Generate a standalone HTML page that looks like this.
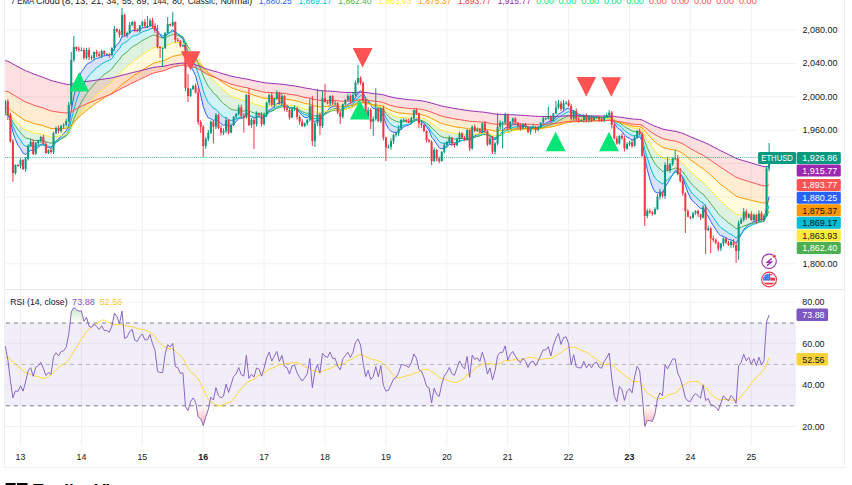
<!DOCTYPE html>
<html><head><meta charset="utf-8"><style>
html,body{margin:0;padding:0;background:#fff;width:852px;height:485px;overflow:hidden}
svg{display:block}
</style></head><body>
<svg width="852" height="485" viewBox="0 0 852 485">
<line x1="20.5" y1="0" x2="20.5" y2="446" stroke="#f1f1f3" stroke-width="1"/>
<line x1="81.4" y1="0" x2="81.4" y2="446" stroke="#f1f1f3" stroke-width="1"/>
<line x1="142.3" y1="0" x2="142.3" y2="446" stroke="#f1f1f3" stroke-width="1"/>
<line x1="203.2" y1="0" x2="203.2" y2="446" stroke="#f1f1f3" stroke-width="1"/>
<line x1="264.1" y1="0" x2="264.1" y2="446" stroke="#f1f1f3" stroke-width="1"/>
<line x1="325.0" y1="0" x2="325.0" y2="446" stroke="#f1f1f3" stroke-width="1"/>
<line x1="385.9" y1="0" x2="385.9" y2="446" stroke="#f1f1f3" stroke-width="1"/>
<line x1="446.8" y1="0" x2="446.8" y2="446" stroke="#f1f1f3" stroke-width="1"/>
<line x1="507.7" y1="0" x2="507.7" y2="446" stroke="#f1f1f3" stroke-width="1"/>
<line x1="568.6" y1="0" x2="568.6" y2="446" stroke="#f1f1f3" stroke-width="1"/>
<line x1="629.5" y1="0" x2="629.5" y2="446" stroke="#f1f1f3" stroke-width="1"/>
<line x1="690.4" y1="0" x2="690.4" y2="446" stroke="#f1f1f3" stroke-width="1"/>
<line x1="751.3" y1="0" x2="751.3" y2="446" stroke="#f1f1f3" stroke-width="1"/>
<line x1="5" y1="30.0" x2="796" y2="30.0" stroke="#f1f1f3" stroke-width="1"/>
<line x1="5" y1="63.4" x2="796" y2="63.4" stroke="#f1f1f3" stroke-width="1"/>
<line x1="5" y1="96.8" x2="796" y2="96.8" stroke="#f1f1f3" stroke-width="1"/>
<line x1="5" y1="130.2" x2="796" y2="130.2" stroke="#f1f1f3" stroke-width="1"/>
<line x1="5" y1="163.6" x2="796" y2="163.6" stroke="#f1f1f3" stroke-width="1"/>
<line x1="5" y1="197.0" x2="796" y2="197.0" stroke="#f1f1f3" stroke-width="1"/>
<line x1="5" y1="230.4" x2="796" y2="230.4" stroke="#f1f1f3" stroke-width="1"/>
<line x1="5" y1="263.8" x2="796" y2="263.8" stroke="#f1f1f3" stroke-width="1"/>
<line x1="5" y1="302.3" x2="796" y2="302.3" stroke="#f1f1f3" stroke-width="1"/>
<line x1="5" y1="343.7" x2="796" y2="343.7" stroke="#f1f1f3" stroke-width="1"/>
<line x1="5" y1="385.1" x2="796" y2="385.1" stroke="#f1f1f3" stroke-width="1"/>
<line x1="5" y1="426.5" x2="796" y2="426.5" stroke="#f1f1f3" stroke-width="1"/>
<polygon points="5.30,114.29 7.84,114.38 10.38,120.38 12.91,132.08 15.45,139.39 17.99,145.31 20.53,148.57 23.06,153.11 25.60,154.42 28.14,152.55 30.68,150.20 33.21,151.05 35.75,149.26 38.29,147.42 40.82,145.11 43.36,144.86 45.90,146.67 48.44,147.41 50.98,148.43 53.51,145.00 56.05,141.22 58.59,138.95 61.12,136.07 63.66,133.61 66.20,130.81 68.74,125.07 71.28,110.61 73.81,96.48 76.35,85.93 78.89,77.94 81.42,71.73 83.96,68.68 86.50,64.53 89.04,62.86 91.58,61.78 94.11,59.60 96.65,58.36 99.19,57.83 101.72,56.32 104.26,55.80 106.80,55.40 109.34,55.31 111.88,53.69 114.41,48.20 116.95,44.38 119.49,42.29 122.03,36.23 124.56,35.96 127.10,35.30 129.64,33.01 132.18,30.56 134.71,30.44 137.25,30.56 139.79,29.44 142.33,27.79 144.86,27.39 147.40,27.08 149.94,25.62 152.48,25.70 155.01,26.77 157.55,31.26 160.09,34.98 162.63,37.88 165.16,36.79 167.70,33.95 170.24,32.07 172.78,29.83 175.31,32.09 177.85,34.07 180.39,36.72 182.93,38.70 185.46,49.65 188.00,59.95 190.54,66.41 193.08,70.76 195.61,75.61 198.15,85.92 200.69,95.05 203.23,106.37 205.76,113.62 208.30,117.84 210.84,118.70 213.38,120.48 215.91,119.26 218.45,121.20 220.99,123.73 223.53,125.35 226.06,124.16 228.60,126.04 231.14,125.81 233.68,123.78 236.21,121.61 238.75,118.47 241.29,117.92 243.83,117.85 246.36,112.77 248.90,115.49 251.44,116.49 253.98,118.16 256.51,117.10 259.05,116.64 261.59,118.27 264.12,117.55 266.66,114.22 269.20,109.95 271.74,108.85 274.28,106.66 276.81,103.54 279.35,103.51 281.89,101.84 284.43,103.30 286.96,104.79 289.50,107.63 292.04,107.94 294.58,108.04 297.11,109.99 299.65,112.61 302.19,115.59 304.73,117.32 307.26,117.92 309.80,115.27 312.34,120.99 314.88,121.52 317.41,119.94 319.95,121.29 322.49,116.16 325.03,113.01 327.56,110.88 330.10,107.57 332.64,106.64 335.18,105.92 337.71,107.41 340.25,109.47 342.79,108.30 345.33,106.46 347.86,104.13 350.40,103.44 352.94,101.56 355.48,97.35 358.01,93.05 360.55,90.82 363.09,92.86 365.62,98.15 368.16,100.79 370.70,105.46 373.24,108.47 375.78,108.45 378.31,111.24 380.85,110.61 383.39,116.61 385.93,123.49 388.46,128.67 391.00,131.41 393.54,132.21 396.08,132.47 398.61,131.57 401.15,129.00 403.69,127.00 406.23,125.67 408.76,124.98 411.30,123.52 413.84,120.52 416.38,118.93 418.91,119.93 421.45,121.05 423.99,123.26 426.53,126.98 429.06,130.28 431.60,137.10 434.14,139.97 436.68,144.09 439.21,147.85 441.75,148.72 444.29,147.90 446.83,146.54 449.36,144.55 451.90,144.32 454.44,144.47 456.98,143.32 459.51,141.14 462.05,140.35 464.59,140.27 467.12,137.99 469.66,140.33 472.20,137.32 474.74,135.92 477.28,134.45 479.81,134.04 482.35,131.67 484.89,131.52 487.43,134.36 489.96,135.28 492.50,138.95 495.04,139.96 497.58,137.04 500.11,133.83 502.65,131.33 505.19,127.70 507.73,127.86 510.26,126.51 512.80,124.71 515.34,124.24 517.88,124.63 520.41,125.47 522.95,125.21 525.49,125.56 528.02,126.95 530.56,127.09 533.10,127.03 535.64,127.69 538.17,127.49 540.71,126.40 543.25,124.63 545.79,123.24 548.32,121.63 550.86,121.49 553.40,119.69 555.94,117.01 558.48,113.98 561.01,112.88 563.55,110.77 566.09,108.95 568.62,108.30 571.16,110.54 573.70,110.64 576.24,112.57 578.77,114.22 581.31,115.50 583.85,115.61 586.39,116.59 588.92,116.81 591.46,117.52 594.00,117.54 596.54,117.37 599.07,117.80 601.61,118.29 604.15,117.96 606.69,117.30 609.23,116.26 611.76,118.20 614.30,122.71 616.84,127.33 619.38,129.26 621.91,131.31 624.45,135.13 626.99,137.10 629.52,138.30 632.06,140.01 634.60,139.45 637.14,137.58 639.67,136.78 642.21,141.05 644.75,157.71 647.29,169.55 649.82,179.09 652.36,186.85 654.90,191.77 657.44,192.87 659.98,192.61 662.51,193.36 665.05,187.06 667.59,183.27 670.12,178.99 672.66,174.41 675.20,170.76 677.74,171.55 680.27,173.65 682.81,178.04 685.35,185.36 687.89,192.33 690.42,197.94 692.96,201.38 695.50,203.52 698.04,205.89 700.57,208.49 703.11,208.27 705.65,213.10 708.19,216.50 710.73,221.39 713.26,225.52 715.80,229.32 718.34,233.58 720.88,235.79 723.41,236.39 725.95,237.77 728.49,239.38 731.02,239.91 733.56,241.04 736.10,243.26 738.64,238.84 741.17,234.66 743.71,229.56 746.25,226.90 748.79,224.08 751.32,223.17 753.86,221.35 756.40,221.28 758.94,219.53 761.48,219.63 764.01,218.82 766.55,207.64 769.09,196.59 769.09,205.60 766.55,213.55 764.01,221.06 761.48,221.90 758.94,222.22 756.40,223.69 753.86,224.14 751.32,225.66 748.79,226.61 746.25,228.68 743.71,230.52 741.17,233.66 738.64,235.93 736.10,238.02 733.56,235.86 731.02,234.34 728.49,233.09 725.95,231.11 723.41,229.20 720.88,227.64 718.34,225.00 715.80,221.09 713.26,217.50 710.73,213.75 708.19,209.62 705.65,206.50 703.11,202.58 700.57,201.76 698.04,199.12 695.50,196.60 692.96,194.20 690.42,191.00 687.89,186.57 685.35,181.55 682.81,176.64 680.27,173.85 677.74,172.66 675.20,172.38 672.66,174.78 670.12,177.51 667.59,179.76 665.05,181.39 662.51,184.12 659.98,182.14 657.44,180.54 654.90,177.85 652.36,172.66 649.82,165.77 647.29,157.98 644.75,149.15 642.21,138.00 639.67,135.00 637.14,135.17 634.60,135.87 632.06,135.60 629.52,133.86 626.99,132.42 624.45,130.49 621.91,127.49 619.38,125.66 616.84,123.93 614.30,120.67 611.76,117.70 609.23,116.48 606.69,117.13 604.15,117.48 601.61,117.60 599.07,117.20 596.54,116.85 594.00,116.85 591.46,116.73 588.92,116.18 586.39,115.95 583.85,115.27 581.31,115.15 578.77,114.34 576.24,113.40 573.70,112.42 571.16,112.65 568.62,111.70 566.09,112.65 563.55,114.32 561.01,116.14 558.48,117.33 555.94,119.65 553.40,121.66 550.86,123.04 548.32,123.38 545.79,124.61 543.25,125.64 540.71,126.85 538.17,127.56 535.64,127.68 533.10,127.30 530.56,127.38 528.02,127.35 525.49,126.60 522.95,126.57 520.41,126.95 517.88,126.71 515.34,126.82 512.80,127.53 510.26,129.05 507.73,130.26 505.19,130.57 502.65,133.16 500.11,134.92 497.58,136.98 495.04,138.67 492.50,137.87 489.96,135.55 487.43,135.05 484.89,133.51 482.35,133.93 479.81,135.69 477.28,136.20 474.74,137.35 472.20,138.41 469.66,140.35 467.12,138.99 464.59,140.49 462.05,140.57 459.51,141.06 456.98,142.32 454.44,142.82 451.90,142.46 449.36,142.29 446.83,143.07 444.29,143.28 441.75,143.00 439.21,141.53 436.68,138.28 434.14,134.91 431.60,132.40 429.06,127.63 426.53,125.27 423.99,122.81 421.45,121.45 418.91,120.86 416.38,120.44 413.84,121.61 411.30,123.54 408.76,124.40 406.23,124.70 403.69,125.32 401.15,126.20 398.61,127.24 396.08,127.04 393.54,125.98 391.00,124.48 388.46,121.73 385.93,117.55 383.39,112.54 380.85,108.36 378.31,108.35 375.78,106.25 373.24,105.89 370.70,103.70 368.16,100.68 365.62,99.13 363.09,96.20 360.55,95.57 358.01,97.67 355.48,100.94 352.94,104.00 350.40,105.50 347.86,106.25 345.33,107.96 342.79,109.29 340.25,110.13 337.71,109.04 335.18,108.45 332.64,109.29 330.10,110.27 327.56,112.65 325.03,114.19 322.49,116.22 319.95,119.22 317.41,118.09 314.88,118.71 312.34,117.92 309.80,114.08 307.26,115.42 304.73,114.66 302.19,113.20 299.65,111.07 297.11,109.28 294.58,108.03 292.04,107.97 289.50,107.80 286.96,106.16 284.43,105.52 281.89,105.04 279.35,106.55 276.81,107.07 274.28,109.49 271.74,111.23 269.20,112.27 266.66,115.15 264.12,117.24 261.59,117.62 259.05,116.55 256.51,116.81 253.98,117.38 251.44,116.28 248.90,115.66 246.36,114.10 243.83,117.28 241.29,117.23 238.75,117.43 236.21,119.09 233.68,119.94 231.14,120.48 228.60,119.72 226.06,117.58 223.53,117.17 220.99,114.87 218.45,111.91 215.91,109.23 213.38,108.27 210.84,105.20 208.30,102.45 205.76,97.43 203.23,90.50 200.69,81.25 198.15,73.62 195.61,65.56 193.08,61.05 190.54,56.90 188.00,51.55 185.46,44.14 182.93,36.83 180.39,35.36 177.85,33.59 175.31,32.36 172.78,31.08 170.24,32.60 167.70,33.78 165.16,35.41 162.63,35.81 160.09,33.78 157.55,31.41 155.01,28.81 152.48,28.53 149.94,28.95 147.40,30.36 144.86,31.09 142.33,31.93 139.79,33.59 137.25,34.94 134.71,35.59 132.18,36.53 129.64,38.95 127.10,41.27 124.56,42.65 122.03,43.92 119.49,48.74 116.95,51.04 114.41,54.37 111.88,58.60 109.34,60.37 106.80,61.27 104.26,62.48 101.72,63.89 99.19,66.04 96.65,67.71 94.11,70.00 91.58,73.00 89.04,75.50 86.50,78.58 83.96,83.34 81.42,87.56 78.89,93.82 76.35,101.13 73.81,109.82 71.28,120.29 68.74,130.33 66.20,134.56 63.66,136.82 61.12,138.78 58.59,140.92 56.05,142.57 53.51,145.00 50.98,147.00 48.44,146.16 45.90,145.52 43.36,144.27 40.82,144.32 38.29,145.54 35.75,146.30 33.21,146.85 30.68,145.66 28.14,146.26 25.60,146.31 23.06,144.19 20.53,140.06 17.99,136.74 15.45,131.86 12.91,126.33 10.38,118.56 7.84,114.75 5.30,114.76" fill="#2962ff" fill-opacity="0.18"/>
<polygon points="5.30,114.76 7.84,114.75 10.38,118.56 12.91,126.33 15.45,131.86 17.99,136.74 20.53,140.06 23.06,144.19 25.60,146.31 28.14,146.26 30.68,145.66 33.21,146.85 35.75,146.30 38.29,145.54 40.82,144.32 43.36,144.27 45.90,145.52 48.44,146.16 50.98,147.00 53.51,145.00 56.05,142.57 58.59,140.92 61.12,138.78 63.66,136.82 66.20,134.56 68.74,130.33 71.28,120.29 73.81,109.82 76.35,101.13 78.89,93.82 81.42,87.56 83.96,83.34 86.50,78.58 89.04,75.50 91.58,73.00 94.11,70.00 96.65,67.71 99.19,66.04 101.72,63.89 104.26,62.48 106.80,61.27 109.34,60.37 111.88,58.60 114.41,54.37 116.95,51.04 119.49,48.74 122.03,43.92 124.56,42.65 127.10,41.27 129.64,38.95 132.18,36.53 134.71,35.59 137.25,34.94 139.79,33.59 142.33,31.93 144.86,31.09 147.40,30.36 149.94,28.95 152.48,28.53 155.01,28.81 157.55,31.41 160.09,33.78 162.63,35.81 165.16,35.41 167.70,33.78 170.24,32.60 172.78,31.08 175.31,32.36 177.85,33.59 180.39,35.36 182.93,36.83 185.46,44.14 188.00,51.55 190.54,56.90 193.08,61.05 195.61,65.56 198.15,73.62 200.69,81.25 203.23,90.50 205.76,97.43 208.30,102.45 210.84,105.20 213.38,108.27 215.91,109.23 218.45,111.91 220.99,114.87 223.53,117.17 226.06,117.58 228.60,119.72 231.14,120.48 233.68,119.94 236.21,119.09 238.75,117.43 241.29,117.23 243.83,117.28 246.36,114.10 248.90,115.66 251.44,116.28 253.98,117.38 256.51,116.81 259.05,116.55 261.59,117.62 264.12,117.24 266.66,115.15 269.20,112.27 271.74,111.23 274.28,109.49 276.81,107.07 279.35,106.55 281.89,105.04 284.43,105.52 286.96,106.16 289.50,107.80 292.04,107.97 294.58,108.03 297.11,109.28 299.65,111.07 302.19,113.20 304.73,114.66 307.26,115.42 309.80,114.08 312.34,117.92 314.88,118.71 317.41,118.09 319.95,119.22 322.49,116.22 325.03,114.19 327.56,112.65 330.10,110.27 332.64,109.29 335.18,108.45 337.71,109.04 340.25,110.13 342.79,109.29 345.33,107.96 347.86,106.25 350.40,105.50 352.94,104.00 355.48,100.94 358.01,97.67 360.55,95.57 363.09,96.20 365.62,99.13 368.16,100.68 370.70,103.70 373.24,105.89 375.78,106.25 378.31,108.35 380.85,108.36 383.39,112.54 385.93,117.55 388.46,121.73 391.00,124.48 393.54,125.98 396.08,127.04 398.61,127.24 401.15,126.20 403.69,125.32 406.23,124.70 408.76,124.40 411.30,123.54 413.84,121.61 416.38,120.44 418.91,120.86 421.45,121.45 423.99,122.81 426.53,125.27 429.06,127.63 431.60,132.40 434.14,134.91 436.68,138.28 439.21,141.53 441.75,143.00 444.29,143.28 446.83,143.07 449.36,142.29 451.90,142.46 454.44,142.82 456.98,142.32 459.51,141.06 462.05,140.57 464.59,140.49 467.12,138.99 469.66,140.35 472.20,138.41 474.74,137.35 477.28,136.20 479.81,135.69 482.35,133.93 484.89,133.51 487.43,135.05 489.96,135.55 492.50,137.87 495.04,138.67 497.58,136.98 500.11,134.92 502.65,133.16 505.19,130.57 507.73,130.26 510.26,129.05 512.80,127.53 515.34,126.82 517.88,126.71 520.41,126.95 522.95,126.57 525.49,126.60 528.02,127.35 530.56,127.38 533.10,127.30 535.64,127.68 538.17,127.56 540.71,126.85 543.25,125.64 545.79,124.61 548.32,123.38 550.86,123.04 553.40,121.66 555.94,119.65 558.48,117.33 561.01,116.14 563.55,114.32 566.09,112.65 568.62,111.70 571.16,112.65 573.70,112.42 576.24,113.40 578.77,114.34 581.31,115.15 583.85,115.27 586.39,115.95 588.92,116.18 591.46,116.73 594.00,116.85 596.54,116.85 599.07,117.20 601.61,117.60 604.15,117.48 606.69,117.13 609.23,116.48 611.76,117.70 614.30,120.67 616.84,123.93 619.38,125.66 621.91,127.49 624.45,130.49 626.99,132.42 629.52,133.86 632.06,135.60 634.60,135.87 637.14,135.17 639.67,135.00 642.21,138.00 644.75,149.15 647.29,157.98 649.82,165.77 652.36,172.66 654.90,177.85 657.44,180.54 659.98,182.14 662.51,184.12 665.05,181.39 667.59,179.76 670.12,177.51 672.66,174.78 675.20,172.38 677.74,172.66 680.27,173.85 682.81,176.64 685.35,181.55 687.89,186.57 690.42,191.00 692.96,194.20 695.50,196.60 698.04,199.12 700.57,201.76 703.11,202.58 705.65,206.50 708.19,209.62 710.73,213.75 713.26,217.50 715.80,221.09 718.34,225.00 720.88,227.64 723.41,229.20 725.95,231.11 728.49,233.09 731.02,234.34 733.56,235.86 736.10,238.02 738.64,235.93 741.17,233.66 743.71,230.52 746.25,228.68 748.79,226.61 751.32,225.66 753.86,224.14 756.40,223.69 758.94,222.22 761.48,221.90 764.01,221.06 766.55,213.55 769.09,205.60 769.09,211.16 766.55,216.48 764.01,221.28 761.48,221.81 758.94,221.99 756.40,222.85 753.86,223.03 751.32,223.84 748.79,224.22 746.25,225.22 743.71,225.98 741.17,227.41 738.64,228.15 736.10,228.63 733.56,226.39 731.02,224.53 728.49,222.80 725.95,220.58 723.41,218.38 720.88,216.37 718.34,213.66 715.80,210.17 713.26,206.93 710.73,203.62 708.19,200.14 705.65,197.31 703.11,194.04 700.57,192.69 698.04,190.20 695.50,187.80 692.96,185.48 690.42,182.69 687.89,179.20 685.35,175.45 682.81,171.90 680.27,169.75 677.74,168.62 675.20,168.05 672.66,169.06 670.12,170.13 667.59,170.74 665.05,170.81 662.51,171.39 659.98,168.93 657.44,166.66 654.90,163.65 652.36,159.12 649.82,153.63 647.29,147.74 644.75,141.41 642.21,133.96 639.67,131.75 637.14,131.53 634.60,131.58 632.06,130.99 629.52,129.49 626.99,128.18 624.45,126.60 621.91,124.41 619.38,123.00 616.84,121.71 614.30,119.53 611.76,117.63 609.23,116.89 606.69,117.32 604.15,117.55 601.61,117.63 599.07,117.39 596.54,117.20 594.00,117.24 591.46,117.20 588.92,116.92 586.39,116.86 583.85,116.54 581.31,116.59 578.77,116.25 576.24,115.88 573.70,115.54 571.16,115.99 568.62,115.75 566.09,116.73 563.55,118.14 561.01,119.61 558.48,120.67 555.94,122.40 553.40,123.88 550.86,124.93 548.32,125.32 545.79,126.25 543.25,127.04 540.71,127.90 538.17,128.43 535.64,128.60 533.10,128.46 530.56,128.62 528.02,128.72 525.49,128.42 522.95,128.58 520.41,129.01 517.88,129.07 515.34,129.37 512.80,130.05 510.26,131.22 507.73,132.16 505.19,132.53 502.65,134.29 500.11,135.46 497.58,136.74 495.04,137.74 492.50,137.16 489.96,135.69 487.43,135.41 484.89,134.53 482.35,134.88 479.81,136.03 477.28,136.37 474.74,137.08 472.20,137.68 469.66,138.77 467.12,137.80 464.59,138.58 462.05,138.44 459.51,138.52 456.98,139.02 454.44,138.99 451.90,138.39 449.36,137.88 446.83,137.91 444.29,137.52 441.75,136.77 439.21,135.27 436.68,132.70 434.14,130.12 431.60,128.13 429.06,124.84 426.53,123.15 423.99,121.46 421.45,120.51 418.91,120.06 416.38,119.72 413.84,120.36 411.30,121.39 408.76,121.69 406.23,121.60 403.69,121.66 401.15,121.83 398.61,122.01 396.08,121.37 393.54,120.17 391.00,118.68 388.46,116.45 385.93,113.42 383.39,110.00 380.85,107.24 378.31,107.12 375.78,105.73 373.24,105.47 370.70,104.12 368.16,102.35 365.62,101.58 363.09,100.07 360.55,100.08 358.01,101.78 355.48,104.16 352.94,106.32 350.40,107.45 347.86,108.10 345.33,109.30 342.79,110.24 340.25,110.84 337.71,110.25 335.18,110.02 332.64,110.68 330.10,111.41 327.56,112.95 325.03,113.90 322.49,115.09 319.95,116.78 317.41,115.86 314.88,116.01 312.34,115.27 309.80,112.70 307.26,113.37 304.73,112.70 302.19,111.63 299.65,110.19 297.11,109.03 294.58,108.26 292.04,108.24 289.50,108.17 286.96,107.22 284.43,106.95 281.89,106.80 279.35,107.88 276.81,108.33 274.28,109.90 271.74,110.99 269.20,111.59 266.66,113.25 264.12,114.32 261.59,114.25 259.05,113.27 256.51,113.10 253.98,113.07 251.44,111.98 248.90,111.18 246.36,109.80 243.83,111.27 241.29,110.64 238.75,110.11 236.21,110.37 233.68,110.00 231.14,109.33 228.60,107.77 226.06,105.28 223.53,103.81 220.99,101.09 218.45,97.94 215.91,94.94 213.38,92.93 210.84,89.55 208.30,86.34 205.76,81.71 203.23,75.98 200.69,68.98 198.15,63.18 195.61,57.30 193.08,53.77 190.54,50.55 188.00,46.70 185.46,41.77 182.93,37.15 180.39,36.30 177.85,35.33 175.31,34.77 172.78,34.24 170.24,35.47 167.70,36.47 165.16,37.71 162.63,38.18 160.09,37.20 157.55,36.12 155.01,35.03 152.48,35.49 149.94,36.44 147.40,38.03 144.86,39.23 142.33,40.56 139.79,42.41 137.25,44.10 134.71,45.41 132.18,46.95 129.64,49.45 127.10,51.90 124.56,53.78 122.03,55.66 119.49,59.73 116.95,62.20 114.41,65.32 111.88,68.96 109.34,71.05 106.80,72.66 104.26,74.52 101.72,76.57 99.19,79.13 96.65,81.44 94.11,84.19 91.58,87.41 89.04,90.35 86.50,93.68 83.96,98.05 81.42,102.06 78.89,107.26 76.35,112.99 73.81,119.39 71.28,126.62 68.74,133.29 66.20,136.12 63.66,137.63 61.12,138.89 58.59,140.18 56.05,141.10 53.51,142.41 50.98,143.35 48.44,142.48 45.90,141.73 43.36,140.60 40.82,140.26 38.29,140.59 35.75,140.55 33.21,140.30 30.68,138.93 28.14,138.63 25.60,137.89 23.06,135.78 20.53,132.46 17.99,129.70 15.45,126.07 12.91,122.18 10.38,117.10 7.84,114.67 5.30,114.66" fill="#00bcd4" fill-opacity="0.18"/>
<polygon points="5.30,114.66 7.84,114.67 10.38,117.10 12.91,122.18 15.45,126.07 17.99,129.70 20.53,132.46 23.06,135.78 25.60,137.89 28.14,138.63 30.68,138.93 33.21,140.30 35.75,140.55 38.29,140.59 40.82,140.26 43.36,140.60 45.90,141.73 48.44,142.48 50.98,143.35 53.51,142.41 56.05,141.10 58.59,140.18 61.12,138.89 63.66,137.63 66.20,136.12 68.74,133.29 71.28,126.62 73.81,119.39 76.35,112.99 78.89,107.26 81.42,102.06 83.96,98.05 86.50,93.68 89.04,90.35 91.58,87.41 94.11,84.19 96.65,81.44 99.19,79.13 101.72,76.57 104.26,74.52 106.80,72.66 109.34,71.05 111.88,68.96 114.41,65.32 116.95,62.20 119.49,59.73 122.03,55.66 124.56,53.78 127.10,51.90 129.64,49.45 132.18,46.95 134.71,45.41 137.25,44.10 139.79,42.41 142.33,40.56 144.86,39.23 147.40,38.03 149.94,36.44 152.48,35.49 155.01,35.03 157.55,36.12 160.09,37.20 162.63,38.18 165.16,37.71 167.70,36.47 170.24,35.47 172.78,34.24 175.31,34.77 177.85,35.33 180.39,36.30 182.93,37.15 185.46,41.77 188.00,46.70 190.54,50.55 193.08,53.77 195.61,57.30 198.15,63.18 200.69,68.98 203.23,75.98 205.76,81.71 208.30,86.34 210.84,89.55 213.38,92.93 215.91,94.94 218.45,97.94 220.99,101.09 223.53,103.81 226.06,105.28 228.60,107.77 231.14,109.33 233.68,110.00 236.21,110.37 238.75,110.11 241.29,110.64 243.83,111.27 246.36,109.80 248.90,111.18 251.44,111.98 253.98,113.07 256.51,113.10 259.05,113.27 261.59,114.25 264.12,114.32 266.66,113.25 269.20,111.59 271.74,110.99 274.28,109.90 276.81,108.33 279.35,107.88 281.89,106.80 284.43,106.95 286.96,107.22 289.50,108.17 292.04,108.24 294.58,108.26 297.11,109.03 299.65,110.19 302.19,111.63 304.73,112.70 307.26,113.37 309.80,112.70 312.34,115.27 314.88,116.01 317.41,115.86 319.95,116.78 322.49,115.09 325.03,113.90 327.56,112.95 330.10,111.41 332.64,110.68 335.18,110.02 337.71,110.25 340.25,110.84 342.79,110.24 345.33,109.30 347.86,108.10 350.40,107.45 352.94,106.32 355.48,104.16 358.01,101.78 360.55,100.08 363.09,100.07 365.62,101.58 368.16,102.35 370.70,104.12 373.24,105.47 375.78,105.73 378.31,107.12 380.85,107.24 383.39,110.00 385.93,113.42 388.46,116.45 391.00,118.68 393.54,120.17 396.08,121.37 398.61,122.01 401.15,121.83 403.69,121.66 406.23,121.60 408.76,121.69 411.30,121.39 413.84,120.36 416.38,119.72 418.91,120.06 421.45,120.51 423.99,121.46 426.53,123.15 429.06,124.84 431.60,128.13 434.14,130.12 436.68,132.70 439.21,135.27 441.75,136.77 444.29,137.52 446.83,137.91 449.36,137.88 451.90,138.39 454.44,138.99 456.98,139.02 459.51,138.52 462.05,138.44 464.59,138.58 467.12,137.80 469.66,138.77 472.20,137.68 474.74,137.08 477.28,136.37 479.81,136.03 482.35,134.88 484.89,134.53 487.43,135.41 489.96,135.69 492.50,137.16 495.04,137.74 497.58,136.74 500.11,135.46 502.65,134.29 505.19,132.53 507.73,132.16 510.26,131.22 512.80,130.05 515.34,129.37 517.88,129.07 520.41,129.01 522.95,128.58 525.49,128.42 528.02,128.72 530.56,128.62 533.10,128.46 535.64,128.60 538.17,128.43 540.71,127.90 543.25,127.04 545.79,126.25 548.32,125.32 550.86,124.93 553.40,123.88 555.94,122.40 558.48,120.67 561.01,119.61 563.55,118.14 566.09,116.73 568.62,115.75 571.16,115.99 573.70,115.54 576.24,115.88 578.77,116.25 581.31,116.59 583.85,116.54 586.39,116.86 588.92,116.92 591.46,117.20 594.00,117.24 596.54,117.20 599.07,117.39 601.61,117.63 604.15,117.55 606.69,117.32 609.23,116.89 611.76,117.63 614.30,119.53 616.84,121.71 619.38,123.00 621.91,124.41 624.45,126.60 626.99,128.18 629.52,129.49 632.06,130.99 634.60,131.58 637.14,131.53 639.67,131.75 642.21,133.96 644.75,141.41 647.29,147.74 649.82,153.63 652.36,159.12 654.90,163.65 657.44,166.66 659.98,168.93 662.51,171.39 665.05,170.81 667.59,170.74 670.12,170.13 672.66,169.06 675.20,168.05 677.74,168.62 680.27,169.75 682.81,171.90 685.35,175.45 687.89,179.20 690.42,182.69 692.96,185.48 695.50,187.80 698.04,190.20 700.57,192.69 703.11,194.04 705.65,197.31 708.19,200.14 710.73,203.62 713.26,206.93 715.80,210.17 718.34,213.66 720.88,216.37 723.41,218.38 725.95,220.58 728.49,222.80 731.02,224.53 733.56,226.39 736.10,228.63 738.64,228.15 741.17,227.41 743.71,225.98 746.25,225.22 748.79,224.22 751.32,223.84 753.86,223.03 756.40,222.85 758.94,221.99 761.48,221.81 764.01,221.28 766.55,216.48 769.09,211.16 769.09,209.87 766.55,213.02 764.01,215.72 761.48,215.71 758.94,215.45 756.40,215.57 753.86,215.24 751.32,215.25 748.79,214.97 746.25,215.01 743.71,214.86 741.17,215.05 738.64,214.75 736.10,214.22 733.56,212.00 731.02,209.99 728.49,208.07 725.95,205.83 723.41,203.60 720.88,201.49 718.34,198.94 715.80,195.94 713.26,193.11 710.73,190.26 708.19,187.34 705.65,184.85 703.11,182.12 700.57,180.58 698.04,178.33 695.50,176.16 692.96,174.05 690.42,171.67 687.89,168.88 685.35,165.98 682.81,163.25 680.27,161.43 677.74,160.24 675.20,159.39 672.66,159.47 670.12,159.54 667.59,159.27 665.05,158.62 662.51,158.23 659.98,155.94 657.44,153.78 654.90,151.17 652.36,147.67 649.82,143.65 647.29,139.48 644.75,135.14 642.21,130.24 639.67,128.68 637.14,128.36 634.60,128.20 632.06,127.63 629.52,126.52 626.99,125.55 624.45,124.43 621.91,122.97 619.38,122.03 616.84,121.19 614.30,119.84 611.76,118.70 609.23,118.32 606.69,118.67 604.15,118.89 601.61,119.02 599.07,118.96 596.54,118.94 594.00,119.07 591.46,119.16 588.92,119.11 586.39,119.20 583.85,119.15 581.31,119.34 578.77,119.30 576.24,119.26 573.70,119.25 571.16,119.75 568.62,119.84 566.09,120.67 563.55,121.77 561.01,122.88 558.48,123.72 555.94,124.96 553.40,126.01 550.86,126.77 548.32,127.12 545.79,127.80 543.25,128.37 540.71,128.97 538.17,129.36 535.64,129.51 533.10,129.48 530.56,129.64 528.02,129.77 525.49,129.64 522.95,129.82 520.41,130.15 517.88,130.26 515.34,130.52 512.80,130.99 510.26,131.76 507.73,132.36 505.19,132.60 502.65,133.67 500.11,134.34 497.58,135.05 495.04,135.55 492.50,135.07 489.96,134.06 487.43,133.79 484.89,133.15 482.35,133.28 479.81,133.88 477.28,133.96 474.74,134.24 472.20,134.43 469.66,134.90 467.12,134.07 464.59,134.32 462.05,133.97 459.51,133.75 456.98,133.77 454.44,133.43 451.90,132.73 449.36,132.08 446.83,131.75 444.29,131.14 441.75,130.30 439.21,128.99 436.68,127.05 434.14,125.15 431.60,123.64 429.06,121.38 426.53,120.14 423.99,118.94 421.45,118.21 418.91,117.79 416.38,117.45 413.84,117.70 411.30,118.17 408.76,118.15 406.23,117.88 403.69,117.69 401.15,117.55 398.61,117.41 396.08,116.74 393.54,115.73 391.00,114.56 388.46,112.96 385.93,110.91 383.39,108.68 380.85,106.93 378.31,106.84 375.78,105.98 373.24,105.84 370.70,105.04 368.16,104.02 365.62,103.66 363.09,102.87 360.55,103.05 358.01,104.26 355.48,105.85 352.94,107.26 350.40,108.01 347.86,108.43 345.33,109.18 342.79,109.74 340.25,110.08 337.71,109.67 335.18,109.50 332.64,109.87 330.10,110.26 327.56,111.12 325.03,111.59 322.49,112.17 319.95,113.02 317.41,112.23 314.88,112.10 312.34,111.42 309.80,109.62 307.26,109.84 304.73,109.23 302.19,108.37 299.65,107.30 297.11,106.42 294.58,105.79 292.04,105.63 289.50,105.43 286.96,104.69 284.43,104.37 281.89,104.13 279.35,104.62 276.81,104.69 274.28,105.43 271.74,105.82 269.20,105.86 266.66,106.52 264.12,106.76 261.59,106.26 259.05,105.19 256.51,104.59 253.98,104.06 251.44,102.85 248.90,101.81 246.36,100.40 243.83,100.73 241.29,99.71 238.75,98.72 236.21,98.19 233.68,97.23 231.14,96.05 228.60,94.30 226.06,91.98 223.53,90.28 220.99,87.81 218.45,85.09 215.91,82.49 213.38,80.52 210.84,77.73 208.30,75.06 205.76,71.57 203.23,67.49 200.69,62.73 198.15,58.83 195.61,55.01 193.08,52.73 190.54,50.71 188.00,48.39 185.46,45.50 182.93,42.93 180.39,42.77 177.85,42.57 175.31,42.67 172.78,42.83 170.24,44.09 167.70,45.22 165.16,46.50 162.63,47.32 160.09,47.28 157.55,47.24 155.01,47.25 152.48,48.27 149.94,49.62 147.40,51.38 144.86,52.92 142.33,54.55 139.79,56.52 137.25,58.40 134.71,60.06 132.18,61.89 129.64,64.30 127.10,66.68 124.56,68.73 122.03,70.77 119.49,74.15 116.95,76.52 114.41,79.28 111.88,82.33 109.34,84.41 106.80,86.19 104.26,88.14 101.72,90.21 99.19,92.59 96.65,94.81 94.11,97.28 91.58,100.02 89.04,102.57 86.50,105.33 83.96,108.69 81.42,111.76 78.89,115.50 76.35,119.47 73.81,123.74 71.28,128.39 68.74,132.54 66.20,134.21 63.66,135.01 61.12,135.61 58.59,136.20 56.05,136.51 53.51,137.03 50.98,137.27 48.44,136.38 45.90,135.55 43.36,134.50 40.82,133.92 38.29,133.73 35.75,133.29 33.21,132.71 30.68,131.41 28.14,130.77 25.60,129.85 23.06,128.08 20.53,125.60 17.99,123.52 15.45,120.94 12.91,118.27 10.38,114.96 7.84,113.36 5.30,113.27" fill="#4caf50" fill-opacity="0.18"/>
<polygon points="5.30,113.27 7.84,113.36 10.38,114.96 12.91,118.27 15.45,120.94 17.99,123.52 20.53,125.60 23.06,128.08 25.60,129.85 28.14,130.77 30.68,131.41 33.21,132.71 35.75,133.29 38.29,133.73 40.82,133.92 43.36,134.50 45.90,135.55 48.44,136.38 50.98,137.27 53.51,137.03 56.05,136.51 58.59,136.20 61.12,135.61 63.66,135.01 66.20,134.21 68.74,132.54 71.28,128.39 73.81,123.74 76.35,119.47 78.89,115.50 81.42,111.76 83.96,108.69 86.50,105.33 89.04,102.57 91.58,100.02 94.11,97.28 96.65,94.81 99.19,92.59 101.72,90.21 104.26,88.14 106.80,86.19 109.34,84.41 111.88,82.33 114.41,79.28 116.95,76.52 119.49,74.15 122.03,70.77 124.56,68.73 127.10,66.68 129.64,64.30 132.18,61.89 134.71,60.06 137.25,58.40 139.79,56.52 142.33,54.55 144.86,52.92 147.40,51.38 149.94,49.62 152.48,48.27 155.01,47.25 157.55,47.24 160.09,47.28 162.63,47.32 165.16,46.50 167.70,45.22 170.24,44.09 172.78,42.83 175.31,42.67 177.85,42.57 180.39,42.77 182.93,42.93 185.46,45.50 188.00,48.39 190.54,50.71 193.08,52.73 195.61,55.01 198.15,58.83 200.69,62.73 203.23,67.49 205.76,71.57 208.30,75.06 210.84,77.73 213.38,80.52 215.91,82.49 218.45,85.09 220.99,87.81 223.53,90.28 226.06,91.98 228.60,94.30 231.14,96.05 233.68,97.23 236.21,98.19 238.75,98.72 241.29,99.71 243.83,100.73 246.36,100.40 248.90,101.81 251.44,102.85 253.98,104.06 256.51,104.59 259.05,105.19 261.59,106.26 264.12,106.76 266.66,106.52 269.20,105.86 271.74,105.82 274.28,105.43 276.81,104.69 279.35,104.62 281.89,104.13 284.43,104.37 286.96,104.69 289.50,105.43 292.04,105.63 294.58,105.79 297.11,106.42 299.65,107.30 302.19,108.37 304.73,109.23 307.26,109.84 309.80,109.62 312.34,111.42 314.88,112.10 317.41,112.23 319.95,113.02 322.49,112.17 325.03,111.59 327.56,111.12 330.10,110.26 332.64,109.87 335.18,109.50 337.71,109.67 340.25,110.08 342.79,109.74 345.33,109.18 347.86,108.43 350.40,108.01 352.94,107.26 355.48,105.85 358.01,104.26 360.55,103.05 363.09,102.87 365.62,103.66 368.16,104.02 370.70,105.04 373.24,105.84 375.78,105.98 378.31,106.84 380.85,106.93 383.39,108.68 385.93,110.91 388.46,112.96 391.00,114.56 393.54,115.73 396.08,116.74 398.61,117.41 401.15,117.55 403.69,117.69 406.23,117.88 408.76,118.15 411.30,118.17 413.84,117.70 416.38,117.45 418.91,117.79 421.45,118.21 423.99,118.94 426.53,120.14 429.06,121.38 431.60,123.64 434.14,125.15 436.68,127.05 439.21,128.99 441.75,130.30 444.29,131.14 446.83,131.75 449.36,132.08 451.90,132.73 454.44,133.43 456.98,133.77 459.51,133.75 462.05,133.97 464.59,134.32 467.12,134.07 469.66,134.90 472.20,134.43 474.74,134.24 477.28,133.96 479.81,133.88 482.35,133.28 484.89,133.15 487.43,133.79 489.96,134.06 492.50,135.07 495.04,135.55 497.58,135.05 500.11,134.34 502.65,133.67 505.19,132.60 507.73,132.36 510.26,131.76 512.80,130.99 515.34,130.52 517.88,130.26 520.41,130.15 522.95,129.82 525.49,129.64 528.02,129.77 530.56,129.64 533.10,129.48 535.64,129.51 538.17,129.36 540.71,128.97 543.25,128.37 545.79,127.80 548.32,127.12 550.86,126.77 553.40,126.01 555.94,124.96 558.48,123.72 561.01,122.88 563.55,121.77 566.09,120.67 568.62,119.84 571.16,119.75 573.70,119.25 576.24,119.26 578.77,119.30 581.31,119.34 583.85,119.15 586.39,119.20 588.92,119.11 591.46,119.16 594.00,119.07 596.54,118.94 599.07,118.96 601.61,119.02 604.15,118.89 606.69,118.67 609.23,118.32 611.76,118.70 614.30,119.84 616.84,121.19 619.38,122.03 621.91,122.97 624.45,124.43 626.99,125.55 629.52,126.52 632.06,127.63 634.60,128.20 637.14,128.36 639.67,128.68 642.21,130.24 644.75,135.14 647.29,139.48 649.82,143.65 652.36,147.67 654.90,151.17 657.44,153.78 659.98,155.94 662.51,158.23 665.05,158.62 667.59,159.27 670.12,159.54 672.66,159.47 675.20,159.39 677.74,160.24 680.27,161.43 682.81,163.25 685.35,165.98 687.89,168.88 690.42,171.67 692.96,174.05 695.50,176.16 698.04,178.33 700.57,180.58 703.11,182.12 705.65,184.85 708.19,187.34 710.73,190.26 713.26,193.11 715.80,195.94 718.34,198.94 720.88,201.49 723.41,203.60 725.95,205.83 728.49,208.07 731.02,209.99 733.56,212.00 736.10,214.22 738.64,214.75 741.17,215.05 743.71,214.86 746.25,215.01 748.79,214.97 751.32,215.25 753.86,215.24 756.40,215.57 758.94,215.45 761.48,215.71 764.01,215.72 766.55,213.02 769.09,209.87 769.09,200.35 766.55,201.92 764.01,203.16 761.48,202.68 758.94,202.04 756.40,201.62 753.86,200.90 751.32,200.38 748.79,199.65 746.25,199.11 743.71,198.43 741.17,197.94 738.64,197.12 736.10,196.15 733.56,194.12 731.02,192.23 728.49,190.40 725.95,188.37 723.41,186.37 720.88,184.43 718.34,182.25 715.80,179.79 713.26,177.47 710.73,175.15 708.19,172.80 705.65,170.75 703.11,168.55 700.57,167.11 698.04,165.24 695.50,163.43 692.96,161.66 690.42,159.75 687.89,157.60 685.35,155.42 682.81,153.36 680.27,151.87 677.74,150.80 675.20,149.92 672.66,149.63 670.12,149.30 667.59,148.76 665.05,147.97 662.51,147.34 659.98,145.54 657.44,143.83 654.90,141.87 652.36,139.38 649.82,136.62 647.29,133.81 644.75,130.95 642.21,127.80 639.67,126.75 637.14,126.49 634.60,126.32 632.06,125.90 629.52,125.16 626.99,124.52 624.45,123.80 621.91,122.88 619.38,122.30 616.84,121.80 614.30,120.99 611.76,120.34 609.23,120.17 606.69,120.45 604.15,120.65 601.61,120.80 599.07,120.83 596.54,120.88 594.00,121.03 591.46,121.16 588.92,121.20 586.39,121.34 583.85,121.39 581.31,121.59 578.77,121.65 576.24,121.71 573.70,121.80 571.16,122.19 568.62,122.34 566.09,122.94 563.55,123.69 561.01,124.45 558.48,125.02 555.94,125.82 553.40,126.49 550.86,126.98 548.32,127.20 545.79,127.61 543.25,127.96 540.71,128.31 538.17,128.52 535.64,128.58 533.10,128.53 530.56,128.60 528.02,128.63 525.49,128.52 522.95,128.58 520.41,128.74 517.88,128.75 515.34,128.85 512.80,129.08 510.26,129.48 507.73,129.76 505.19,129.81 502.65,130.36 500.11,130.65 497.58,130.95 495.04,131.10 492.50,130.64 489.96,129.86 487.43,129.54 484.89,128.99 482.35,128.92 479.81,129.12 477.28,128.99 474.74,128.98 472.20,128.91 469.66,128.99 467.12,128.26 464.59,128.20 462.05,127.76 459.51,127.40 456.98,127.17 454.44,126.72 451.90,126.05 449.36,125.40 446.83,124.95 444.29,124.32 441.75,123.56 439.21,122.51 436.68,121.09 434.14,119.70 431.60,118.58 429.06,117.01 426.53,116.09 423.99,115.20 421.45,114.62 418.91,114.23 416.38,113.89 413.84,113.91 411.30,114.06 408.76,113.89 406.23,113.57 403.69,113.30 401.15,113.05 398.61,112.79 396.08,112.21 393.54,111.43 391.00,110.56 388.46,109.43 385.93,108.04 383.39,106.58 380.85,105.43 378.31,105.32 375.78,104.74 373.24,104.60 370.70,104.07 368.16,103.41 365.62,103.17 363.09,102.67 360.55,102.77 358.01,103.50 355.48,104.44 352.94,105.25 350.40,105.63 347.86,105.80 345.33,106.17 342.79,106.40 340.25,106.48 337.71,106.10 335.18,105.86 332.64,105.95 330.10,106.04 327.56,106.42 325.03,106.53 322.49,106.70 319.95,107.01 317.41,106.31 314.88,106.01 312.34,105.36 309.80,104.04 307.26,103.97 304.73,103.38 302.19,102.64 299.65,101.77 297.11,101.03 294.58,100.44 292.04,100.15 289.50,99.82 286.96,99.16 284.43,98.76 281.89,98.40 279.35,98.49 276.81,98.31 274.28,98.52 271.74,98.51 269.20,98.27 266.66,98.39 264.12,98.23 261.59,97.61 259.05,96.63 256.51,95.95 253.98,95.30 251.44,94.24 248.90,93.29 246.36,92.11 243.83,92.01 241.29,91.06 238.75,90.14 236.21,89.49 233.68,88.58 231.14,87.54 228.60,86.16 226.06,84.44 223.53,83.12 220.99,81.34 218.45,79.45 215.91,77.65 213.38,76.26 210.84,74.40 208.30,72.65 205.76,70.42 203.23,67.88 200.69,64.99 198.15,62.69 195.61,60.50 193.08,59.31 190.54,58.32 188.00,57.18 185.46,55.75 182.93,54.55 180.39,54.88 177.85,55.21 175.31,55.74 172.78,56.32 170.24,57.59 167.70,58.78 165.16,60.07 162.63,61.07 160.09,61.56 157.55,62.06 155.01,62.62 152.48,63.81 149.94,65.21 147.40,66.86 144.86,68.38 142.33,69.95 139.79,71.72 137.25,73.43 134.71,75.00 132.18,76.67 129.64,78.70 127.10,80.69 124.56,82.45 122.03,84.21 119.49,86.77 116.95,88.69 114.41,90.83 111.88,93.12 109.34,94.79 106.80,96.26 104.26,97.83 101.72,99.45 99.19,101.24 96.65,102.92 94.11,104.73 91.58,106.68 89.04,108.49 86.50,110.39 83.96,112.63 81.42,114.65 78.89,117.05 76.35,119.53 73.81,122.14 71.28,124.93 68.74,127.33 66.20,128.16 63.66,128.43 61.12,128.55 58.59,128.65 56.05,128.56 53.51,128.58 50.98,128.42 48.44,127.54 45.90,126.71 43.36,125.74 40.82,125.06 38.29,124.62 35.75,124.01 33.21,123.31 30.68,122.17 28.14,121.44 25.60,120.53 23.06,119.10 20.53,117.26 17.99,115.67 15.45,113.81 12.91,111.91 10.38,109.65 7.84,108.47 5.30,108.24" fill="#ffeb3b" fill-opacity="0.18"/>
<polygon points="5.30,108.24 7.84,108.47 10.38,109.65 12.91,111.91 15.45,113.81 17.99,115.67 20.53,117.26 23.06,119.10 25.60,120.53 28.14,121.44 30.68,122.17 33.21,123.31 35.75,124.01 38.29,124.62 40.82,125.06 43.36,125.74 45.90,126.71 48.44,127.54 50.98,128.42 53.51,128.58 56.05,128.56 58.59,128.65 61.12,128.55 63.66,128.43 66.20,128.16 68.74,127.33 71.28,124.93 73.81,122.14 76.35,119.53 78.89,117.05 81.42,114.65 83.96,112.63 86.50,110.39 89.04,108.49 91.58,106.68 94.11,104.73 96.65,102.92 99.19,101.24 101.72,99.45 104.26,97.83 106.80,96.26 109.34,94.79 111.88,93.12 114.41,90.83 116.95,88.69 119.49,86.77 122.03,84.21 124.56,82.45 127.10,80.69 129.64,78.70 132.18,76.67 134.71,75.00 137.25,73.43 139.79,71.72 142.33,69.95 144.86,68.38 147.40,66.86 149.94,65.21 152.48,63.81 155.01,62.62 157.55,62.06 160.09,61.56 162.63,61.07 165.16,60.07 167.70,58.78 170.24,57.59 172.78,56.32 175.31,55.74 177.85,55.21 180.39,54.88 182.93,54.55 185.46,55.75 188.00,57.18 190.54,58.32 193.08,59.31 195.61,60.50 198.15,62.69 200.69,64.99 203.23,67.88 205.76,70.42 208.30,72.65 210.84,74.40 213.38,76.26 215.91,77.65 218.45,79.45 220.99,81.34 223.53,83.12 226.06,84.44 228.60,86.16 231.14,87.54 233.68,88.58 236.21,89.49 238.75,90.14 241.29,91.06 243.83,92.01 246.36,92.11 248.90,93.29 251.44,94.24 253.98,95.30 256.51,95.95 259.05,96.63 261.59,97.61 264.12,98.23 266.66,98.39 269.20,98.27 271.74,98.51 274.28,98.52 276.81,98.31 279.35,98.49 281.89,98.40 284.43,98.76 286.96,99.16 289.50,99.82 292.04,100.15 294.58,100.44 297.11,101.03 299.65,101.77 302.19,102.64 304.73,103.38 307.26,103.97 309.80,104.04 312.34,105.36 314.88,106.01 317.41,106.31 319.95,107.01 322.49,106.70 325.03,106.53 327.56,106.42 330.10,106.04 332.64,105.95 335.18,105.86 337.71,106.10 340.25,106.48 342.79,106.40 345.33,106.17 347.86,105.80 350.40,105.63 352.94,105.25 355.48,104.44 358.01,103.50 360.55,102.77 363.09,102.67 365.62,103.17 368.16,103.41 370.70,104.07 373.24,104.60 375.78,104.74 378.31,105.32 380.85,105.43 383.39,106.58 385.93,108.04 388.46,109.43 391.00,110.56 393.54,111.43 396.08,112.21 398.61,112.79 401.15,113.05 403.69,113.30 406.23,113.57 408.76,113.89 411.30,114.06 413.84,113.91 416.38,113.89 418.91,114.23 421.45,114.62 423.99,115.20 426.53,116.09 429.06,117.01 431.60,118.58 434.14,119.70 436.68,121.09 439.21,122.51 441.75,123.56 444.29,124.32 446.83,124.95 449.36,125.40 451.90,126.05 454.44,126.72 456.98,127.17 459.51,127.40 462.05,127.76 464.59,128.20 467.12,128.26 469.66,128.99 472.20,128.91 474.74,128.98 477.28,128.99 479.81,129.12 482.35,128.92 484.89,128.99 487.43,129.54 489.96,129.86 492.50,130.64 495.04,131.10 497.58,130.95 500.11,130.65 502.65,130.36 505.19,129.81 507.73,129.76 510.26,129.48 512.80,129.08 515.34,128.85 517.88,128.75 520.41,128.74 522.95,128.58 525.49,128.52 528.02,128.63 530.56,128.60 533.10,128.53 535.64,128.58 538.17,128.52 540.71,128.31 543.25,127.96 545.79,127.61 548.32,127.20 550.86,126.98 553.40,126.49 555.94,125.82 558.48,125.02 561.01,124.45 563.55,123.69 566.09,122.94 568.62,122.34 571.16,122.19 573.70,121.80 576.24,121.71 578.77,121.65 581.31,121.59 583.85,121.39 586.39,121.34 588.92,121.20 591.46,121.16 594.00,121.03 596.54,120.88 599.07,120.83 601.61,120.80 604.15,120.65 606.69,120.45 609.23,120.17 611.76,120.34 614.30,120.99 616.84,121.80 619.38,122.30 621.91,122.88 624.45,123.80 626.99,124.52 629.52,125.16 632.06,125.90 634.60,126.32 637.14,126.49 639.67,126.75 642.21,127.80 644.75,130.95 647.29,133.81 649.82,136.62 652.36,139.38 654.90,141.87 657.44,143.83 659.98,145.54 662.51,147.34 665.05,147.97 667.59,148.76 670.12,149.30 672.66,149.63 675.20,149.92 677.74,150.80 680.27,151.87 682.81,153.36 685.35,155.42 687.89,157.60 690.42,159.75 692.96,161.66 695.50,163.43 698.04,165.24 700.57,167.11 703.11,168.55 705.65,170.75 708.19,172.80 710.73,175.15 713.26,177.47 715.80,179.79 718.34,182.25 720.88,184.43 723.41,186.37 725.95,188.37 728.49,190.40 731.02,192.23 733.56,194.12 736.10,196.15 738.64,197.12 741.17,197.94 743.71,198.43 746.25,199.11 748.79,199.65 751.32,200.38 753.86,200.90 756.40,201.62 758.94,202.04 761.48,202.68 764.01,203.16 766.55,201.92 769.09,200.35 769.09,184.98 766.55,185.60 764.01,185.99 761.48,185.30 758.94,184.52 756.40,183.86 753.86,183.02 751.32,182.29 748.79,181.43 746.25,180.69 743.71,179.85 741.17,179.12 738.64,178.19 736.10,177.17 733.56,175.49 731.02,173.91 728.49,172.37 725.95,170.72 723.41,169.08 720.88,167.50 718.34,165.78 715.80,163.90 713.26,162.11 710.73,160.34 708.19,158.56 705.65,156.97 703.11,155.31 700.57,154.13 698.04,152.69 695.50,151.29 692.96,149.93 690.42,148.49 687.89,146.92 685.35,145.33 682.81,143.84 680.27,142.71 677.74,141.84 675.20,141.10 672.66,140.72 670.12,140.32 667.59,139.78 665.05,139.09 662.51,138.51 659.98,137.20 657.44,135.96 654.90,134.58 652.36,132.89 649.82,131.04 647.29,129.19 644.75,127.33 642.21,125.32 639.67,124.62 637.14,124.41 634.60,124.26 632.06,123.96 629.52,123.46 626.99,123.02 624.45,122.55 621.91,121.96 619.38,121.58 616.84,121.25 614.30,120.75 611.76,120.34 609.23,120.24 606.69,120.41 604.15,120.54 601.61,120.62 599.07,120.63 596.54,120.66 594.00,120.75 591.46,120.82 588.92,120.84 586.39,120.92 583.85,120.94 581.31,121.05 578.77,121.07 576.24,121.10 573.70,121.14 571.16,121.37 568.62,121.44 566.09,121.79 563.55,122.22 561.01,122.65 558.48,122.96 555.94,123.41 553.40,123.77 550.86,124.00 548.32,124.07 545.79,124.25 543.25,124.39 540.71,124.52 538.17,124.57 535.64,124.52 533.10,124.39 530.56,124.34 528.02,124.26 525.49,124.09 522.95,124.03 520.41,124.02 517.88,123.92 515.34,123.88 512.80,123.90 510.26,124.03 507.73,124.08 505.19,123.98 502.65,124.19 500.11,124.22 497.58,124.26 495.04,124.20 492.50,123.76 489.96,123.13 487.43,122.78 484.89,122.29 482.35,122.09 479.81,122.06 477.28,121.82 474.74,121.65 472.20,121.44 469.66,121.32 467.12,120.70 464.59,120.49 462.05,120.04 459.51,119.64 456.98,119.33 454.44,118.87 451.90,118.28 449.36,117.71 446.83,117.26 444.29,116.70 441.75,116.05 439.21,115.24 436.68,114.20 434.14,113.20 431.60,112.36 429.06,111.25 426.53,110.56 423.99,109.89 421.45,109.41 418.91,109.06 416.38,108.73 413.84,108.62 411.30,108.59 408.76,108.37 406.23,108.05 403.69,107.75 401.15,107.47 398.61,107.19 396.08,106.71 393.54,106.10 391.00,105.44 388.46,104.64 385.93,103.68 383.39,102.68 380.85,101.89 378.31,101.74 375.78,101.30 373.24,101.14 370.70,100.73 368.16,100.25 365.62,100.03 363.09,99.65 360.55,99.65 358.01,100.02 355.48,100.52 352.94,100.93 350.40,101.07 347.86,101.07 345.33,101.18 342.79,101.21 340.25,101.14 337.71,100.79 335.18,100.52 332.64,100.45 330.10,100.39 327.56,100.49 325.03,100.42 322.49,100.39 319.95,100.43 317.41,99.85 314.88,99.52 312.34,98.98 309.80,98.03 307.26,97.84 304.73,97.34 302.19,96.75 299.65,96.08 297.11,95.50 294.58,95.02 292.04,94.71 289.50,94.39 286.96,93.86 284.43,93.49 281.89,93.15 279.35,93.09 276.81,92.85 274.28,92.86 271.74,92.72 269.20,92.44 266.66,92.38 264.12,92.15 261.59,91.63 259.05,90.90 256.51,90.35 253.98,89.82 251.44,89.05 248.90,88.34 246.36,87.51 243.83,87.34 241.29,86.65 238.75,85.99 236.21,85.50 233.68,84.85 231.14,84.13 228.60,83.20 226.06,82.07 223.53,81.21 220.99,80.08 218.45,78.89 215.91,77.77 213.38,76.92 210.84,75.79 208.30,74.75 205.76,73.43 203.23,71.94 200.69,70.26 198.15,68.97 195.61,67.77 193.08,67.20 190.54,66.77 188.00,66.27 185.46,65.59 182.93,65.08 180.39,65.53 177.85,65.97 175.31,66.54 172.78,67.14 170.24,68.17 167.70,69.14 165.16,70.16 162.63,71.01 160.09,71.53 157.55,72.07 155.01,72.64 152.48,73.59 149.94,74.67 147.40,75.91 144.86,77.04 142.33,78.20 139.79,79.48 137.25,80.70 134.71,81.83 132.18,83.01 129.64,84.40 127.10,85.75 124.56,86.95 122.03,88.13 119.49,89.79 116.95,91.04 114.41,92.40 111.88,93.84 109.34,94.88 106.80,95.79 104.26,96.74 101.72,97.71 99.19,98.77 96.65,99.74 94.11,100.78 91.58,101.89 89.04,102.89 86.50,103.93 83.96,105.16 81.42,106.23 78.89,107.51 76.35,108.82 73.81,110.17 71.28,111.61 68.74,112.78 66.20,112.96 63.66,112.78 61.12,112.50 58.59,112.19 56.05,111.77 53.51,111.40 50.98,110.91 48.44,109.97 45.90,109.06 43.36,108.06 40.82,107.25 38.29,106.57 35.75,105.79 33.21,104.94 30.68,103.83 28.14,102.96 25.60,101.98 23.06,100.69 20.53,99.13 17.99,97.75 15.45,96.20 12.91,94.63 10.38,92.85 7.84,91.75 5.30,91.23" fill="#ff9800" fill-opacity="0.18"/>
<polygon points="5.30,91.23 7.84,91.75 10.38,92.85 12.91,94.63 15.45,96.20 17.99,97.75 20.53,99.13 23.06,100.69 25.60,101.98 28.14,102.96 30.68,103.83 33.21,104.94 35.75,105.79 38.29,106.57 40.82,107.25 43.36,108.06 45.90,109.06 48.44,109.97 50.98,110.91 53.51,111.40 56.05,111.77 58.59,112.19 61.12,112.50 63.66,112.78 66.20,112.96 68.74,112.78 71.28,111.61 73.81,110.17 76.35,108.82 78.89,107.51 81.42,106.23 83.96,105.16 86.50,103.93 89.04,102.89 91.58,101.89 94.11,100.78 96.65,99.74 99.19,98.77 101.72,97.71 104.26,96.74 106.80,95.79 109.34,94.88 111.88,93.84 114.41,92.40 116.95,91.04 119.49,89.79 122.03,88.13 124.56,86.95 127.10,85.75 129.64,84.40 132.18,83.01 134.71,81.83 137.25,80.70 139.79,79.48 142.33,78.20 144.86,77.04 147.40,75.91 149.94,74.67 152.48,73.59 155.01,72.64 157.55,72.07 160.09,71.53 162.63,71.01 165.16,70.16 167.70,69.14 170.24,68.17 172.78,67.14 175.31,66.54 177.85,65.97 180.39,65.53 182.93,65.08 185.46,65.59 188.00,66.27 190.54,66.77 193.08,67.20 195.61,67.77 198.15,68.97 200.69,70.26 203.23,71.94 205.76,73.43 208.30,74.75 210.84,75.79 213.38,76.92 215.91,77.77 218.45,78.89 220.99,80.08 223.53,81.21 226.06,82.07 228.60,83.20 231.14,84.13 233.68,84.85 236.21,85.50 238.75,85.99 241.29,86.65 243.83,87.34 246.36,87.51 248.90,88.34 251.44,89.05 253.98,89.82 256.51,90.35 259.05,90.90 261.59,91.63 264.12,92.15 266.66,92.38 269.20,92.44 271.74,92.72 274.28,92.86 276.81,92.85 279.35,93.09 281.89,93.15 284.43,93.49 286.96,93.86 289.50,94.39 292.04,94.71 294.58,95.02 297.11,95.50 299.65,96.08 302.19,96.75 304.73,97.34 307.26,97.84 309.80,98.03 312.34,98.98 314.88,99.52 317.41,99.85 319.95,100.43 322.49,100.39 325.03,100.42 327.56,100.49 330.10,100.39 332.64,100.45 335.18,100.52 337.71,100.79 340.25,101.14 342.79,101.21 345.33,101.18 347.86,101.07 350.40,101.07 352.94,100.93 355.48,100.52 358.01,100.02 360.55,99.65 363.09,99.65 365.62,100.03 368.16,100.25 370.70,100.73 373.24,101.14 375.78,101.30 378.31,101.74 380.85,101.89 383.39,102.68 385.93,103.68 388.46,104.64 391.00,105.44 393.54,106.10 396.08,106.71 398.61,107.19 401.15,107.47 403.69,107.75 406.23,108.05 408.76,108.37 411.30,108.59 413.84,108.62 416.38,108.73 418.91,109.06 421.45,109.41 423.99,109.89 426.53,110.56 429.06,111.25 431.60,112.36 434.14,113.20 436.68,114.20 439.21,115.24 441.75,116.05 444.29,116.70 446.83,117.26 449.36,117.71 451.90,118.28 454.44,118.87 456.98,119.33 459.51,119.64 462.05,120.04 464.59,120.49 467.12,120.70 469.66,121.32 472.20,121.44 474.74,121.65 477.28,121.82 479.81,122.06 482.35,122.09 484.89,122.29 487.43,122.78 489.96,123.13 492.50,123.76 495.04,124.20 497.58,124.26 500.11,124.22 502.65,124.19 505.19,123.98 507.73,124.08 510.26,124.03 512.80,123.90 515.34,123.88 517.88,123.92 520.41,124.02 522.95,124.03 525.49,124.09 528.02,124.26 530.56,124.34 533.10,124.39 535.64,124.52 538.17,124.57 540.71,124.52 543.25,124.39 545.79,124.25 548.32,124.07 550.86,124.00 553.40,123.77 555.94,123.41 558.48,122.96 561.01,122.65 563.55,122.22 566.09,121.79 568.62,121.44 571.16,121.37 573.70,121.14 576.24,121.10 578.77,121.07 581.31,121.05 583.85,120.94 586.39,120.92 588.92,120.84 591.46,120.82 594.00,120.75 596.54,120.66 599.07,120.63 601.61,120.62 604.15,120.54 606.69,120.41 609.23,120.24 611.76,120.34 614.30,120.75 616.84,121.25 619.38,121.58 621.91,121.96 624.45,122.55 626.99,123.02 629.52,123.46 632.06,123.96 634.60,124.26 637.14,124.41 639.67,124.62 642.21,125.32 644.75,127.33 647.29,129.19 649.82,131.04 652.36,132.89 654.90,134.58 657.44,135.96 659.98,137.20 662.51,138.51 665.05,139.09 667.59,139.78 670.12,140.32 672.66,140.72 675.20,141.10 677.74,141.84 680.27,142.71 682.81,143.84 685.35,145.33 687.89,146.92 690.42,148.49 692.96,149.93 695.50,151.29 698.04,152.69 700.57,154.13 703.11,155.31 705.65,156.97 708.19,158.56 710.73,160.34 713.26,162.11 715.80,163.90 718.34,165.78 720.88,167.50 723.41,169.08 725.95,170.72 728.49,172.37 731.02,173.91 733.56,175.49 736.10,177.17 738.64,178.19 741.17,179.12 743.71,179.85 746.25,180.69 748.79,181.43 751.32,182.29 753.86,183.02 756.40,183.86 758.94,184.52 761.48,185.30 764.01,185.99 766.55,185.60 769.09,184.98 769.09,166.57 766.55,166.70 764.01,166.67 761.48,165.98 758.94,165.22 756.40,164.55 753.86,163.76 751.32,163.04 748.79,162.25 746.25,161.52 743.71,160.74 741.17,160.02 738.64,159.19 736.10,158.29 733.56,156.99 731.02,155.76 728.49,154.56 725.95,153.29 723.41,152.04 720.88,150.83 718.34,149.54 715.80,148.15 713.26,146.83 710.73,145.53 708.19,144.23 705.65,143.05 703.11,141.84 700.57,140.92 698.04,139.84 695.50,138.80 692.96,137.80 690.42,136.74 687.89,135.61 685.35,134.47 682.81,133.40 680.27,132.56 677.74,131.89 675.20,131.29 672.66,130.92 670.12,130.53 667.59,130.07 665.05,129.51 662.51,129.01 659.98,128.07 657.44,127.18 654.90,126.21 652.36,125.05 649.82,123.81 647.29,122.57 644.75,121.33 642.21,120.01 639.67,119.51 637.14,119.30 634.60,119.14 632.06,118.88 629.52,118.50 626.99,118.17 624.45,117.81 621.91,117.38 619.38,117.08 616.84,116.82 614.30,116.44 611.76,116.14 609.23,116.01 606.69,116.06 604.15,116.07 601.61,116.06 599.07,116.01 596.54,115.96 594.00,115.95 591.46,115.93 588.92,115.87 586.39,115.85 583.85,115.79 581.31,115.79 578.77,115.73 576.24,115.67 573.70,115.62 571.16,115.68 568.62,115.64 566.09,115.78 563.55,115.96 561.01,116.14 558.48,116.24 555.94,116.42 553.40,116.54 550.86,116.59 548.32,116.52 545.79,116.53 543.25,116.50 540.71,116.48 538.17,116.39 535.64,116.25 533.10,116.05 530.56,115.90 528.02,115.74 525.49,115.52 522.95,115.36 520.41,115.23 517.88,115.05 515.34,114.90 512.80,114.79 510.26,114.74 507.73,114.64 505.19,114.45 502.65,114.44 500.11,114.32 497.58,114.21 495.04,114.03 492.50,113.62 489.96,113.09 487.43,112.73 484.89,112.29 482.35,112.03 479.81,111.87 477.28,111.58 474.74,111.33 472.20,111.06 469.66,110.84 467.12,110.31 464.59,110.03 462.05,109.61 459.51,109.22 456.98,108.88 454.44,108.46 451.90,107.95 449.36,107.45 446.83,107.03 444.29,106.54 441.75,106.00 439.21,105.36 436.68,104.59 434.14,103.83 431.60,103.19 429.06,102.38 426.53,101.83 423.99,101.29 421.45,100.88 418.91,100.54 416.38,100.22 413.84,100.04 411.30,99.90 408.76,99.64 406.23,99.32 403.69,99.01 401.15,98.72 398.61,98.42 396.08,98.00 393.54,97.51 391.00,96.98 388.46,96.37 385.93,95.66 383.39,94.94 380.85,94.34 378.31,94.14 375.78,93.77 373.24,93.56 370.70,93.21 368.16,92.81 365.62,92.57 363.09,92.23 360.55,92.12 358.01,92.25 355.48,92.45 352.94,92.58 350.40,92.55 347.86,92.43 345.33,92.38 342.79,92.28 340.25,92.11 337.71,91.76 335.18,91.47 332.64,91.31 330.10,91.14 327.56,91.07 325.03,90.90 322.49,90.74 319.95,90.64 317.41,90.14 314.88,89.80 312.34,89.33 309.80,88.61 307.26,88.37 304.73,87.93 302.19,87.43 299.65,86.89 297.11,86.40 294.58,85.98 292.04,85.66 289.50,85.34 286.96,84.88 284.43,84.53 281.89,84.20 279.35,84.03 276.81,83.76 274.28,83.64 271.74,83.43 269.20,83.12 266.66,82.96 264.12,82.68 261.59,82.23 259.05,81.65 256.51,81.18 253.98,80.73 251.44,80.12 248.90,79.57 246.36,78.93 243.83,78.71 241.29,78.16 238.75,77.63 236.21,77.22 233.68,76.70 231.14,76.14 228.60,75.46 226.06,74.66 223.53,74.03 220.99,73.23 218.45,72.40 215.91,71.62 213.38,71.01 210.84,70.23 208.30,69.51 205.76,68.63 203.23,67.65 200.69,66.55 198.15,65.71 195.61,64.92 193.08,64.53 190.54,64.23 188.00,63.89 185.46,63.44 182.93,63.09 180.39,63.34 177.85,63.58 175.31,63.90 172.78,64.23 170.24,64.82 167.70,65.37 165.16,65.95 162.63,66.41 160.09,66.67 157.55,66.93 155.01,67.21 152.48,67.72 149.94,68.30 147.40,68.97 144.86,69.57 142.33,70.18 139.79,70.86 137.25,71.49 134.71,72.06 132.18,72.65 129.64,73.35 127.10,74.03 124.56,74.61 122.03,75.16 119.49,76.00 116.95,76.57 114.41,77.21 111.88,77.89 109.34,78.30 106.80,78.63 104.26,78.97 101.72,79.32 99.19,79.72 96.65,80.05 94.11,80.42 91.58,80.81 89.04,81.13 86.50,81.47 83.96,81.91 81.42,82.24 78.89,82.69 76.35,83.15 73.81,83.63 71.28,84.14 68.74,84.48 66.20,84.19 63.66,83.68 61.12,83.10 58.59,82.50 56.05,81.82 53.51,81.18 50.98,80.45 48.44,79.45 45.90,78.46 43.36,77.42 40.82,76.49 38.29,75.64 35.75,74.73 33.21,73.77 30.68,72.65 28.14,71.68 25.60,70.64 23.06,69.41 20.53,68.01 17.99,66.73 15.45,65.34 12.91,63.95 10.38,62.42 7.84,61.32 5.30,60.57" fill="#ff5252" fill-opacity="0.18"/>
<polyline points="5.30,114.29 7.84,114.38 10.38,120.38 12.91,132.08 15.45,139.39 17.99,145.31 20.53,148.57 23.06,153.11 25.60,154.42 28.14,152.55 30.68,150.20 33.21,151.05 35.75,149.26 38.29,147.42 40.82,145.11 43.36,144.86 45.90,146.67 48.44,147.41 50.98,148.43 53.51,145.00 56.05,141.22 58.59,138.95 61.12,136.07 63.66,133.61 66.20,130.81 68.74,125.07 71.28,110.61 73.81,96.48 76.35,85.93 78.89,77.94 81.42,71.73 83.96,68.68 86.50,64.53 89.04,62.86 91.58,61.78 94.11,59.60 96.65,58.36 99.19,57.83 101.72,56.32 104.26,55.80 106.80,55.40 109.34,55.31 111.88,53.69 114.41,48.20 116.95,44.38 119.49,42.29 122.03,36.23 124.56,35.96 127.10,35.30 129.64,33.01 132.18,30.56 134.71,30.44 137.25,30.56 139.79,29.44 142.33,27.79 144.86,27.39 147.40,27.08 149.94,25.62 152.48,25.70 155.01,26.77 157.55,31.26 160.09,34.98 162.63,37.88 165.16,36.79 167.70,33.95 170.24,32.07 172.78,29.83 175.31,32.09 177.85,34.07 180.39,36.72 182.93,38.70 185.46,49.65 188.00,59.95 190.54,66.41 193.08,70.76 195.61,75.61 198.15,85.92 200.69,95.05 203.23,106.37 205.76,113.62 208.30,117.84 210.84,118.70 213.38,120.48 215.91,119.26 218.45,121.20 220.99,123.73 223.53,125.35 226.06,124.16 228.60,126.04 231.14,125.81 233.68,123.78 236.21,121.61 238.75,118.47 241.29,117.92 243.83,117.85 246.36,112.77 248.90,115.49 251.44,116.49 253.98,118.16 256.51,117.10 259.05,116.64 261.59,118.27 264.12,117.55 266.66,114.22 269.20,109.95 271.74,108.85 274.28,106.66 276.81,103.54 279.35,103.51 281.89,101.84 284.43,103.30 286.96,104.79 289.50,107.63 292.04,107.94 294.58,108.04 297.11,109.99 299.65,112.61 302.19,115.59 304.73,117.32 307.26,117.92 309.80,115.27 312.34,120.99 314.88,121.52 317.41,119.94 319.95,121.29 322.49,116.16 325.03,113.01 327.56,110.88 330.10,107.57 332.64,106.64 335.18,105.92 337.71,107.41 340.25,109.47 342.79,108.30 345.33,106.46 347.86,104.13 350.40,103.44 352.94,101.56 355.48,97.35 358.01,93.05 360.55,90.82 363.09,92.86 365.62,98.15 368.16,100.79 370.70,105.46 373.24,108.47 375.78,108.45 378.31,111.24 380.85,110.61 383.39,116.61 385.93,123.49 388.46,128.67 391.00,131.41 393.54,132.21 396.08,132.47 398.61,131.57 401.15,129.00 403.69,127.00 406.23,125.67 408.76,124.98 411.30,123.52 413.84,120.52 416.38,118.93 418.91,119.93 421.45,121.05 423.99,123.26 426.53,126.98 429.06,130.28 431.60,137.10 434.14,139.97 436.68,144.09 439.21,147.85 441.75,148.72 444.29,147.90 446.83,146.54 449.36,144.55 451.90,144.32 454.44,144.47 456.98,143.32 459.51,141.14 462.05,140.35 464.59,140.27 467.12,137.99 469.66,140.33 472.20,137.32 474.74,135.92 477.28,134.45 479.81,134.04 482.35,131.67 484.89,131.52 487.43,134.36 489.96,135.28 492.50,138.95 495.04,139.96 497.58,137.04 500.11,133.83 502.65,131.33 505.19,127.70 507.73,127.86 510.26,126.51 512.80,124.71 515.34,124.24 517.88,124.63 520.41,125.47 522.95,125.21 525.49,125.56 528.02,126.95 530.56,127.09 533.10,127.03 535.64,127.69 538.17,127.49 540.71,126.40 543.25,124.63 545.79,123.24 548.32,121.63 550.86,121.49 553.40,119.69 555.94,117.01 558.48,113.98 561.01,112.88 563.55,110.77 566.09,108.95 568.62,108.30 571.16,110.54 573.70,110.64 576.24,112.57 578.77,114.22 581.31,115.50 583.85,115.61 586.39,116.59 588.92,116.81 591.46,117.52 594.00,117.54 596.54,117.37 599.07,117.80 601.61,118.29 604.15,117.96 606.69,117.30 609.23,116.26 611.76,118.20 614.30,122.71 616.84,127.33 619.38,129.26 621.91,131.31 624.45,135.13 626.99,137.10 629.52,138.30 632.06,140.01 634.60,139.45 637.14,137.58 639.67,136.78 642.21,141.05 644.75,157.71 647.29,169.55 649.82,179.09 652.36,186.85 654.90,191.77 657.44,192.87 659.98,192.61 662.51,193.36 665.05,187.06 667.59,183.27 670.12,178.99 672.66,174.41 675.20,170.76 677.74,171.55 680.27,173.65 682.81,178.04 685.35,185.36 687.89,192.33 690.42,197.94 692.96,201.38 695.50,203.52 698.04,205.89 700.57,208.49 703.11,208.27 705.65,213.10 708.19,216.50 710.73,221.39 713.26,225.52 715.80,229.32 718.34,233.58 720.88,235.79 723.41,236.39 725.95,237.77 728.49,239.38 731.02,239.91 733.56,241.04 736.10,243.26 738.64,238.84 741.17,234.66 743.71,229.56 746.25,226.90 748.79,224.08 751.32,223.17 753.86,221.35 756.40,221.28 758.94,219.53 761.48,219.63 764.01,218.82 766.55,207.64 769.09,196.59" fill="none" stroke="#2962ff" stroke-width="1"/>
<polyline points="5.30,114.76 7.84,114.75 10.38,118.56 12.91,126.33 15.45,131.86 17.99,136.74 20.53,140.06 23.06,144.19 25.60,146.31 28.14,146.26 30.68,145.66 33.21,146.85 35.75,146.30 38.29,145.54 40.82,144.32 43.36,144.27 45.90,145.52 48.44,146.16 50.98,147.00 53.51,145.00 56.05,142.57 58.59,140.92 61.12,138.78 63.66,136.82 66.20,134.56 68.74,130.33 71.28,120.29 73.81,109.82 76.35,101.13 78.89,93.82 81.42,87.56 83.96,83.34 86.50,78.58 89.04,75.50 91.58,73.00 94.11,70.00 96.65,67.71 99.19,66.04 101.72,63.89 104.26,62.48 106.80,61.27 109.34,60.37 111.88,58.60 114.41,54.37 116.95,51.04 119.49,48.74 122.03,43.92 124.56,42.65 127.10,41.27 129.64,38.95 132.18,36.53 134.71,35.59 137.25,34.94 139.79,33.59 142.33,31.93 144.86,31.09 147.40,30.36 149.94,28.95 152.48,28.53 155.01,28.81 157.55,31.41 160.09,33.78 162.63,35.81 165.16,35.41 167.70,33.78 170.24,32.60 172.78,31.08 175.31,32.36 177.85,33.59 180.39,35.36 182.93,36.83 185.46,44.14 188.00,51.55 190.54,56.90 193.08,61.05 195.61,65.56 198.15,73.62 200.69,81.25 203.23,90.50 205.76,97.43 208.30,102.45 210.84,105.20 213.38,108.27 215.91,109.23 218.45,111.91 220.99,114.87 223.53,117.17 226.06,117.58 228.60,119.72 231.14,120.48 233.68,119.94 236.21,119.09 238.75,117.43 241.29,117.23 243.83,117.28 246.36,114.10 248.90,115.66 251.44,116.28 253.98,117.38 256.51,116.81 259.05,116.55 261.59,117.62 264.12,117.24 266.66,115.15 269.20,112.27 271.74,111.23 274.28,109.49 276.81,107.07 279.35,106.55 281.89,105.04 284.43,105.52 286.96,106.16 289.50,107.80 292.04,107.97 294.58,108.03 297.11,109.28 299.65,111.07 302.19,113.20 304.73,114.66 307.26,115.42 309.80,114.08 312.34,117.92 314.88,118.71 317.41,118.09 319.95,119.22 322.49,116.22 325.03,114.19 327.56,112.65 330.10,110.27 332.64,109.29 335.18,108.45 337.71,109.04 340.25,110.13 342.79,109.29 345.33,107.96 347.86,106.25 350.40,105.50 352.94,104.00 355.48,100.94 358.01,97.67 360.55,95.57 363.09,96.20 365.62,99.13 368.16,100.68 370.70,103.70 373.24,105.89 375.78,106.25 378.31,108.35 380.85,108.36 383.39,112.54 385.93,117.55 388.46,121.73 391.00,124.48 393.54,125.98 396.08,127.04 398.61,127.24 401.15,126.20 403.69,125.32 406.23,124.70 408.76,124.40 411.30,123.54 413.84,121.61 416.38,120.44 418.91,120.86 421.45,121.45 423.99,122.81 426.53,125.27 429.06,127.63 431.60,132.40 434.14,134.91 436.68,138.28 439.21,141.53 441.75,143.00 444.29,143.28 446.83,143.07 449.36,142.29 451.90,142.46 454.44,142.82 456.98,142.32 459.51,141.06 462.05,140.57 464.59,140.49 467.12,138.99 469.66,140.35 472.20,138.41 474.74,137.35 477.28,136.20 479.81,135.69 482.35,133.93 484.89,133.51 487.43,135.05 489.96,135.55 492.50,137.87 495.04,138.67 497.58,136.98 500.11,134.92 502.65,133.16 505.19,130.57 507.73,130.26 510.26,129.05 512.80,127.53 515.34,126.82 517.88,126.71 520.41,126.95 522.95,126.57 525.49,126.60 528.02,127.35 530.56,127.38 533.10,127.30 535.64,127.68 538.17,127.56 540.71,126.85 543.25,125.64 545.79,124.61 548.32,123.38 550.86,123.04 553.40,121.66 555.94,119.65 558.48,117.33 561.01,116.14 563.55,114.32 566.09,112.65 568.62,111.70 571.16,112.65 573.70,112.42 576.24,113.40 578.77,114.34 581.31,115.15 583.85,115.27 586.39,115.95 588.92,116.18 591.46,116.73 594.00,116.85 596.54,116.85 599.07,117.20 601.61,117.60 604.15,117.48 606.69,117.13 609.23,116.48 611.76,117.70 614.30,120.67 616.84,123.93 619.38,125.66 621.91,127.49 624.45,130.49 626.99,132.42 629.52,133.86 632.06,135.60 634.60,135.87 637.14,135.17 639.67,135.00 642.21,138.00 644.75,149.15 647.29,157.98 649.82,165.77 652.36,172.66 654.90,177.85 657.44,180.54 659.98,182.14 662.51,184.12 665.05,181.39 667.59,179.76 670.12,177.51 672.66,174.78 675.20,172.38 677.74,172.66 680.27,173.85 682.81,176.64 685.35,181.55 687.89,186.57 690.42,191.00 692.96,194.20 695.50,196.60 698.04,199.12 700.57,201.76 703.11,202.58 705.65,206.50 708.19,209.62 710.73,213.75 713.26,217.50 715.80,221.09 718.34,225.00 720.88,227.64 723.41,229.20 725.95,231.11 728.49,233.09 731.02,234.34 733.56,235.86 736.10,238.02 738.64,235.93 741.17,233.66 743.71,230.52 746.25,228.68 748.79,226.61 751.32,225.66 753.86,224.14 756.40,223.69 758.94,222.22 761.48,221.90 764.01,221.06 766.55,213.55 769.09,205.60" fill="none" stroke="#00bcd4" stroke-width="1"/>
<polyline points="5.30,114.66 7.84,114.67 10.38,117.10 12.91,122.18 15.45,126.07 17.99,129.70 20.53,132.46 23.06,135.78 25.60,137.89 28.14,138.63 30.68,138.93 33.21,140.30 35.75,140.55 38.29,140.59 40.82,140.26 43.36,140.60 45.90,141.73 48.44,142.48 50.98,143.35 53.51,142.41 56.05,141.10 58.59,140.18 61.12,138.89 63.66,137.63 66.20,136.12 68.74,133.29 71.28,126.62 73.81,119.39 76.35,112.99 78.89,107.26 81.42,102.06 83.96,98.05 86.50,93.68 89.04,90.35 91.58,87.41 94.11,84.19 96.65,81.44 99.19,79.13 101.72,76.57 104.26,74.52 106.80,72.66 109.34,71.05 111.88,68.96 114.41,65.32 116.95,62.20 119.49,59.73 122.03,55.66 124.56,53.78 127.10,51.90 129.64,49.45 132.18,46.95 134.71,45.41 137.25,44.10 139.79,42.41 142.33,40.56 144.86,39.23 147.40,38.03 149.94,36.44 152.48,35.49 155.01,35.03 157.55,36.12 160.09,37.20 162.63,38.18 165.16,37.71 167.70,36.47 170.24,35.47 172.78,34.24 175.31,34.77 177.85,35.33 180.39,36.30 182.93,37.15 185.46,41.77 188.00,46.70 190.54,50.55 193.08,53.77 195.61,57.30 198.15,63.18 200.69,68.98 203.23,75.98 205.76,81.71 208.30,86.34 210.84,89.55 213.38,92.93 215.91,94.94 218.45,97.94 220.99,101.09 223.53,103.81 226.06,105.28 228.60,107.77 231.14,109.33 233.68,110.00 236.21,110.37 238.75,110.11 241.29,110.64 243.83,111.27 246.36,109.80 248.90,111.18 251.44,111.98 253.98,113.07 256.51,113.10 259.05,113.27 261.59,114.25 264.12,114.32 266.66,113.25 269.20,111.59 271.74,110.99 274.28,109.90 276.81,108.33 279.35,107.88 281.89,106.80 284.43,106.95 286.96,107.22 289.50,108.17 292.04,108.24 294.58,108.26 297.11,109.03 299.65,110.19 302.19,111.63 304.73,112.70 307.26,113.37 309.80,112.70 312.34,115.27 314.88,116.01 317.41,115.86 319.95,116.78 322.49,115.09 325.03,113.90 327.56,112.95 330.10,111.41 332.64,110.68 335.18,110.02 337.71,110.25 340.25,110.84 342.79,110.24 345.33,109.30 347.86,108.10 350.40,107.45 352.94,106.32 355.48,104.16 358.01,101.78 360.55,100.08 363.09,100.07 365.62,101.58 368.16,102.35 370.70,104.12 373.24,105.47 375.78,105.73 378.31,107.12 380.85,107.24 383.39,110.00 385.93,113.42 388.46,116.45 391.00,118.68 393.54,120.17 396.08,121.37 398.61,122.01 401.15,121.83 403.69,121.66 406.23,121.60 408.76,121.69 411.30,121.39 413.84,120.36 416.38,119.72 418.91,120.06 421.45,120.51 423.99,121.46 426.53,123.15 429.06,124.84 431.60,128.13 434.14,130.12 436.68,132.70 439.21,135.27 441.75,136.77 444.29,137.52 446.83,137.91 449.36,137.88 451.90,138.39 454.44,138.99 456.98,139.02 459.51,138.52 462.05,138.44 464.59,138.58 467.12,137.80 469.66,138.77 472.20,137.68 474.74,137.08 477.28,136.37 479.81,136.03 482.35,134.88 484.89,134.53 487.43,135.41 489.96,135.69 492.50,137.16 495.04,137.74 497.58,136.74 500.11,135.46 502.65,134.29 505.19,132.53 507.73,132.16 510.26,131.22 512.80,130.05 515.34,129.37 517.88,129.07 520.41,129.01 522.95,128.58 525.49,128.42 528.02,128.72 530.56,128.62 533.10,128.46 535.64,128.60 538.17,128.43 540.71,127.90 543.25,127.04 545.79,126.25 548.32,125.32 550.86,124.93 553.40,123.88 555.94,122.40 558.48,120.67 561.01,119.61 563.55,118.14 566.09,116.73 568.62,115.75 571.16,115.99 573.70,115.54 576.24,115.88 578.77,116.25 581.31,116.59 583.85,116.54 586.39,116.86 588.92,116.92 591.46,117.20 594.00,117.24 596.54,117.20 599.07,117.39 601.61,117.63 604.15,117.55 606.69,117.32 609.23,116.89 611.76,117.63 614.30,119.53 616.84,121.71 619.38,123.00 621.91,124.41 624.45,126.60 626.99,128.18 629.52,129.49 632.06,130.99 634.60,131.58 637.14,131.53 639.67,131.75 642.21,133.96 644.75,141.41 647.29,147.74 649.82,153.63 652.36,159.12 654.90,163.65 657.44,166.66 659.98,168.93 662.51,171.39 665.05,170.81 667.59,170.74 670.12,170.13 672.66,169.06 675.20,168.05 677.74,168.62 680.27,169.75 682.81,171.90 685.35,175.45 687.89,179.20 690.42,182.69 692.96,185.48 695.50,187.80 698.04,190.20 700.57,192.69 703.11,194.04 705.65,197.31 708.19,200.14 710.73,203.62 713.26,206.93 715.80,210.17 718.34,213.66 720.88,216.37 723.41,218.38 725.95,220.58 728.49,222.80 731.02,224.53 733.56,226.39 736.10,228.63 738.64,228.15 741.17,227.41 743.71,225.98 746.25,225.22 748.79,224.22 751.32,223.84 753.86,223.03 756.40,222.85 758.94,221.99 761.48,221.81 764.01,221.28 766.55,216.48 769.09,211.16" fill="none" stroke="#4caf50" stroke-width="1"/>
<polyline points="5.30,113.27 7.84,113.36 10.38,114.96 12.91,118.27 15.45,120.94 17.99,123.52 20.53,125.60 23.06,128.08 25.60,129.85 28.14,130.77 30.68,131.41 33.21,132.71 35.75,133.29 38.29,133.73 40.82,133.92 43.36,134.50 45.90,135.55 48.44,136.38 50.98,137.27 53.51,137.03 56.05,136.51 58.59,136.20 61.12,135.61 63.66,135.01 66.20,134.21 68.74,132.54 71.28,128.39 73.81,123.74 76.35,119.47 78.89,115.50 81.42,111.76 83.96,108.69 86.50,105.33 89.04,102.57 91.58,100.02 94.11,97.28 96.65,94.81 99.19,92.59 101.72,90.21 104.26,88.14 106.80,86.19 109.34,84.41 111.88,82.33 114.41,79.28 116.95,76.52 119.49,74.15 122.03,70.77 124.56,68.73 127.10,66.68 129.64,64.30 132.18,61.89 134.71,60.06 137.25,58.40 139.79,56.52 142.33,54.55 144.86,52.92 147.40,51.38 149.94,49.62 152.48,48.27 155.01,47.25 157.55,47.24 160.09,47.28 162.63,47.32 165.16,46.50 167.70,45.22 170.24,44.09 172.78,42.83 175.31,42.67 177.85,42.57 180.39,42.77 182.93,42.93 185.46,45.50 188.00,48.39 190.54,50.71 193.08,52.73 195.61,55.01 198.15,58.83 200.69,62.73 203.23,67.49 205.76,71.57 208.30,75.06 210.84,77.73 213.38,80.52 215.91,82.49 218.45,85.09 220.99,87.81 223.53,90.28 226.06,91.98 228.60,94.30 231.14,96.05 233.68,97.23 236.21,98.19 238.75,98.72 241.29,99.71 243.83,100.73 246.36,100.40 248.90,101.81 251.44,102.85 253.98,104.06 256.51,104.59 259.05,105.19 261.59,106.26 264.12,106.76 266.66,106.52 269.20,105.86 271.74,105.82 274.28,105.43 276.81,104.69 279.35,104.62 281.89,104.13 284.43,104.37 286.96,104.69 289.50,105.43 292.04,105.63 294.58,105.79 297.11,106.42 299.65,107.30 302.19,108.37 304.73,109.23 307.26,109.84 309.80,109.62 312.34,111.42 314.88,112.10 317.41,112.23 319.95,113.02 322.49,112.17 325.03,111.59 327.56,111.12 330.10,110.26 332.64,109.87 335.18,109.50 337.71,109.67 340.25,110.08 342.79,109.74 345.33,109.18 347.86,108.43 350.40,108.01 352.94,107.26 355.48,105.85 358.01,104.26 360.55,103.05 363.09,102.87 365.62,103.66 368.16,104.02 370.70,105.04 373.24,105.84 375.78,105.98 378.31,106.84 380.85,106.93 383.39,108.68 385.93,110.91 388.46,112.96 391.00,114.56 393.54,115.73 396.08,116.74 398.61,117.41 401.15,117.55 403.69,117.69 406.23,117.88 408.76,118.15 411.30,118.17 413.84,117.70 416.38,117.45 418.91,117.79 421.45,118.21 423.99,118.94 426.53,120.14 429.06,121.38 431.60,123.64 434.14,125.15 436.68,127.05 439.21,128.99 441.75,130.30 444.29,131.14 446.83,131.75 449.36,132.08 451.90,132.73 454.44,133.43 456.98,133.77 459.51,133.75 462.05,133.97 464.59,134.32 467.12,134.07 469.66,134.90 472.20,134.43 474.74,134.24 477.28,133.96 479.81,133.88 482.35,133.28 484.89,133.15 487.43,133.79 489.96,134.06 492.50,135.07 495.04,135.55 497.58,135.05 500.11,134.34 502.65,133.67 505.19,132.60 507.73,132.36 510.26,131.76 512.80,130.99 515.34,130.52 517.88,130.26 520.41,130.15 522.95,129.82 525.49,129.64 528.02,129.77 530.56,129.64 533.10,129.48 535.64,129.51 538.17,129.36 540.71,128.97 543.25,128.37 545.79,127.80 548.32,127.12 550.86,126.77 553.40,126.01 555.94,124.96 558.48,123.72 561.01,122.88 563.55,121.77 566.09,120.67 568.62,119.84 571.16,119.75 573.70,119.25 576.24,119.26 578.77,119.30 581.31,119.34 583.85,119.15 586.39,119.20 588.92,119.11 591.46,119.16 594.00,119.07 596.54,118.94 599.07,118.96 601.61,119.02 604.15,118.89 606.69,118.67 609.23,118.32 611.76,118.70 614.30,119.84 616.84,121.19 619.38,122.03 621.91,122.97 624.45,124.43 626.99,125.55 629.52,126.52 632.06,127.63 634.60,128.20 637.14,128.36 639.67,128.68 642.21,130.24 644.75,135.14 647.29,139.48 649.82,143.65 652.36,147.67 654.90,151.17 657.44,153.78 659.98,155.94 662.51,158.23 665.05,158.62 667.59,159.27 670.12,159.54 672.66,159.47 675.20,159.39 677.74,160.24 680.27,161.43 682.81,163.25 685.35,165.98 687.89,168.88 690.42,171.67 692.96,174.05 695.50,176.16 698.04,178.33 700.57,180.58 703.11,182.12 705.65,184.85 708.19,187.34 710.73,190.26 713.26,193.11 715.80,195.94 718.34,198.94 720.88,201.49 723.41,203.60 725.95,205.83 728.49,208.07 731.02,209.99 733.56,212.00 736.10,214.22 738.64,214.75 741.17,215.05 743.71,214.86 746.25,215.01 748.79,214.97 751.32,215.25 753.86,215.24 756.40,215.57 758.94,215.45 761.48,215.71 764.01,215.72 766.55,213.02 769.09,209.87" fill="none" stroke="#ffeb3b" stroke-width="1"/>
<polyline points="5.30,108.24 7.84,108.47 10.38,109.65 12.91,111.91 15.45,113.81 17.99,115.67 20.53,117.26 23.06,119.10 25.60,120.53 28.14,121.44 30.68,122.17 33.21,123.31 35.75,124.01 38.29,124.62 40.82,125.06 43.36,125.74 45.90,126.71 48.44,127.54 50.98,128.42 53.51,128.58 56.05,128.56 58.59,128.65 61.12,128.55 63.66,128.43 66.20,128.16 68.74,127.33 71.28,124.93 73.81,122.14 76.35,119.53 78.89,117.05 81.42,114.65 83.96,112.63 86.50,110.39 89.04,108.49 91.58,106.68 94.11,104.73 96.65,102.92 99.19,101.24 101.72,99.45 104.26,97.83 106.80,96.26 109.34,94.79 111.88,93.12 114.41,90.83 116.95,88.69 119.49,86.77 122.03,84.21 124.56,82.45 127.10,80.69 129.64,78.70 132.18,76.67 134.71,75.00 137.25,73.43 139.79,71.72 142.33,69.95 144.86,68.38 147.40,66.86 149.94,65.21 152.48,63.81 155.01,62.62 157.55,62.06 160.09,61.56 162.63,61.07 165.16,60.07 167.70,58.78 170.24,57.59 172.78,56.32 175.31,55.74 177.85,55.21 180.39,54.88 182.93,54.55 185.46,55.75 188.00,57.18 190.54,58.32 193.08,59.31 195.61,60.50 198.15,62.69 200.69,64.99 203.23,67.88 205.76,70.42 208.30,72.65 210.84,74.40 213.38,76.26 215.91,77.65 218.45,79.45 220.99,81.34 223.53,83.12 226.06,84.44 228.60,86.16 231.14,87.54 233.68,88.58 236.21,89.49 238.75,90.14 241.29,91.06 243.83,92.01 246.36,92.11 248.90,93.29 251.44,94.24 253.98,95.30 256.51,95.95 259.05,96.63 261.59,97.61 264.12,98.23 266.66,98.39 269.20,98.27 271.74,98.51 274.28,98.52 276.81,98.31 279.35,98.49 281.89,98.40 284.43,98.76 286.96,99.16 289.50,99.82 292.04,100.15 294.58,100.44 297.11,101.03 299.65,101.77 302.19,102.64 304.73,103.38 307.26,103.97 309.80,104.04 312.34,105.36 314.88,106.01 317.41,106.31 319.95,107.01 322.49,106.70 325.03,106.53 327.56,106.42 330.10,106.04 332.64,105.95 335.18,105.86 337.71,106.10 340.25,106.48 342.79,106.40 345.33,106.17 347.86,105.80 350.40,105.63 352.94,105.25 355.48,104.44 358.01,103.50 360.55,102.77 363.09,102.67 365.62,103.17 368.16,103.41 370.70,104.07 373.24,104.60 375.78,104.74 378.31,105.32 380.85,105.43 383.39,106.58 385.93,108.04 388.46,109.43 391.00,110.56 393.54,111.43 396.08,112.21 398.61,112.79 401.15,113.05 403.69,113.30 406.23,113.57 408.76,113.89 411.30,114.06 413.84,113.91 416.38,113.89 418.91,114.23 421.45,114.62 423.99,115.20 426.53,116.09 429.06,117.01 431.60,118.58 434.14,119.70 436.68,121.09 439.21,122.51 441.75,123.56 444.29,124.32 446.83,124.95 449.36,125.40 451.90,126.05 454.44,126.72 456.98,127.17 459.51,127.40 462.05,127.76 464.59,128.20 467.12,128.26 469.66,128.99 472.20,128.91 474.74,128.98 477.28,128.99 479.81,129.12 482.35,128.92 484.89,128.99 487.43,129.54 489.96,129.86 492.50,130.64 495.04,131.10 497.58,130.95 500.11,130.65 502.65,130.36 505.19,129.81 507.73,129.76 510.26,129.48 512.80,129.08 515.34,128.85 517.88,128.75 520.41,128.74 522.95,128.58 525.49,128.52 528.02,128.63 530.56,128.60 533.10,128.53 535.64,128.58 538.17,128.52 540.71,128.31 543.25,127.96 545.79,127.61 548.32,127.20 550.86,126.98 553.40,126.49 555.94,125.82 558.48,125.02 561.01,124.45 563.55,123.69 566.09,122.94 568.62,122.34 571.16,122.19 573.70,121.80 576.24,121.71 578.77,121.65 581.31,121.59 583.85,121.39 586.39,121.34 588.92,121.20 591.46,121.16 594.00,121.03 596.54,120.88 599.07,120.83 601.61,120.80 604.15,120.65 606.69,120.45 609.23,120.17 611.76,120.34 614.30,120.99 616.84,121.80 619.38,122.30 621.91,122.88 624.45,123.80 626.99,124.52 629.52,125.16 632.06,125.90 634.60,126.32 637.14,126.49 639.67,126.75 642.21,127.80 644.75,130.95 647.29,133.81 649.82,136.62 652.36,139.38 654.90,141.87 657.44,143.83 659.98,145.54 662.51,147.34 665.05,147.97 667.59,148.76 670.12,149.30 672.66,149.63 675.20,149.92 677.74,150.80 680.27,151.87 682.81,153.36 685.35,155.42 687.89,157.60 690.42,159.75 692.96,161.66 695.50,163.43 698.04,165.24 700.57,167.11 703.11,168.55 705.65,170.75 708.19,172.80 710.73,175.15 713.26,177.47 715.80,179.79 718.34,182.25 720.88,184.43 723.41,186.37 725.95,188.37 728.49,190.40 731.02,192.23 733.56,194.12 736.10,196.15 738.64,197.12 741.17,197.94 743.71,198.43 746.25,199.11 748.79,199.65 751.32,200.38 753.86,200.90 756.40,201.62 758.94,202.04 761.48,202.68 764.01,203.16 766.55,201.92 769.09,200.35" fill="none" stroke="#ff9800" stroke-width="1"/>
<polyline points="5.30,91.23 7.84,91.75 10.38,92.85 12.91,94.63 15.45,96.20 17.99,97.75 20.53,99.13 23.06,100.69 25.60,101.98 28.14,102.96 30.68,103.83 33.21,104.94 35.75,105.79 38.29,106.57 40.82,107.25 43.36,108.06 45.90,109.06 48.44,109.97 50.98,110.91 53.51,111.40 56.05,111.77 58.59,112.19 61.12,112.50 63.66,112.78 66.20,112.96 68.74,112.78 71.28,111.61 73.81,110.17 76.35,108.82 78.89,107.51 81.42,106.23 83.96,105.16 86.50,103.93 89.04,102.89 91.58,101.89 94.11,100.78 96.65,99.74 99.19,98.77 101.72,97.71 104.26,96.74 106.80,95.79 109.34,94.88 111.88,93.84 114.41,92.40 116.95,91.04 119.49,89.79 122.03,88.13 124.56,86.95 127.10,85.75 129.64,84.40 132.18,83.01 134.71,81.83 137.25,80.70 139.79,79.48 142.33,78.20 144.86,77.04 147.40,75.91 149.94,74.67 152.48,73.59 155.01,72.64 157.55,72.07 160.09,71.53 162.63,71.01 165.16,70.16 167.70,69.14 170.24,68.17 172.78,67.14 175.31,66.54 177.85,65.97 180.39,65.53 182.93,65.08 185.46,65.59 188.00,66.27 190.54,66.77 193.08,67.20 195.61,67.77 198.15,68.97 200.69,70.26 203.23,71.94 205.76,73.43 208.30,74.75 210.84,75.79 213.38,76.92 215.91,77.77 218.45,78.89 220.99,80.08 223.53,81.21 226.06,82.07 228.60,83.20 231.14,84.13 233.68,84.85 236.21,85.50 238.75,85.99 241.29,86.65 243.83,87.34 246.36,87.51 248.90,88.34 251.44,89.05 253.98,89.82 256.51,90.35 259.05,90.90 261.59,91.63 264.12,92.15 266.66,92.38 269.20,92.44 271.74,92.72 274.28,92.86 276.81,92.85 279.35,93.09 281.89,93.15 284.43,93.49 286.96,93.86 289.50,94.39 292.04,94.71 294.58,95.02 297.11,95.50 299.65,96.08 302.19,96.75 304.73,97.34 307.26,97.84 309.80,98.03 312.34,98.98 314.88,99.52 317.41,99.85 319.95,100.43 322.49,100.39 325.03,100.42 327.56,100.49 330.10,100.39 332.64,100.45 335.18,100.52 337.71,100.79 340.25,101.14 342.79,101.21 345.33,101.18 347.86,101.07 350.40,101.07 352.94,100.93 355.48,100.52 358.01,100.02 360.55,99.65 363.09,99.65 365.62,100.03 368.16,100.25 370.70,100.73 373.24,101.14 375.78,101.30 378.31,101.74 380.85,101.89 383.39,102.68 385.93,103.68 388.46,104.64 391.00,105.44 393.54,106.10 396.08,106.71 398.61,107.19 401.15,107.47 403.69,107.75 406.23,108.05 408.76,108.37 411.30,108.59 413.84,108.62 416.38,108.73 418.91,109.06 421.45,109.41 423.99,109.89 426.53,110.56 429.06,111.25 431.60,112.36 434.14,113.20 436.68,114.20 439.21,115.24 441.75,116.05 444.29,116.70 446.83,117.26 449.36,117.71 451.90,118.28 454.44,118.87 456.98,119.33 459.51,119.64 462.05,120.04 464.59,120.49 467.12,120.70 469.66,121.32 472.20,121.44 474.74,121.65 477.28,121.82 479.81,122.06 482.35,122.09 484.89,122.29 487.43,122.78 489.96,123.13 492.50,123.76 495.04,124.20 497.58,124.26 500.11,124.22 502.65,124.19 505.19,123.98 507.73,124.08 510.26,124.03 512.80,123.90 515.34,123.88 517.88,123.92 520.41,124.02 522.95,124.03 525.49,124.09 528.02,124.26 530.56,124.34 533.10,124.39 535.64,124.52 538.17,124.57 540.71,124.52 543.25,124.39 545.79,124.25 548.32,124.07 550.86,124.00 553.40,123.77 555.94,123.41 558.48,122.96 561.01,122.65 563.55,122.22 566.09,121.79 568.62,121.44 571.16,121.37 573.70,121.14 576.24,121.10 578.77,121.07 581.31,121.05 583.85,120.94 586.39,120.92 588.92,120.84 591.46,120.82 594.00,120.75 596.54,120.66 599.07,120.63 601.61,120.62 604.15,120.54 606.69,120.41 609.23,120.24 611.76,120.34 614.30,120.75 616.84,121.25 619.38,121.58 621.91,121.96 624.45,122.55 626.99,123.02 629.52,123.46 632.06,123.96 634.60,124.26 637.14,124.41 639.67,124.62 642.21,125.32 644.75,127.33 647.29,129.19 649.82,131.04 652.36,132.89 654.90,134.58 657.44,135.96 659.98,137.20 662.51,138.51 665.05,139.09 667.59,139.78 670.12,140.32 672.66,140.72 675.20,141.10 677.74,141.84 680.27,142.71 682.81,143.84 685.35,145.33 687.89,146.92 690.42,148.49 692.96,149.93 695.50,151.29 698.04,152.69 700.57,154.13 703.11,155.31 705.65,156.97 708.19,158.56 710.73,160.34 713.26,162.11 715.80,163.90 718.34,165.78 720.88,167.50 723.41,169.08 725.95,170.72 728.49,172.37 731.02,173.91 733.56,175.49 736.10,177.17 738.64,178.19 741.17,179.12 743.71,179.85 746.25,180.69 748.79,181.43 751.32,182.29 753.86,183.02 756.40,183.86 758.94,184.52 761.48,185.30 764.01,185.99 766.55,185.60 769.09,184.98" fill="none" stroke="#ff5252" stroke-width="1"/>
<polyline points="5.30,60.57 7.84,61.32 10.38,62.42 12.91,63.95 15.45,65.34 17.99,66.73 20.53,68.01 23.06,69.41 25.60,70.64 28.14,71.68 30.68,72.65 33.21,73.77 35.75,74.73 38.29,75.64 40.82,76.49 43.36,77.42 45.90,78.46 48.44,79.45 50.98,80.45 53.51,81.18 56.05,81.82 58.59,82.50 61.12,83.10 63.66,83.68 66.20,84.19 68.74,84.48 71.28,84.14 73.81,83.63 76.35,83.15 78.89,82.69 81.42,82.24 83.96,81.91 86.50,81.47 89.04,81.13 91.58,80.81 94.11,80.42 96.65,80.05 99.19,79.72 101.72,79.32 104.26,78.97 106.80,78.63 109.34,78.30 111.88,77.89 114.41,77.21 116.95,76.57 119.49,76.00 122.03,75.16 124.56,74.61 127.10,74.03 129.64,73.35 132.18,72.65 134.71,72.06 137.25,71.49 139.79,70.86 142.33,70.18 144.86,69.57 147.40,68.97 149.94,68.30 152.48,67.72 155.01,67.21 157.55,66.93 160.09,66.67 162.63,66.41 165.16,65.95 167.70,65.37 170.24,64.82 172.78,64.23 175.31,63.90 177.85,63.58 180.39,63.34 182.93,63.09 185.46,63.44 188.00,63.89 190.54,64.23 193.08,64.53 195.61,64.92 198.15,65.71 200.69,66.55 203.23,67.65 205.76,68.63 208.30,69.51 210.84,70.23 213.38,71.01 215.91,71.62 218.45,72.40 220.99,73.23 223.53,74.03 226.06,74.66 228.60,75.46 231.14,76.14 233.68,76.70 236.21,77.22 238.75,77.63 241.29,78.16 243.83,78.71 246.36,78.93 248.90,79.57 251.44,80.12 253.98,80.73 256.51,81.18 259.05,81.65 261.59,82.23 264.12,82.68 266.66,82.96 269.20,83.12 271.74,83.43 274.28,83.64 276.81,83.76 279.35,84.03 281.89,84.20 284.43,84.53 286.96,84.88 289.50,85.34 292.04,85.66 294.58,85.98 297.11,86.40 299.65,86.89 302.19,87.43 304.73,87.93 307.26,88.37 309.80,88.61 312.34,89.33 314.88,89.80 317.41,90.14 319.95,90.64 322.49,90.74 325.03,90.90 327.56,91.07 330.10,91.14 332.64,91.31 335.18,91.47 337.71,91.76 340.25,92.11 342.79,92.28 345.33,92.38 347.86,92.43 350.40,92.55 352.94,92.58 355.48,92.45 358.01,92.25 360.55,92.12 363.09,92.23 365.62,92.57 368.16,92.81 370.70,93.21 373.24,93.56 375.78,93.77 378.31,94.14 380.85,94.34 383.39,94.94 385.93,95.66 388.46,96.37 391.00,96.98 393.54,97.51 396.08,98.00 398.61,98.42 401.15,98.72 403.69,99.01 406.23,99.32 408.76,99.64 411.30,99.90 413.84,100.04 416.38,100.22 418.91,100.54 421.45,100.88 423.99,101.29 426.53,101.83 429.06,102.38 431.60,103.19 434.14,103.83 436.68,104.59 439.21,105.36 441.75,106.00 444.29,106.54 446.83,107.03 449.36,107.45 451.90,107.95 454.44,108.46 456.98,108.88 459.51,109.22 462.05,109.61 464.59,110.03 467.12,110.31 469.66,110.84 472.20,111.06 474.74,111.33 477.28,111.58 479.81,111.87 482.35,112.03 484.89,112.29 487.43,112.73 489.96,113.09 492.50,113.62 495.04,114.03 497.58,114.21 500.11,114.32 502.65,114.44 505.19,114.45 507.73,114.64 510.26,114.74 512.80,114.79 515.34,114.90 517.88,115.05 520.41,115.23 522.95,115.36 525.49,115.52 528.02,115.74 530.56,115.90 533.10,116.05 535.64,116.25 538.17,116.39 540.71,116.48 543.25,116.50 545.79,116.53 548.32,116.52 550.86,116.59 553.40,116.54 555.94,116.42 558.48,116.24 561.01,116.14 563.55,115.96 566.09,115.78 568.62,115.64 571.16,115.68 573.70,115.62 576.24,115.67 578.77,115.73 581.31,115.79 583.85,115.79 586.39,115.85 588.92,115.87 591.46,115.93 594.00,115.95 596.54,115.96 599.07,116.01 601.61,116.06 604.15,116.07 606.69,116.06 609.23,116.01 611.76,116.14 614.30,116.44 616.84,116.82 619.38,117.08 621.91,117.38 624.45,117.81 626.99,118.17 629.52,118.50 632.06,118.88 634.60,119.14 637.14,119.30 639.67,119.51 642.21,120.01 644.75,121.33 647.29,122.57 649.82,123.81 652.36,125.05 654.90,126.21 657.44,127.18 659.98,128.07 662.51,129.01 665.05,129.51 667.59,130.07 670.12,130.53 672.66,130.92 675.20,131.29 677.74,131.89 680.27,132.56 682.81,133.40 685.35,134.47 687.89,135.61 690.42,136.74 692.96,137.80 695.50,138.80 698.04,139.84 700.57,140.92 703.11,141.84 705.65,143.05 708.19,144.23 710.73,145.53 713.26,146.83 715.80,148.15 718.34,149.54 720.88,150.83 723.41,152.04 725.95,153.29 728.49,154.56 731.02,155.76 733.56,156.99 736.10,158.29 738.64,159.19 741.17,160.02 743.71,160.74 746.25,161.52 748.79,162.25 751.32,163.04 753.86,163.76 756.40,164.55 758.94,165.22 761.48,165.98 764.01,166.67 766.55,166.70 769.09,166.57" fill="none" stroke="#9c27b0" stroke-width="1"/>
<line x1="5" y1="157.5" x2="796" y2="157.5" stroke="#089981" stroke-opacity="0.75" stroke-width="1" stroke-dasharray="1,1.1"/>
<line x1="5.30" y1="99.99" x2="5.30" y2="113.88" stroke="#089981" stroke-width="1"/>
<rect x="4.30" y="101.30" width="2.0" height="11.70" fill="#089981"/>
<line x1="7.84" y1="99.17" x2="7.84" y2="120.00" stroke="#f23645" stroke-width="1"/>
<rect x="6.84" y="101.30" width="2.0" height="13.40" fill="#f23645"/>
<line x1="10.38" y1="112.86" x2="10.38" y2="142.81" stroke="#f23645" stroke-width="1"/>
<rect x="9.38" y="114.70" width="2.0" height="26.70" fill="#f23645"/>
<line x1="12.91" y1="139.00" x2="12.91" y2="182.00" stroke="#f23645" stroke-width="1"/>
<rect x="11.91" y="141.40" width="2.0" height="31.60" fill="#f23645"/>
<line x1="15.45" y1="164.41" x2="15.45" y2="174.58" stroke="#089981" stroke-width="1"/>
<rect x="14.45" y="165.00" width="2.0" height="8.00" fill="#089981"/>
<line x1="17.99" y1="164.33" x2="17.99" y2="166.73" stroke="#f23645" stroke-width="1"/>
<rect x="16.99" y="165.00" width="2.0" height="1.00" fill="#f23645"/>
<line x1="20.53" y1="158.44" x2="20.53" y2="168.57" stroke="#089981" stroke-width="1"/>
<rect x="19.53" y="160.00" width="2.0" height="6.00" fill="#089981"/>
<line x1="23.06" y1="159.19" x2="23.06" y2="170.06" stroke="#f23645" stroke-width="1"/>
<rect x="22.06" y="160.00" width="2.0" height="9.00" fill="#f23645"/>
<line x1="25.60" y1="156.93" x2="25.60" y2="171.87" stroke="#089981" stroke-width="1"/>
<rect x="24.60" y="159.00" width="2.0" height="10.00" fill="#089981"/>
<line x1="28.14" y1="144.06" x2="28.14" y2="160.49" stroke="#089981" stroke-width="1"/>
<rect x="27.14" y="146.00" width="2.0" height="13.00" fill="#089981"/>
<line x1="30.68" y1="139.06" x2="30.68" y2="146.62" stroke="#089981" stroke-width="1"/>
<rect x="29.68" y="142.00" width="2.0" height="4.00" fill="#089981"/>
<line x1="33.21" y1="139.35" x2="33.21" y2="155.22" stroke="#f23645" stroke-width="1"/>
<rect x="32.21" y="142.00" width="2.0" height="12.00" fill="#f23645"/>
<line x1="35.75" y1="142.14" x2="35.75" y2="154.79" stroke="#089981" stroke-width="1"/>
<rect x="34.75" y="143.00" width="2.0" height="11.00" fill="#089981"/>
<line x1="38.29" y1="139.73" x2="38.29" y2="145.54" stroke="#089981" stroke-width="1"/>
<rect x="37.29" y="141.00" width="2.0" height="2.00" fill="#089981"/>
<line x1="40.82" y1="136.05" x2="40.82" y2="142.95" stroke="#089981" stroke-width="1"/>
<rect x="39.82" y="137.00" width="2.0" height="4.00" fill="#089981"/>
<line x1="43.36" y1="134.90" x2="43.36" y2="145.43" stroke="#f23645" stroke-width="1"/>
<rect x="42.36" y="137.00" width="2.0" height="7.00" fill="#f23645"/>
<line x1="45.90" y1="142.13" x2="45.90" y2="153.66" stroke="#f23645" stroke-width="1"/>
<rect x="44.90" y="144.00" width="2.0" height="9.00" fill="#f23645"/>
<line x1="48.44" y1="149.35" x2="48.44" y2="154.01" stroke="#089981" stroke-width="1"/>
<rect x="47.44" y="150.00" width="2.0" height="3.00" fill="#089981"/>
<line x1="50.98" y1="147.80" x2="50.98" y2="153.57" stroke="#f23645" stroke-width="1"/>
<rect x="49.98" y="150.00" width="2.0" height="2.00" fill="#f23645"/>
<line x1="53.51" y1="131.71" x2="53.51" y2="153.96" stroke="#089981" stroke-width="1"/>
<rect x="52.51" y="133.00" width="2.0" height="19.00" fill="#089981"/>
<line x1="56.05" y1="126.37" x2="56.05" y2="134.25" stroke="#089981" stroke-width="1"/>
<rect x="55.05" y="128.00" width="2.0" height="5.00" fill="#089981"/>
<line x1="58.59" y1="125.51" x2="58.59" y2="133.25" stroke="#f23645" stroke-width="1"/>
<rect x="57.59" y="128.00" width="2.0" height="3.00" fill="#f23645"/>
<line x1="61.12" y1="124.89" x2="61.12" y2="132.94" stroke="#089981" stroke-width="1"/>
<rect x="60.12" y="126.00" width="2.0" height="5.00" fill="#089981"/>
<line x1="63.66" y1="123.19" x2="63.66" y2="128.69" stroke="#089981" stroke-width="1"/>
<rect x="62.66" y="125.00" width="2.0" height="1.00" fill="#089981"/>
<line x1="66.20" y1="118.68" x2="66.20" y2="126.22" stroke="#089981" stroke-width="1"/>
<rect x="65.20" y="121.00" width="2.0" height="4.00" fill="#089981"/>
<line x1="68.74" y1="102.05" x2="68.74" y2="121.80" stroke="#089981" stroke-width="1"/>
<rect x="67.74" y="105.00" width="2.0" height="16.00" fill="#089981"/>
<line x1="71.28" y1="52.00" x2="71.28" y2="107.39" stroke="#089981" stroke-width="1"/>
<rect x="70.28" y="60.00" width="2.0" height="45.00" fill="#089981"/>
<line x1="73.81" y1="36.00" x2="73.81" y2="61.72" stroke="#089981" stroke-width="1"/>
<rect x="72.81" y="47.00" width="2.0" height="13.00" fill="#089981"/>
<line x1="76.35" y1="46.40" x2="76.35" y2="51.17" stroke="#f23645" stroke-width="1"/>
<rect x="75.35" y="47.00" width="2.0" height="2.00" fill="#f23645"/>
<line x1="78.89" y1="46.59" x2="78.89" y2="51.93" stroke="#f23645" stroke-width="1"/>
<rect x="77.89" y="49.00" width="2.0" height="1.00" fill="#f23645"/>
<line x1="81.42" y1="47.31" x2="81.42" y2="51.28" stroke="#089981" stroke-width="1"/>
<rect x="80.42" y="50.00" width="2.0" height="1.00" fill="#089981"/>
<line x1="83.96" y1="47.76" x2="83.96" y2="59.99" stroke="#f23645" stroke-width="1"/>
<rect x="82.96" y="50.00" width="2.0" height="8.00" fill="#f23645"/>
<line x1="86.50" y1="48.05" x2="86.50" y2="59.64" stroke="#089981" stroke-width="1"/>
<rect x="85.50" y="50.00" width="2.0" height="8.00" fill="#089981"/>
<line x1="89.04" y1="47.40" x2="89.04" y2="59.86" stroke="#f23645" stroke-width="1"/>
<rect x="88.04" y="50.00" width="2.0" height="7.00" fill="#f23645"/>
<line x1="91.58" y1="55.31" x2="91.58" y2="60.16" stroke="#f23645" stroke-width="1"/>
<rect x="90.58" y="57.00" width="2.0" height="1.00" fill="#f23645"/>
<line x1="94.11" y1="51.35" x2="94.11" y2="60.25" stroke="#089981" stroke-width="1"/>
<rect x="93.11" y="52.00" width="2.0" height="6.00" fill="#089981"/>
<line x1="96.65" y1="49.88" x2="96.65" y2="56.98" stroke="#f23645" stroke-width="1"/>
<rect x="95.65" y="52.00" width="2.0" height="2.00" fill="#f23645"/>
<line x1="99.19" y1="51.45" x2="99.19" y2="57.21" stroke="#f23645" stroke-width="1"/>
<rect x="98.19" y="54.00" width="2.0" height="2.00" fill="#f23645"/>
<line x1="101.72" y1="49.54" x2="101.72" y2="58.17" stroke="#089981" stroke-width="1"/>
<rect x="100.72" y="51.00" width="2.0" height="5.00" fill="#089981"/>
<line x1="104.26" y1="50.44" x2="104.26" y2="55.65" stroke="#f23645" stroke-width="1"/>
<rect x="103.26" y="51.00" width="2.0" height="3.00" fill="#f23645"/>
<line x1="106.80" y1="53.08" x2="106.80" y2="54.79" stroke="#089981" stroke-width="1"/>
<rect x="105.80" y="54.00" width="2.0" height="1.00" fill="#089981"/>
<line x1="109.34" y1="53.35" x2="109.34" y2="57.42" stroke="#f23645" stroke-width="1"/>
<rect x="108.34" y="54.00" width="2.0" height="1.00" fill="#f23645"/>
<line x1="111.88" y1="47.18" x2="111.88" y2="56.12" stroke="#089981" stroke-width="1"/>
<rect x="110.88" y="48.00" width="2.0" height="7.00" fill="#089981"/>
<line x1="114.41" y1="26.00" x2="114.41" y2="50.68" stroke="#089981" stroke-width="1"/>
<rect x="113.41" y="29.00" width="2.0" height="19.00" fill="#089981"/>
<line x1="116.95" y1="28.30" x2="116.95" y2="32.62" stroke="#f23645" stroke-width="1"/>
<rect x="115.95" y="29.00" width="2.0" height="2.00" fill="#f23645"/>
<line x1="119.49" y1="29.13" x2="119.49" y2="37.71" stroke="#f23645" stroke-width="1"/>
<rect x="118.49" y="31.00" width="2.0" height="4.00" fill="#f23645"/>
<line x1="122.03" y1="8.00" x2="122.03" y2="37.66" stroke="#089981" stroke-width="1"/>
<rect x="121.03" y="15.00" width="2.0" height="20.00" fill="#089981"/>
<line x1="124.56" y1="13.80" x2="124.56" y2="36.54" stroke="#f23645" stroke-width="1"/>
<rect x="123.56" y="15.00" width="2.0" height="20.00" fill="#f23645"/>
<line x1="127.10" y1="31.60" x2="127.10" y2="37.71" stroke="#089981" stroke-width="1"/>
<rect x="126.10" y="33.00" width="2.0" height="2.00" fill="#089981"/>
<line x1="129.64" y1="22.11" x2="129.64" y2="33.88" stroke="#089981" stroke-width="1"/>
<rect x="128.64" y="25.00" width="2.0" height="8.00" fill="#089981"/>
<line x1="132.18" y1="21.06" x2="132.18" y2="26.08" stroke="#089981" stroke-width="1"/>
<rect x="131.18" y="22.00" width="2.0" height="3.00" fill="#089981"/>
<line x1="134.71" y1="20.92" x2="134.71" y2="31.71" stroke="#f23645" stroke-width="1"/>
<rect x="133.71" y="22.00" width="2.0" height="8.00" fill="#f23645"/>
<line x1="137.25" y1="28.03" x2="137.25" y2="32.16" stroke="#f23645" stroke-width="1"/>
<rect x="136.25" y="30.00" width="2.0" height="1.00" fill="#f23645"/>
<line x1="139.79" y1="24.99" x2="139.79" y2="32.55" stroke="#089981" stroke-width="1"/>
<rect x="138.79" y="25.50" width="2.0" height="5.50" fill="#089981"/>
<line x1="142.33" y1="20.58" x2="142.33" y2="27.42" stroke="#089981" stroke-width="1"/>
<rect x="141.33" y="22.00" width="2.0" height="3.50" fill="#089981"/>
<line x1="144.86" y1="19.12" x2="144.86" y2="28.23" stroke="#f23645" stroke-width="1"/>
<rect x="143.86" y="22.00" width="2.0" height="4.00" fill="#f23645"/>
<line x1="147.40" y1="16.00" x2="147.40" y2="28.04" stroke="#089981" stroke-width="1"/>
<rect x="146.40" y="26.00" width="2.0" height="1.00" fill="#089981"/>
<line x1="149.94" y1="18.31" x2="149.94" y2="26.63" stroke="#089981" stroke-width="1"/>
<rect x="148.94" y="20.50" width="2.0" height="5.50" fill="#089981"/>
<line x1="152.48" y1="17.75" x2="152.48" y2="28.45" stroke="#f23645" stroke-width="1"/>
<rect x="151.48" y="20.50" width="2.0" height="5.50" fill="#f23645"/>
<line x1="155.01" y1="23.31" x2="155.01" y2="32.99" stroke="#f23645" stroke-width="1"/>
<rect x="154.01" y="26.00" width="2.0" height="4.50" fill="#f23645"/>
<line x1="157.55" y1="25.00" x2="157.55" y2="48.50" stroke="#f23645" stroke-width="1"/>
<rect x="156.55" y="30.50" width="2.0" height="16.50" fill="#f23645"/>
<line x1="160.09" y1="46.24" x2="160.09" y2="58.00" stroke="#f23645" stroke-width="1"/>
<rect x="159.09" y="47.00" width="2.0" height="1.00" fill="#f23645"/>
<line x1="162.63" y1="47.34" x2="162.63" y2="67.00" stroke="#089981" stroke-width="1"/>
<rect x="161.63" y="48.00" width="2.0" height="1.00" fill="#089981"/>
<line x1="165.16" y1="31.98" x2="165.16" y2="48.91" stroke="#089981" stroke-width="1"/>
<rect x="164.16" y="33.00" width="2.0" height="15.00" fill="#089981"/>
<line x1="167.70" y1="17.00" x2="167.70" y2="33.63" stroke="#089981" stroke-width="1"/>
<rect x="166.70" y="24.00" width="2.0" height="9.00" fill="#089981"/>
<line x1="170.24" y1="23.50" x2="170.24" y2="26.38" stroke="#f23645" stroke-width="1"/>
<rect x="169.24" y="24.00" width="2.0" height="1.50" fill="#f23645"/>
<line x1="172.78" y1="12.00" x2="172.78" y2="26.91" stroke="#089981" stroke-width="1"/>
<rect x="171.78" y="22.00" width="2.0" height="3.50" fill="#089981"/>
<line x1="175.31" y1="21.44" x2="175.31" y2="42.69" stroke="#f23645" stroke-width="1"/>
<rect x="174.31" y="22.00" width="2.0" height="18.00" fill="#f23645"/>
<line x1="177.85" y1="37.96" x2="177.85" y2="41.87" stroke="#f23645" stroke-width="1"/>
<rect x="176.85" y="40.00" width="2.0" height="1.00" fill="#f23645"/>
<line x1="180.39" y1="39.87" x2="180.39" y2="47.37" stroke="#f23645" stroke-width="1"/>
<rect x="179.39" y="41.00" width="2.0" height="5.00" fill="#f23645"/>
<line x1="182.93" y1="44.19" x2="182.93" y2="46.81" stroke="#089981" stroke-width="1"/>
<rect x="181.93" y="45.60" width="2.0" height="1.00" fill="#089981"/>
<line x1="185.46" y1="42.98" x2="185.46" y2="90.98" stroke="#f23645" stroke-width="1"/>
<rect x="184.46" y="45.60" width="2.0" height="42.40" fill="#f23645"/>
<line x1="188.00" y1="74.00" x2="188.00" y2="102.00" stroke="#f23645" stroke-width="1"/>
<rect x="187.00" y="88.00" width="2.0" height="8.00" fill="#f23645"/>
<line x1="190.54" y1="88.29" x2="190.54" y2="96.76" stroke="#089981" stroke-width="1"/>
<rect x="189.54" y="89.00" width="2.0" height="7.00" fill="#089981"/>
<line x1="193.08" y1="84.64" x2="193.08" y2="90.16" stroke="#089981" stroke-width="1"/>
<rect x="192.08" y="86.00" width="2.0" height="3.00" fill="#089981"/>
<line x1="195.61" y1="83.43" x2="195.61" y2="93.50" stroke="#f23645" stroke-width="1"/>
<rect x="194.61" y="86.00" width="2.0" height="6.60" fill="#f23645"/>
<line x1="198.15" y1="88.00" x2="198.15" y2="124.88" stroke="#f23645" stroke-width="1"/>
<rect x="197.15" y="92.60" width="2.0" height="29.40" fill="#f23645"/>
<line x1="200.69" y1="120.18" x2="200.69" y2="133.00" stroke="#f23645" stroke-width="1"/>
<rect x="199.69" y="122.00" width="2.0" height="5.00" fill="#f23645"/>
<line x1="203.23" y1="125.14" x2="203.23" y2="157.00" stroke="#f23645" stroke-width="1"/>
<rect x="202.23" y="127.00" width="2.0" height="19.00" fill="#f23645"/>
<line x1="205.76" y1="137.18" x2="205.76" y2="148.95" stroke="#089981" stroke-width="1"/>
<rect x="204.76" y="139.00" width="2.0" height="7.00" fill="#089981"/>
<line x1="208.30" y1="129.94" x2="208.30" y2="141.24" stroke="#089981" stroke-width="1"/>
<rect x="207.30" y="132.60" width="2.0" height="6.40" fill="#089981"/>
<line x1="210.84" y1="120.55" x2="210.84" y2="134.02" stroke="#089981" stroke-width="1"/>
<rect x="209.84" y="121.70" width="2.0" height="10.90" fill="#089981"/>
<line x1="213.38" y1="120.78" x2="213.38" y2="143.50" stroke="#f23645" stroke-width="1"/>
<rect x="212.38" y="121.70" width="2.0" height="5.00" fill="#f23645"/>
<line x1="215.91" y1="113.17" x2="215.91" y2="129.15" stroke="#089981" stroke-width="1"/>
<rect x="214.91" y="115.00" width="2.0" height="11.70" fill="#089981"/>
<line x1="218.45" y1="113.68" x2="218.45" y2="129.06" stroke="#f23645" stroke-width="1"/>
<rect x="217.45" y="115.00" width="2.0" height="13.00" fill="#f23645"/>
<line x1="220.99" y1="125.47" x2="220.99" y2="135.56" stroke="#f23645" stroke-width="1"/>
<rect x="219.99" y="128.00" width="2.0" height="4.60" fill="#f23645"/>
<line x1="223.53" y1="128.37" x2="223.53" y2="135.12" stroke="#089981" stroke-width="1"/>
<rect x="222.53" y="131.00" width="2.0" height="1.60" fill="#089981"/>
<line x1="226.06" y1="117.45" x2="226.06" y2="133.35" stroke="#089981" stroke-width="1"/>
<rect x="225.06" y="120.00" width="2.0" height="11.00" fill="#089981"/>
<line x1="228.60" y1="118.93" x2="228.60" y2="134.39" stroke="#f23645" stroke-width="1"/>
<rect x="227.60" y="120.00" width="2.0" height="12.60" fill="#f23645"/>
<line x1="231.14" y1="123.61" x2="231.14" y2="133.17" stroke="#089981" stroke-width="1"/>
<rect x="230.14" y="125.00" width="2.0" height="7.60" fill="#089981"/>
<line x1="233.68" y1="116.13" x2="233.68" y2="126.20" stroke="#089981" stroke-width="1"/>
<rect x="232.68" y="116.70" width="2.0" height="8.30" fill="#089981"/>
<line x1="236.21" y1="112.85" x2="236.21" y2="118.93" stroke="#089981" stroke-width="1"/>
<rect x="235.21" y="114.00" width="2.0" height="2.70" fill="#089981"/>
<line x1="238.75" y1="104.61" x2="238.75" y2="115.62" stroke="#089981" stroke-width="1"/>
<rect x="237.75" y="107.50" width="2.0" height="6.50" fill="#089981"/>
<line x1="241.29" y1="104.66" x2="241.29" y2="118.97" stroke="#f23645" stroke-width="1"/>
<rect x="240.29" y="107.50" width="2.0" height="8.50" fill="#f23645"/>
<line x1="243.83" y1="113.11" x2="243.83" y2="132.60" stroke="#f23645" stroke-width="1"/>
<rect x="242.83" y="116.00" width="2.0" height="1.60" fill="#f23645"/>
<line x1="246.36" y1="93.95" x2="246.36" y2="118.67" stroke="#089981" stroke-width="1"/>
<rect x="245.36" y="95.00" width="2.0" height="22.60" fill="#089981"/>
<line x1="248.90" y1="88.00" x2="248.90" y2="126.01" stroke="#f23645" stroke-width="1"/>
<rect x="247.90" y="95.00" width="2.0" height="30.00" fill="#f23645"/>
<line x1="251.44" y1="117.94" x2="251.44" y2="127.75" stroke="#089981" stroke-width="1"/>
<rect x="250.44" y="120.00" width="2.0" height="5.00" fill="#089981"/>
<line x1="253.98" y1="117.40" x2="253.98" y2="149.00" stroke="#f23645" stroke-width="1"/>
<rect x="252.98" y="120.00" width="2.0" height="4.00" fill="#f23645"/>
<line x1="256.51" y1="111.27" x2="256.51" y2="126.50" stroke="#089981" stroke-width="1"/>
<rect x="255.51" y="113.40" width="2.0" height="10.60" fill="#089981"/>
<line x1="259.05" y1="112.69" x2="259.05" y2="117.15" stroke="#f23645" stroke-width="1"/>
<rect x="258.05" y="113.40" width="2.0" height="1.60" fill="#f23645"/>
<line x1="261.59" y1="112.23" x2="261.59" y2="126.46" stroke="#f23645" stroke-width="1"/>
<rect x="260.59" y="115.00" width="2.0" height="9.00" fill="#f23645"/>
<line x1="264.12" y1="112.62" x2="264.12" y2="125.70" stroke="#089981" stroke-width="1"/>
<rect x="263.12" y="115.00" width="2.0" height="9.00" fill="#089981"/>
<line x1="266.66" y1="101.65" x2="266.66" y2="117.47" stroke="#089981" stroke-width="1"/>
<rect x="265.66" y="102.60" width="2.0" height="12.40" fill="#089981"/>
<line x1="269.20" y1="93.67" x2="269.20" y2="105.10" stroke="#089981" stroke-width="1"/>
<rect x="268.20" y="95.00" width="2.0" height="7.60" fill="#089981"/>
<line x1="271.74" y1="92.07" x2="271.74" y2="106.49" stroke="#f23645" stroke-width="1"/>
<rect x="270.74" y="95.00" width="2.0" height="10.00" fill="#f23645"/>
<line x1="274.28" y1="97.50" x2="274.28" y2="107.87" stroke="#089981" stroke-width="1"/>
<rect x="273.28" y="99.00" width="2.0" height="6.00" fill="#089981"/>
<line x1="276.81" y1="90.29" x2="276.81" y2="99.93" stroke="#089981" stroke-width="1"/>
<rect x="275.81" y="92.60" width="2.0" height="6.40" fill="#089981"/>
<line x1="279.35" y1="91.78" x2="279.35" y2="104.28" stroke="#f23645" stroke-width="1"/>
<rect x="278.35" y="92.60" width="2.0" height="10.80" fill="#f23645"/>
<line x1="281.89" y1="93.24" x2="281.89" y2="105.92" stroke="#089981" stroke-width="1"/>
<rect x="280.89" y="96.00" width="2.0" height="7.40" fill="#089981"/>
<line x1="284.43" y1="95.13" x2="284.43" y2="110.97" stroke="#f23645" stroke-width="1"/>
<rect x="283.43" y="96.00" width="2.0" height="12.40" fill="#f23645"/>
<line x1="286.96" y1="105.45" x2="286.96" y2="112.14" stroke="#f23645" stroke-width="1"/>
<rect x="285.96" y="108.40" width="2.0" height="1.60" fill="#f23645"/>
<line x1="289.50" y1="108.62" x2="289.50" y2="119.47" stroke="#f23645" stroke-width="1"/>
<rect x="288.50" y="110.00" width="2.0" height="7.60" fill="#f23645"/>
<line x1="292.04" y1="108.17" x2="292.04" y2="118.14" stroke="#089981" stroke-width="1"/>
<rect x="291.04" y="109.00" width="2.0" height="8.60" fill="#089981"/>
<line x1="294.58" y1="105.47" x2="294.58" y2="111.12" stroke="#089981" stroke-width="1"/>
<rect x="293.58" y="108.40" width="2.0" height="1.00" fill="#089981"/>
<line x1="297.11" y1="106.58" x2="297.11" y2="119.63" stroke="#f23645" stroke-width="1"/>
<rect x="296.11" y="108.40" width="2.0" height="8.40" fill="#f23645"/>
<line x1="299.65" y1="115.22" x2="299.65" y2="124.48" stroke="#f23645" stroke-width="1"/>
<rect x="298.65" y="116.80" width="2.0" height="5.00" fill="#f23645"/>
<line x1="302.19" y1="119.23" x2="302.19" y2="127.03" stroke="#f23645" stroke-width="1"/>
<rect x="301.19" y="121.80" width="2.0" height="4.20" fill="#f23645"/>
<line x1="304.73" y1="122.27" x2="304.73" y2="127.23" stroke="#089981" stroke-width="1"/>
<rect x="303.73" y="123.40" width="2.0" height="2.60" fill="#089981"/>
<line x1="307.26" y1="118.90" x2="307.26" y2="125.37" stroke="#089981" stroke-width="1"/>
<rect x="306.26" y="120.00" width="2.0" height="3.40" fill="#089981"/>
<line x1="309.80" y1="98.00" x2="309.80" y2="121.55" stroke="#089981" stroke-width="1"/>
<rect x="308.80" y="106.00" width="2.0" height="14.00" fill="#089981"/>
<line x1="312.34" y1="96.00" x2="312.34" y2="146.00" stroke="#f23645" stroke-width="1"/>
<rect x="311.34" y="106.00" width="2.0" height="35.00" fill="#f23645"/>
<line x1="314.88" y1="122.02" x2="314.88" y2="147.00" stroke="#089981" stroke-width="1"/>
<rect x="313.88" y="123.40" width="2.0" height="17.60" fill="#089981"/>
<line x1="317.41" y1="89.00" x2="317.41" y2="126.16" stroke="#089981" stroke-width="1"/>
<rect x="316.41" y="114.40" width="2.0" height="9.00" fill="#089981"/>
<line x1="319.95" y1="112.85" x2="319.95" y2="135.00" stroke="#f23645" stroke-width="1"/>
<rect x="318.95" y="114.40" width="2.0" height="11.60" fill="#f23645"/>
<line x1="322.49" y1="91.00" x2="322.49" y2="127.83" stroke="#089981" stroke-width="1"/>
<rect x="321.49" y="98.20" width="2.0" height="27.80" fill="#089981"/>
<line x1="325.03" y1="84.00" x2="325.03" y2="102.55" stroke="#f23645" stroke-width="1"/>
<rect x="324.03" y="98.20" width="2.0" height="3.80" fill="#f23645"/>
<line x1="327.56" y1="100.40" x2="327.56" y2="104.36" stroke="#f23645" stroke-width="1"/>
<rect x="326.56" y="102.00" width="2.0" height="1.40" fill="#f23645"/>
<line x1="330.10" y1="95.49" x2="330.10" y2="105.90" stroke="#089981" stroke-width="1"/>
<rect x="329.10" y="96.00" width="2.0" height="7.40" fill="#089981"/>
<line x1="332.64" y1="95.07" x2="332.64" y2="105.08" stroke="#f23645" stroke-width="1"/>
<rect x="331.64" y="96.00" width="2.0" height="7.40" fill="#f23645"/>
<line x1="335.18" y1="101.09" x2="335.18" y2="105.29" stroke="#089981" stroke-width="1"/>
<rect x="334.18" y="103.40" width="2.0" height="1.00" fill="#089981"/>
<line x1="337.71" y1="102.09" x2="337.71" y2="114.40" stroke="#f23645" stroke-width="1"/>
<rect x="336.71" y="103.40" width="2.0" height="9.20" fill="#f23645"/>
<line x1="340.25" y1="110.71" x2="340.25" y2="124.00" stroke="#f23645" stroke-width="1"/>
<rect x="339.25" y="112.60" width="2.0" height="4.10" fill="#f23645"/>
<line x1="342.79" y1="103.43" x2="342.79" y2="118.60" stroke="#089981" stroke-width="1"/>
<rect x="341.79" y="104.20" width="2.0" height="12.50" fill="#089981"/>
<line x1="345.33" y1="98.88" x2="345.33" y2="105.39" stroke="#089981" stroke-width="1"/>
<rect x="344.33" y="100.00" width="2.0" height="4.20" fill="#089981"/>
<line x1="347.86" y1="93.57" x2="347.86" y2="101.77" stroke="#089981" stroke-width="1"/>
<rect x="346.86" y="96.00" width="2.0" height="4.00" fill="#089981"/>
<line x1="350.40" y1="94.10" x2="350.40" y2="103.40" stroke="#f23645" stroke-width="1"/>
<rect x="349.40" y="96.00" width="2.0" height="5.00" fill="#f23645"/>
<line x1="352.94" y1="92.22" x2="352.94" y2="102.61" stroke="#089981" stroke-width="1"/>
<rect x="351.94" y="95.00" width="2.0" height="6.00" fill="#089981"/>
<line x1="355.48" y1="80.57" x2="355.48" y2="96.76" stroke="#089981" stroke-width="1"/>
<rect x="354.48" y="82.60" width="2.0" height="12.40" fill="#089981"/>
<line x1="358.01" y1="65.00" x2="358.01" y2="84.83" stroke="#089981" stroke-width="1"/>
<rect x="357.01" y="78.00" width="2.0" height="4.60" fill="#089981"/>
<line x1="360.55" y1="76.37" x2="360.55" y2="84.83" stroke="#f23645" stroke-width="1"/>
<rect x="359.55" y="78.00" width="2.0" height="5.00" fill="#f23645"/>
<line x1="363.09" y1="81.30" x2="363.09" y2="102.85" stroke="#f23645" stroke-width="1"/>
<rect x="362.09" y="83.00" width="2.0" height="17.00" fill="#f23645"/>
<line x1="365.62" y1="97.75" x2="365.62" y2="119.39" stroke="#f23645" stroke-width="1"/>
<rect x="364.62" y="100.00" width="2.0" height="16.70" fill="#f23645"/>
<line x1="368.16" y1="107.14" x2="368.16" y2="117.85" stroke="#089981" stroke-width="1"/>
<rect x="367.16" y="110.00" width="2.0" height="6.70" fill="#089981"/>
<line x1="370.70" y1="108.10" x2="370.70" y2="129.00" stroke="#f23645" stroke-width="1"/>
<rect x="369.70" y="110.00" width="2.0" height="11.80" fill="#f23645"/>
<line x1="373.24" y1="116.40" x2="373.24" y2="136.00" stroke="#089981" stroke-width="1"/>
<rect x="372.24" y="119.00" width="2.0" height="2.80" fill="#089981"/>
<line x1="375.78" y1="88.30" x2="375.78" y2="120.61" stroke="#089981" stroke-width="1"/>
<rect x="374.78" y="108.40" width="2.0" height="10.60" fill="#089981"/>
<line x1="378.31" y1="107.72" x2="378.31" y2="122.10" stroke="#f23645" stroke-width="1"/>
<rect x="377.31" y="108.40" width="2.0" height="12.60" fill="#f23645"/>
<line x1="380.85" y1="107.72" x2="380.85" y2="123.17" stroke="#089981" stroke-width="1"/>
<rect x="379.85" y="108.40" width="2.0" height="12.60" fill="#089981"/>
<line x1="383.39" y1="105.94" x2="383.39" y2="140.34" stroke="#f23645" stroke-width="1"/>
<rect x="382.39" y="108.40" width="2.0" height="29.20" fill="#f23645"/>
<line x1="385.93" y1="136.71" x2="385.93" y2="161.00" stroke="#f23645" stroke-width="1"/>
<rect x="384.93" y="137.60" width="2.0" height="10.00" fill="#f23645"/>
<line x1="388.46" y1="144.65" x2="388.46" y2="148.46" stroke="#089981" stroke-width="1"/>
<rect x="387.46" y="146.80" width="2.0" height="1.00" fill="#089981"/>
<line x1="391.00" y1="138.29" x2="391.00" y2="149.72" stroke="#089981" stroke-width="1"/>
<rect x="390.00" y="141.00" width="2.0" height="5.80" fill="#089981"/>
<line x1="393.54" y1="133.95" x2="393.54" y2="143.88" stroke="#089981" stroke-width="1"/>
<rect x="392.54" y="135.00" width="2.0" height="6.00" fill="#089981"/>
<line x1="396.08" y1="131.90" x2="396.08" y2="136.72" stroke="#089981" stroke-width="1"/>
<rect x="395.08" y="133.40" width="2.0" height="1.60" fill="#089981"/>
<line x1="398.61" y1="125.43" x2="398.61" y2="135.98" stroke="#089981" stroke-width="1"/>
<rect x="397.61" y="128.40" width="2.0" height="5.00" fill="#089981"/>
<line x1="401.15" y1="119.10" x2="401.15" y2="129.98" stroke="#089981" stroke-width="1"/>
<rect x="400.15" y="120.00" width="2.0" height="8.40" fill="#089981"/>
<line x1="403.69" y1="118.21" x2="403.69" y2="121.35" stroke="#089981" stroke-width="1"/>
<rect x="402.69" y="120.00" width="2.0" height="1.00" fill="#089981"/>
<line x1="406.23" y1="119.01" x2="406.23" y2="122.30" stroke="#f23645" stroke-width="1"/>
<rect x="405.23" y="120.00" width="2.0" height="1.00" fill="#f23645"/>
<line x1="408.76" y1="118.69" x2="408.76" y2="123.15" stroke="#f23645" stroke-width="1"/>
<rect x="407.76" y="121.00" width="2.0" height="1.60" fill="#f23645"/>
<line x1="411.30" y1="116.51" x2="411.30" y2="124.20" stroke="#089981" stroke-width="1"/>
<rect x="410.30" y="118.40" width="2.0" height="4.20" fill="#089981"/>
<line x1="413.84" y1="109.45" x2="413.84" y2="119.73" stroke="#089981" stroke-width="1"/>
<rect x="412.84" y="110.00" width="2.0" height="8.40" fill="#089981"/>
<line x1="416.38" y1="107.94" x2="416.38" y2="115.18" stroke="#f23645" stroke-width="1"/>
<rect x="415.38" y="110.00" width="2.0" height="3.40" fill="#f23645"/>
<line x1="418.91" y1="112.74" x2="418.91" y2="128.00" stroke="#f23645" stroke-width="1"/>
<rect x="417.91" y="113.40" width="2.0" height="10.00" fill="#f23645"/>
<line x1="421.45" y1="120.93" x2="421.45" y2="127.93" stroke="#f23645" stroke-width="1"/>
<rect x="420.45" y="123.40" width="2.0" height="1.60" fill="#f23645"/>
<line x1="423.99" y1="124.24" x2="423.99" y2="132.16" stroke="#f23645" stroke-width="1"/>
<rect x="422.99" y="125.00" width="2.0" height="6.00" fill="#f23645"/>
<line x1="426.53" y1="130.40" x2="426.53" y2="142.45" stroke="#f23645" stroke-width="1"/>
<rect x="425.53" y="131.00" width="2.0" height="9.00" fill="#f23645"/>
<line x1="429.06" y1="138.82" x2="429.06" y2="142.62" stroke="#f23645" stroke-width="1"/>
<rect x="428.06" y="140.00" width="2.0" height="1.80" fill="#f23645"/>
<line x1="431.60" y1="140.24" x2="431.60" y2="165.00" stroke="#f23645" stroke-width="1"/>
<rect x="430.60" y="141.80" width="2.0" height="19.20" fill="#f23645"/>
<line x1="434.14" y1="147.45" x2="434.14" y2="162.15" stroke="#089981" stroke-width="1"/>
<rect x="433.14" y="150.00" width="2.0" height="11.00" fill="#089981"/>
<line x1="436.68" y1="149.13" x2="436.68" y2="161.30" stroke="#f23645" stroke-width="1"/>
<rect x="435.68" y="150.00" width="2.0" height="8.50" fill="#f23645"/>
<line x1="439.21" y1="156.57" x2="439.21" y2="163.25" stroke="#f23645" stroke-width="1"/>
<rect x="438.21" y="158.50" width="2.0" height="2.50" fill="#f23645"/>
<line x1="441.75" y1="151.08" x2="441.75" y2="161.64" stroke="#089981" stroke-width="1"/>
<rect x="440.75" y="151.80" width="2.0" height="9.20" fill="#089981"/>
<line x1="444.29" y1="142.78" x2="444.29" y2="153.36" stroke="#089981" stroke-width="1"/>
<rect x="443.29" y="145.00" width="2.0" height="6.80" fill="#089981"/>
<line x1="446.83" y1="141.12" x2="446.83" y2="147.85" stroke="#089981" stroke-width="1"/>
<rect x="445.83" y="141.80" width="2.0" height="3.20" fill="#089981"/>
<line x1="449.36" y1="135.51" x2="449.36" y2="144.30" stroke="#089981" stroke-width="1"/>
<rect x="448.36" y="137.60" width="2.0" height="4.20" fill="#089981"/>
<line x1="451.90" y1="136.89" x2="451.90" y2="146.14" stroke="#f23645" stroke-width="1"/>
<rect x="450.90" y="137.60" width="2.0" height="5.90" fill="#f23645"/>
<line x1="454.44" y1="142.83" x2="454.44" y2="147.66" stroke="#f23645" stroke-width="1"/>
<rect x="453.44" y="143.50" width="2.0" height="1.50" fill="#f23645"/>
<line x1="456.98" y1="137.67" x2="456.98" y2="146.35" stroke="#089981" stroke-width="1"/>
<rect x="455.98" y="139.30" width="2.0" height="5.70" fill="#089981"/>
<line x1="459.51" y1="131.62" x2="459.51" y2="142.12" stroke="#089981" stroke-width="1"/>
<rect x="458.51" y="133.50" width="2.0" height="5.80" fill="#089981"/>
<line x1="462.05" y1="132.33" x2="462.05" y2="138.42" stroke="#f23645" stroke-width="1"/>
<rect x="461.05" y="133.50" width="2.0" height="4.10" fill="#f23645"/>
<line x1="464.59" y1="135.78" x2="464.59" y2="141.10" stroke="#f23645" stroke-width="1"/>
<rect x="463.59" y="137.60" width="2.0" height="2.40" fill="#f23645"/>
<line x1="467.12" y1="129.23" x2="467.12" y2="140.90" stroke="#089981" stroke-width="1"/>
<rect x="466.12" y="130.00" width="2.0" height="10.00" fill="#089981"/>
<line x1="469.66" y1="129.37" x2="469.66" y2="151.00" stroke="#f23645" stroke-width="1"/>
<rect x="468.66" y="130.00" width="2.0" height="18.50" fill="#f23645"/>
<line x1="472.20" y1="125.52" x2="472.20" y2="149.76" stroke="#089981" stroke-width="1"/>
<rect x="471.20" y="126.80" width="2.0" height="21.70" fill="#089981"/>
<line x1="474.74" y1="124.40" x2="474.74" y2="132.22" stroke="#f23645" stroke-width="1"/>
<rect x="473.74" y="126.80" width="2.0" height="4.20" fill="#f23645"/>
<line x1="477.28" y1="127.55" x2="477.28" y2="131.94" stroke="#089981" stroke-width="1"/>
<rect x="476.28" y="129.30" width="2.0" height="1.70" fill="#089981"/>
<line x1="479.81" y1="127.93" x2="479.81" y2="133.15" stroke="#f23645" stroke-width="1"/>
<rect x="478.81" y="129.30" width="2.0" height="3.30" fill="#f23645"/>
<line x1="482.35" y1="122.27" x2="482.35" y2="133.14" stroke="#089981" stroke-width="1"/>
<rect x="481.35" y="123.40" width="2.0" height="9.20" fill="#089981"/>
<line x1="484.89" y1="121.07" x2="484.89" y2="132.88" stroke="#f23645" stroke-width="1"/>
<rect x="483.89" y="123.40" width="2.0" height="7.60" fill="#f23645"/>
<line x1="487.43" y1="130.03" x2="487.43" y2="145.99" stroke="#f23645" stroke-width="1"/>
<rect x="486.43" y="131.00" width="2.0" height="13.30" fill="#f23645"/>
<line x1="489.96" y1="135.66" x2="489.96" y2="145.07" stroke="#089981" stroke-width="1"/>
<rect x="488.96" y="138.50" width="2.0" height="5.80" fill="#089981"/>
<line x1="492.50" y1="135.95" x2="492.50" y2="154.00" stroke="#f23645" stroke-width="1"/>
<rect x="491.50" y="138.50" width="2.0" height="13.30" fill="#f23645"/>
<line x1="495.04" y1="141.76" x2="495.04" y2="154.39" stroke="#089981" stroke-width="1"/>
<rect x="494.04" y="143.50" width="2.0" height="8.30" fill="#089981"/>
<line x1="497.58" y1="113.40" x2="497.58" y2="145.27" stroke="#089981" stroke-width="1"/>
<rect x="496.58" y="126.80" width="2.0" height="16.70" fill="#089981"/>
<line x1="500.11" y1="120.38" x2="500.11" y2="129.76" stroke="#089981" stroke-width="1"/>
<rect x="499.11" y="122.60" width="2.0" height="4.20" fill="#089981"/>
<line x1="502.65" y1="121.24" x2="502.65" y2="148.50" stroke="#089981" stroke-width="1"/>
<rect x="501.65" y="122.60" width="2.0" height="1.00" fill="#089981"/>
<line x1="505.19" y1="112.73" x2="505.19" y2="124.69" stroke="#089981" stroke-width="1"/>
<rect x="504.19" y="115.00" width="2.0" height="7.60" fill="#089981"/>
<line x1="507.73" y1="113.49" x2="507.73" y2="129.77" stroke="#f23645" stroke-width="1"/>
<rect x="506.73" y="115.00" width="2.0" height="13.40" fill="#f23645"/>
<line x1="510.26" y1="121.16" x2="510.26" y2="129.22" stroke="#089981" stroke-width="1"/>
<rect x="509.26" y="121.80" width="2.0" height="6.60" fill="#089981"/>
<line x1="512.80" y1="117.72" x2="512.80" y2="124.15" stroke="#089981" stroke-width="1"/>
<rect x="511.80" y="118.40" width="2.0" height="3.40" fill="#089981"/>
<line x1="515.34" y1="117.26" x2="515.34" y2="123.51" stroke="#f23645" stroke-width="1"/>
<rect x="514.34" y="118.40" width="2.0" height="4.20" fill="#f23645"/>
<line x1="517.88" y1="121.89" x2="517.88" y2="128.60" stroke="#f23645" stroke-width="1"/>
<rect x="516.88" y="122.60" width="2.0" height="3.40" fill="#f23645"/>
<line x1="520.41" y1="123.32" x2="520.41" y2="130.58" stroke="#f23645" stroke-width="1"/>
<rect x="519.41" y="126.00" width="2.0" height="2.40" fill="#f23645"/>
<line x1="522.95" y1="123.10" x2="522.95" y2="129.51" stroke="#089981" stroke-width="1"/>
<rect x="521.95" y="124.30" width="2.0" height="4.10" fill="#089981"/>
<line x1="525.49" y1="123.07" x2="525.49" y2="128.45" stroke="#f23645" stroke-width="1"/>
<rect x="524.49" y="124.30" width="2.0" height="2.50" fill="#f23645"/>
<line x1="528.02" y1="125.91" x2="528.02" y2="133.41" stroke="#f23645" stroke-width="1"/>
<rect x="527.02" y="126.80" width="2.0" height="5.00" fill="#f23645"/>
<line x1="530.56" y1="126.44" x2="530.56" y2="134.70" stroke="#089981" stroke-width="1"/>
<rect x="529.56" y="127.60" width="2.0" height="4.20" fill="#089981"/>
<line x1="533.10" y1="123.87" x2="533.10" y2="129.47" stroke="#089981" stroke-width="1"/>
<rect x="532.10" y="126.80" width="2.0" height="1.00" fill="#089981"/>
<line x1="535.64" y1="125.69" x2="535.64" y2="132.91" stroke="#f23645" stroke-width="1"/>
<rect x="534.64" y="126.80" width="2.0" height="3.20" fill="#f23645"/>
<line x1="538.17" y1="125.53" x2="538.17" y2="131.39" stroke="#089981" stroke-width="1"/>
<rect x="537.17" y="126.80" width="2.0" height="3.20" fill="#089981"/>
<line x1="540.71" y1="122.10" x2="540.71" y2="128.25" stroke="#089981" stroke-width="1"/>
<rect x="539.71" y="122.60" width="2.0" height="4.20" fill="#089981"/>
<line x1="543.25" y1="116.71" x2="543.25" y2="124.36" stroke="#089981" stroke-width="1"/>
<rect x="542.25" y="118.40" width="2.0" height="4.20" fill="#089981"/>
<line x1="545.79" y1="117.40" x2="545.79" y2="120.16" stroke="#089981" stroke-width="1"/>
<rect x="544.79" y="118.40" width="2.0" height="1.00" fill="#089981"/>
<line x1="548.32" y1="106.70" x2="548.32" y2="119.56" stroke="#089981" stroke-width="1"/>
<rect x="547.32" y="116.00" width="2.0" height="2.40" fill="#089981"/>
<line x1="550.86" y1="115.28" x2="550.86" y2="122.50" stroke="#f23645" stroke-width="1"/>
<rect x="549.86" y="116.00" width="2.0" height="5.00" fill="#f23645"/>
<line x1="553.40" y1="112.80" x2="553.40" y2="121.56" stroke="#089981" stroke-width="1"/>
<rect x="552.40" y="113.40" width="2.0" height="7.60" fill="#089981"/>
<line x1="555.94" y1="101.00" x2="555.94" y2="114.48" stroke="#089981" stroke-width="1"/>
<rect x="554.94" y="107.60" width="2.0" height="5.80" fill="#089981"/>
<line x1="558.48" y1="100.00" x2="558.48" y2="109.42" stroke="#089981" stroke-width="1"/>
<rect x="557.48" y="103.40" width="2.0" height="4.20" fill="#089981"/>
<line x1="561.01" y1="101.02" x2="561.01" y2="111.14" stroke="#f23645" stroke-width="1"/>
<rect x="560.01" y="103.40" width="2.0" height="5.60" fill="#f23645"/>
<line x1="563.55" y1="100.00" x2="563.55" y2="111.70" stroke="#089981" stroke-width="1"/>
<rect x="562.55" y="103.40" width="2.0" height="5.60" fill="#089981"/>
<line x1="566.09" y1="101.13" x2="566.09" y2="104.72" stroke="#089981" stroke-width="1"/>
<rect x="565.09" y="102.60" width="2.0" height="1.00" fill="#089981"/>
<line x1="568.62" y1="99.64" x2="568.62" y2="106.87" stroke="#f23645" stroke-width="1"/>
<rect x="567.62" y="102.60" width="2.0" height="3.40" fill="#f23645"/>
<line x1="571.16" y1="103.69" x2="571.16" y2="120.51" stroke="#f23645" stroke-width="1"/>
<rect x="570.16" y="106.00" width="2.0" height="12.40" fill="#f23645"/>
<line x1="573.70" y1="110.39" x2="573.70" y2="120.99" stroke="#089981" stroke-width="1"/>
<rect x="572.70" y="111.00" width="2.0" height="7.40" fill="#089981"/>
<line x1="576.24" y1="108.27" x2="576.24" y2="121.37" stroke="#f23645" stroke-width="1"/>
<rect x="575.24" y="111.00" width="2.0" height="8.30" fill="#f23645"/>
<line x1="578.77" y1="116.97" x2="578.77" y2="122.53" stroke="#f23645" stroke-width="1"/>
<rect x="577.77" y="119.30" width="2.0" height="1.00" fill="#f23645"/>
<line x1="581.31" y1="119.15" x2="581.31" y2="121.81" stroke="#089981" stroke-width="1"/>
<rect x="580.31" y="120.00" width="2.0" height="1.00" fill="#089981"/>
<line x1="583.85" y1="114.24" x2="583.85" y2="122.59" stroke="#089981" stroke-width="1"/>
<rect x="582.85" y="116.00" width="2.0" height="4.00" fill="#089981"/>
<line x1="586.39" y1="113.49" x2="586.39" y2="122.57" stroke="#f23645" stroke-width="1"/>
<rect x="585.39" y="116.00" width="2.0" height="4.00" fill="#f23645"/>
<line x1="588.92" y1="115.64" x2="588.92" y2="122.73" stroke="#089981" stroke-width="1"/>
<rect x="587.92" y="117.60" width="2.0" height="2.40" fill="#089981"/>
<line x1="591.46" y1="115.39" x2="591.46" y2="122.23" stroke="#f23645" stroke-width="1"/>
<rect x="590.46" y="117.60" width="2.0" height="2.40" fill="#f23645"/>
<line x1="594.00" y1="116.53" x2="594.00" y2="120.58" stroke="#089981" stroke-width="1"/>
<rect x="593.00" y="117.60" width="2.0" height="2.40" fill="#089981"/>
<line x1="596.54" y1="115.97" x2="596.54" y2="119.00" stroke="#089981" stroke-width="1"/>
<rect x="595.54" y="116.80" width="2.0" height="1.00" fill="#089981"/>
<line x1="599.07" y1="116.04" x2="599.07" y2="121.89" stroke="#f23645" stroke-width="1"/>
<rect x="598.07" y="116.80" width="2.0" height="2.50" fill="#f23645"/>
<line x1="601.61" y1="117.40" x2="601.61" y2="122.07" stroke="#f23645" stroke-width="1"/>
<rect x="600.61" y="119.30" width="2.0" height="1.00" fill="#f23645"/>
<line x1="604.15" y1="114.73" x2="604.15" y2="122.20" stroke="#089981" stroke-width="1"/>
<rect x="603.15" y="116.80" width="2.0" height="3.20" fill="#089981"/>
<line x1="606.69" y1="113.28" x2="606.69" y2="117.31" stroke="#089981" stroke-width="1"/>
<rect x="605.69" y="115.00" width="2.0" height="1.80" fill="#089981"/>
<line x1="609.23" y1="110.11" x2="609.23" y2="117.37" stroke="#089981" stroke-width="1"/>
<rect x="608.23" y="112.60" width="2.0" height="2.40" fill="#089981"/>
<line x1="611.76" y1="110.84" x2="611.76" y2="128.50" stroke="#f23645" stroke-width="1"/>
<rect x="610.76" y="112.60" width="2.0" height="12.40" fill="#f23645"/>
<line x1="614.30" y1="122.85" x2="614.30" y2="139.17" stroke="#f23645" stroke-width="1"/>
<rect x="613.30" y="125.00" width="2.0" height="13.50" fill="#f23645"/>
<line x1="616.84" y1="136.16" x2="616.84" y2="144.63" stroke="#f23645" stroke-width="1"/>
<rect x="615.84" y="138.50" width="2.0" height="5.00" fill="#f23645"/>
<line x1="619.38" y1="135.31" x2="619.38" y2="144.66" stroke="#089981" stroke-width="1"/>
<rect x="618.38" y="136.00" width="2.0" height="7.50" fill="#089981"/>
<line x1="621.91" y1="133.68" x2="621.91" y2="139.51" stroke="#f23645" stroke-width="1"/>
<rect x="620.91" y="136.00" width="2.0" height="2.50" fill="#f23645"/>
<line x1="624.45" y1="136.15" x2="624.45" y2="151.44" stroke="#f23645" stroke-width="1"/>
<rect x="623.45" y="138.50" width="2.0" height="10.00" fill="#f23645"/>
<line x1="626.99" y1="142.27" x2="626.99" y2="149.96" stroke="#089981" stroke-width="1"/>
<rect x="625.99" y="144.00" width="2.0" height="4.50" fill="#089981"/>
<line x1="629.52" y1="140.80" x2="629.52" y2="146.21" stroke="#089981" stroke-width="1"/>
<rect x="628.52" y="142.50" width="2.0" height="1.50" fill="#089981"/>
<line x1="632.06" y1="140.08" x2="632.06" y2="148.04" stroke="#f23645" stroke-width="1"/>
<rect x="631.06" y="142.50" width="2.0" height="3.50" fill="#f23645"/>
<line x1="634.60" y1="135.39" x2="634.60" y2="146.69" stroke="#089981" stroke-width="1"/>
<rect x="633.60" y="137.50" width="2.0" height="8.50" fill="#089981"/>
<line x1="637.14" y1="130.13" x2="637.14" y2="138.63" stroke="#089981" stroke-width="1"/>
<rect x="636.14" y="131.00" width="2.0" height="6.50" fill="#089981"/>
<line x1="639.67" y1="128.64" x2="639.67" y2="135.26" stroke="#f23645" stroke-width="1"/>
<rect x="638.67" y="131.00" width="2.0" height="3.00" fill="#f23645"/>
<line x1="642.21" y1="132.08" x2="642.21" y2="156.53" stroke="#f23645" stroke-width="1"/>
<rect x="641.21" y="134.00" width="2.0" height="22.00" fill="#f23645"/>
<line x1="644.75" y1="155.35" x2="644.75" y2="226.00" stroke="#f23645" stroke-width="1"/>
<rect x="643.75" y="156.00" width="2.0" height="60.00" fill="#f23645"/>
<line x1="647.29" y1="208.82" x2="647.29" y2="218.23" stroke="#089981" stroke-width="1"/>
<rect x="646.29" y="211.00" width="2.0" height="5.00" fill="#089981"/>
<line x1="649.82" y1="208.81" x2="649.82" y2="213.73" stroke="#f23645" stroke-width="1"/>
<rect x="648.82" y="211.00" width="2.0" height="1.50" fill="#f23645"/>
<line x1="652.36" y1="210.71" x2="652.36" y2="215.66" stroke="#f23645" stroke-width="1"/>
<rect x="651.36" y="212.50" width="2.0" height="1.50" fill="#f23645"/>
<line x1="654.90" y1="207.33" x2="654.90" y2="214.80" stroke="#089981" stroke-width="1"/>
<rect x="653.90" y="209.00" width="2.0" height="5.00" fill="#089981"/>
<line x1="657.44" y1="193.97" x2="657.44" y2="210.00" stroke="#089981" stroke-width="1"/>
<rect x="656.44" y="196.70" width="2.0" height="12.30" fill="#089981"/>
<line x1="659.98" y1="188.75" x2="659.98" y2="199.54" stroke="#089981" stroke-width="1"/>
<rect x="658.98" y="191.70" width="2.0" height="5.00" fill="#089981"/>
<line x1="662.51" y1="191.16" x2="662.51" y2="197.65" stroke="#f23645" stroke-width="1"/>
<rect x="661.51" y="191.70" width="2.0" height="4.30" fill="#f23645"/>
<line x1="665.05" y1="162.45" x2="665.05" y2="198.92" stroke="#089981" stroke-width="1"/>
<rect x="664.05" y="165.00" width="2.0" height="31.00" fill="#089981"/>
<line x1="667.59" y1="157.00" x2="667.59" y2="171.17" stroke="#f23645" stroke-width="1"/>
<rect x="666.59" y="165.00" width="2.0" height="5.00" fill="#f23645"/>
<line x1="670.12" y1="162.98" x2="670.12" y2="172.86" stroke="#089981" stroke-width="1"/>
<rect x="669.12" y="164.00" width="2.0" height="6.00" fill="#089981"/>
<line x1="672.66" y1="157.37" x2="672.66" y2="165.95" stroke="#089981" stroke-width="1"/>
<rect x="671.66" y="158.40" width="2.0" height="5.60" fill="#089981"/>
<line x1="675.20" y1="150.00" x2="675.20" y2="160.21" stroke="#089981" stroke-width="1"/>
<rect x="674.20" y="158.00" width="2.0" height="1.00" fill="#089981"/>
<line x1="677.74" y1="155.12" x2="677.74" y2="175.13" stroke="#f23645" stroke-width="1"/>
<rect x="676.74" y="158.00" width="2.0" height="16.30" fill="#f23645"/>
<line x1="680.27" y1="168.00" x2="680.27" y2="182.77" stroke="#f23645" stroke-width="1"/>
<rect x="679.27" y="174.30" width="2.0" height="6.70" fill="#f23645"/>
<line x1="682.81" y1="178.28" x2="682.81" y2="195.66" stroke="#f23645" stroke-width="1"/>
<rect x="681.81" y="181.00" width="2.0" height="12.40" fill="#f23645"/>
<line x1="685.35" y1="192.32" x2="685.35" y2="233.00" stroke="#f23645" stroke-width="1"/>
<rect x="684.35" y="193.40" width="2.0" height="17.60" fill="#f23645"/>
<line x1="687.89" y1="209.28" x2="687.89" y2="217.26" stroke="#f23645" stroke-width="1"/>
<rect x="686.89" y="211.00" width="2.0" height="5.70" fill="#f23645"/>
<line x1="690.42" y1="216.19" x2="690.42" y2="219.33" stroke="#f23645" stroke-width="1"/>
<rect x="689.42" y="216.70" width="2.0" height="1.00" fill="#f23645"/>
<line x1="692.96" y1="211.77" x2="692.96" y2="218.85" stroke="#089981" stroke-width="1"/>
<rect x="691.96" y="213.40" width="2.0" height="4.20" fill="#089981"/>
<line x1="695.50" y1="210.15" x2="695.50" y2="214.76" stroke="#089981" stroke-width="1"/>
<rect x="694.50" y="211.00" width="2.0" height="2.40" fill="#089981"/>
<line x1="698.04" y1="209.71" x2="698.04" y2="216.80" stroke="#f23645" stroke-width="1"/>
<rect x="697.04" y="211.00" width="2.0" height="3.20" fill="#f23645"/>
<line x1="700.57" y1="213.70" x2="700.57" y2="219.98" stroke="#f23645" stroke-width="1"/>
<rect x="699.57" y="214.20" width="2.0" height="3.40" fill="#f23645"/>
<line x1="703.11" y1="204.90" x2="703.11" y2="218.40" stroke="#089981" stroke-width="1"/>
<rect x="702.11" y="207.50" width="2.0" height="10.10" fill="#089981"/>
<line x1="705.65" y1="204.68" x2="705.65" y2="254.00" stroke="#f23645" stroke-width="1"/>
<rect x="704.65" y="207.50" width="2.0" height="22.50" fill="#f23645"/>
<line x1="708.19" y1="225.65" x2="708.19" y2="231.22" stroke="#089981" stroke-width="1"/>
<rect x="707.19" y="228.40" width="2.0" height="1.60" fill="#089981"/>
<line x1="710.73" y1="226.97" x2="710.73" y2="253.00" stroke="#f23645" stroke-width="1"/>
<rect x="709.73" y="228.40" width="2.0" height="10.10" fill="#f23645"/>
<line x1="713.26" y1="235.50" x2="713.26" y2="241.97" stroke="#f23645" stroke-width="1"/>
<rect x="712.26" y="238.50" width="2.0" height="1.50" fill="#f23645"/>
<line x1="715.80" y1="238.60" x2="715.80" y2="244.17" stroke="#f23645" stroke-width="1"/>
<rect x="714.80" y="240.00" width="2.0" height="2.60" fill="#f23645"/>
<line x1="718.34" y1="241.41" x2="718.34" y2="251.00" stroke="#f23645" stroke-width="1"/>
<rect x="717.34" y="242.60" width="2.0" height="5.90" fill="#f23645"/>
<line x1="720.88" y1="242.75" x2="720.88" y2="251.09" stroke="#089981" stroke-width="1"/>
<rect x="719.88" y="243.50" width="2.0" height="5.00" fill="#089981"/>
<line x1="723.41" y1="237.29" x2="723.41" y2="246.34" stroke="#089981" stroke-width="1"/>
<rect x="722.41" y="238.50" width="2.0" height="5.00" fill="#089981"/>
<line x1="725.95" y1="237.38" x2="725.95" y2="243.76" stroke="#f23645" stroke-width="1"/>
<rect x="724.95" y="238.50" width="2.0" height="4.10" fill="#f23645"/>
<line x1="728.49" y1="240.82" x2="728.49" y2="245.97" stroke="#f23645" stroke-width="1"/>
<rect x="727.49" y="242.60" width="2.0" height="2.40" fill="#f23645"/>
<line x1="731.02" y1="240.37" x2="731.02" y2="247.89" stroke="#089981" stroke-width="1"/>
<rect x="730.02" y="241.80" width="2.0" height="3.20" fill="#089981"/>
<line x1="733.56" y1="239.09" x2="733.56" y2="247.53" stroke="#f23645" stroke-width="1"/>
<rect x="732.56" y="241.80" width="2.0" height="3.20" fill="#f23645"/>
<line x1="736.10" y1="242.92" x2="736.10" y2="263.00" stroke="#f23645" stroke-width="1"/>
<rect x="735.10" y="245.00" width="2.0" height="6.00" fill="#f23645"/>
<line x1="738.64" y1="220.55" x2="738.64" y2="260.00" stroke="#089981" stroke-width="1"/>
<rect x="737.64" y="223.40" width="2.0" height="27.60" fill="#089981"/>
<line x1="741.17" y1="217.70" x2="741.17" y2="224.02" stroke="#089981" stroke-width="1"/>
<rect x="740.17" y="220.00" width="2.0" height="3.40" fill="#089981"/>
<line x1="743.71" y1="208.00" x2="743.71" y2="221.63" stroke="#089981" stroke-width="1"/>
<rect x="742.71" y="211.70" width="2.0" height="8.30" fill="#089981"/>
<line x1="746.25" y1="209.32" x2="746.25" y2="219.71" stroke="#f23645" stroke-width="1"/>
<rect x="745.25" y="211.70" width="2.0" height="5.90" fill="#f23645"/>
<line x1="748.79" y1="212.98" x2="748.79" y2="218.22" stroke="#089981" stroke-width="1"/>
<rect x="747.79" y="214.20" width="2.0" height="3.40" fill="#089981"/>
<line x1="751.32" y1="211.38" x2="751.32" y2="220.82" stroke="#f23645" stroke-width="1"/>
<rect x="750.32" y="214.20" width="2.0" height="5.80" fill="#f23645"/>
<line x1="753.86" y1="213.32" x2="753.86" y2="221.36" stroke="#089981" stroke-width="1"/>
<rect x="752.86" y="215.00" width="2.0" height="5.00" fill="#089981"/>
<line x1="756.40" y1="213.76" x2="756.40" y2="223.35" stroke="#f23645" stroke-width="1"/>
<rect x="755.40" y="215.00" width="2.0" height="6.00" fill="#f23645"/>
<line x1="758.94" y1="210.46" x2="758.94" y2="222.15" stroke="#089981" stroke-width="1"/>
<rect x="757.94" y="213.40" width="2.0" height="7.60" fill="#089981"/>
<line x1="761.48" y1="211.26" x2="761.48" y2="221.25" stroke="#f23645" stroke-width="1"/>
<rect x="760.48" y="213.40" width="2.0" height="6.60" fill="#f23645"/>
<line x1="764.01" y1="214.11" x2="764.01" y2="221.49" stroke="#089981" stroke-width="1"/>
<rect x="763.01" y="216.00" width="2.0" height="4.00" fill="#089981"/>
<line x1="766.55" y1="166.00" x2="766.55" y2="216.90" stroke="#089981" stroke-width="1"/>
<rect x="765.55" y="168.50" width="2.0" height="47.50" fill="#089981"/>
<line x1="769.09" y1="143.00" x2="769.09" y2="171.26" stroke="#089981" stroke-width="1"/>
<rect x="768.09" y="157.90" width="2.0" height="10.60" fill="#089981"/>
<polygon points="79.2,72.0 69.3,91.4 89.1,91.4" fill="#00e676"/>
<polygon points="190.7,70.6 180.8,51.2 200.6,51.2" fill="#ff5252"/>
<polygon points="362.6,67.4 352.7,48.0 372.5,48.0" fill="#ff5252"/>
<polygon points="359.8,100.0 349.9,119.4 369.7,119.4" fill="#00e676"/>
<polygon points="555.6,131.8 545.7,151.2 565.5,151.2" fill="#00e676"/>
<polygon points="586.3,96.4 576.4,77.0 596.2,77.0" fill="#ff5252"/>
<polygon points="611.3,96.7 601.4,77.3 621.2,77.3" fill="#ff5252"/>
<polygon points="609.0,131.8 599.1,151.2 618.9,151.2" fill="#00e676"/>
<rect x="5" y="323.0" width="791" height="82.8" fill="#7e57c2" fill-opacity="0.1"/>
<line x1="5" y1="323.0" x2="796" y2="323.0" stroke="#787b86" stroke-opacity="1" stroke-width="1" stroke-dasharray="4,4" stroke-dashoffset="7.15"/>
<line x1="5" y1="364.4" x2="796" y2="364.4" stroke="#787b86" stroke-opacity="0.5" stroke-width="1" stroke-dasharray="4,4" stroke-dashoffset="7.15"/>
<line x1="5" y1="405.8" x2="796" y2="405.8" stroke="#787b86" stroke-opacity="1" stroke-width="1" stroke-dasharray="4,4" stroke-dashoffset="7.15"/>
<defs><clipPath id="ob"><rect x="0" y="0" width="852" height="323.0"/></clipPath><clipPath id="os"><rect x="0" y="405.8" width="852" height="100"/></clipPath><linearGradient id="gg" gradientUnits="userSpaceOnUse" x1="0" y1="271.2" x2="0" y2="323.0"><stop offset="0" stop-color="#4caf50" stop-opacity="1"/><stop offset="1" stop-color="#4caf50" stop-opacity="0"/></linearGradient><linearGradient id="rg" gradientUnits="userSpaceOnUse" x1="0" y1="405.8" x2="0" y2="457.5"><stop offset="0" stop-color="#f23645" stop-opacity="0"/><stop offset="1" stop-color="#f23645" stop-opacity="1"/></linearGradient></defs>
<polygon points="5,323.00 5.30,346.14 7.84,359.72 10.38,380.62 12.91,397.86 15.45,390.86 17.99,391.39 20.53,385.87 23.06,391.11 25.60,381.86 28.14,370.91 30.68,367.71 33.21,376.32 35.75,367.29 38.29,365.69 40.82,362.39 43.36,368.30 45.90,375.46 48.44,372.58 50.98,374.27 53.51,356.84 56.05,352.84 58.59,355.86 61.12,351.59 63.66,350.72 66.20,347.15 68.74,334.54 71.28,311.95 73.81,307.50 76.35,309.78 78.89,310.99 81.42,310.99 83.96,321.33 86.50,317.32 89.04,326.17 91.58,327.44 94.11,323.80 96.65,326.58 99.19,329.45 101.72,325.89 104.26,330.50 106.80,330.50 109.34,332.20 111.88,326.11 114.41,313.09 116.95,316.51 119.49,323.41 122.03,311.10 124.56,338.53 127.10,337.09 129.64,331.47 132.18,329.43 134.71,340.05 137.25,341.36 139.79,336.77 142.33,333.91 144.86,339.84 147.40,339.84 149.94,334.64 152.48,343.48 155.01,350.35 157.55,371.39 160.09,372.50 162.63,372.50 165.16,353.83 167.70,344.77 170.24,346.89 172.78,343.32 175.31,366.58 177.85,367.70 180.39,373.32 182.93,372.78 185.46,406.51 188.00,410.64 190.54,401.72 193.08,397.95 195.61,402.12 198.15,416.75 200.69,418.75 203.23,425.54 205.76,416.99 208.30,409.40 210.84,397.23 213.38,399.98 215.91,387.57 218.45,395.32 220.99,397.89 223.53,396.10 226.06,384.13 228.60,392.38 231.14,384.48 233.68,376.32 236.21,373.71 238.75,367.47 241.29,374.73 243.83,376.08 246.36,355.33 248.90,378.38 251.44,374.22 253.98,376.99 256.51,367.94 259.05,369.19 261.59,376.15 264.12,368.02 266.66,357.87 269.20,352.16 271.74,361.07 274.28,356.32 276.81,351.40 279.35,361.39 281.89,355.41 284.43,366.32 286.96,367.67 289.50,374.06 292.04,365.90 294.58,365.34 297.11,373.04 299.65,377.39 302.19,381.00 304.73,377.89 307.26,373.78 309.80,358.54 312.34,387.69 314.88,371.70 317.41,364.50 319.95,373.05 322.49,353.32 325.03,356.22 327.56,357.32 330.10,352.17 332.64,358.47 335.18,358.47 337.71,366.43 340.25,369.85 342.79,358.99 345.33,355.57 347.86,352.31 350.40,357.44 352.94,352.20 355.48,342.37 358.01,339.01 360.55,344.95 363.09,362.69 365.62,376.62 368.16,370.36 370.70,379.44 373.24,376.68 375.78,366.67 378.31,376.76 380.85,365.52 383.39,385.48 385.93,391.00 388.46,390.26 391.00,384.70 393.54,379.05 396.08,377.52 398.61,372.66 401.15,364.82 403.69,364.82 406.23,365.81 408.76,367.47 411.30,362.78 413.84,353.97 416.38,358.11 418.91,369.44 421.45,371.16 423.99,377.54 426.53,386.23 429.06,387.89 431.60,403.02 434.14,388.17 436.68,394.55 439.21,396.36 441.75,384.28 444.29,376.10 446.83,372.35 449.36,367.46 451.90,373.72 454.44,375.30 456.98,367.95 459.51,360.91 462.05,366.01 464.59,368.98 467.12,356.47 469.66,377.35 472.20,355.06 474.74,359.39 477.28,357.77 479.81,361.43 482.35,352.31 484.89,360.94 487.43,374.14 489.96,367.94 492.50,379.85 495.04,371.03 497.58,355.79 500.11,352.36 502.65,352.36 505.19,345.91 507.73,360.31 510.26,354.45 512.80,351.49 515.34,356.20 517.88,360.00 520.41,362.72 522.95,358.20 525.49,361.31 528.02,367.43 530.56,362.17 533.10,361.15 535.64,365.57 538.17,361.10 540.71,355.40 543.25,349.94 545.79,349.94 548.32,346.66 550.86,355.92 553.40,345.36 555.94,338.29 558.48,333.55 561.01,344.41 563.55,337.72 566.09,336.79 568.62,343.71 571.16,365.03 573.70,354.68 576.24,366.82 578.77,367.79 581.31,367.79 583.85,361.37 586.39,367.84 588.92,363.81 591.46,367.87 594.00,363.55 596.54,362.09 599.07,366.94 601.61,368.32 604.15,361.56 606.69,357.86 609.23,353.00 611.76,378.05 614.30,396.34 616.84,401.72 619.38,386.48 621.91,389.53 624.45,400.40 626.99,391.61 629.52,388.72 632.06,392.89 634.60,376.92 637.14,366.40 639.67,370.78 642.21,395.44 644.75,426.40 647.29,420.29 649.82,420.85 652.36,421.44 654.90,414.52 657.44,398.79 659.98,392.88 662.51,395.74 665.05,364.89 667.59,368.82 670.12,363.74 672.66,359.10 675.20,358.76 677.74,373.16 680.27,378.39 682.81,387.25 685.35,397.86 687.89,400.93 690.42,401.43 692.96,396.39 695.50,393.46 698.04,395.70 700.57,398.10 703.11,384.90 705.65,400.47 708.19,398.49 710.73,404.59 713.26,405.46 715.80,407.04 718.34,410.57 720.88,403.04 723.41,395.74 725.95,398.87 728.49,400.71 731.02,395.56 733.56,398.32 736.10,403.30 738.64,366.05 741.17,362.52 743.71,354.29 746.25,360.92 748.79,357.42 751.32,364.09 753.86,358.62 756.40,365.63 758.94,357.20 761.48,364.95 764.01,360.40 766.55,321.96 769.09,314.97 769.09,323.00" fill="url(#gg)" clip-path="url(#ob)"/>
<polygon points="5,405.80 5.30,346.14 7.84,359.72 10.38,380.62 12.91,397.86 15.45,390.86 17.99,391.39 20.53,385.87 23.06,391.11 25.60,381.86 28.14,370.91 30.68,367.71 33.21,376.32 35.75,367.29 38.29,365.69 40.82,362.39 43.36,368.30 45.90,375.46 48.44,372.58 50.98,374.27 53.51,356.84 56.05,352.84 58.59,355.86 61.12,351.59 63.66,350.72 66.20,347.15 68.74,334.54 71.28,311.95 73.81,307.50 76.35,309.78 78.89,310.99 81.42,310.99 83.96,321.33 86.50,317.32 89.04,326.17 91.58,327.44 94.11,323.80 96.65,326.58 99.19,329.45 101.72,325.89 104.26,330.50 106.80,330.50 109.34,332.20 111.88,326.11 114.41,313.09 116.95,316.51 119.49,323.41 122.03,311.10 124.56,338.53 127.10,337.09 129.64,331.47 132.18,329.43 134.71,340.05 137.25,341.36 139.79,336.77 142.33,333.91 144.86,339.84 147.40,339.84 149.94,334.64 152.48,343.48 155.01,350.35 157.55,371.39 160.09,372.50 162.63,372.50 165.16,353.83 167.70,344.77 170.24,346.89 172.78,343.32 175.31,366.58 177.85,367.70 180.39,373.32 182.93,372.78 185.46,406.51 188.00,410.64 190.54,401.72 193.08,397.95 195.61,402.12 198.15,416.75 200.69,418.75 203.23,425.54 205.76,416.99 208.30,409.40 210.84,397.23 213.38,399.98 215.91,387.57 218.45,395.32 220.99,397.89 223.53,396.10 226.06,384.13 228.60,392.38 231.14,384.48 233.68,376.32 236.21,373.71 238.75,367.47 241.29,374.73 243.83,376.08 246.36,355.33 248.90,378.38 251.44,374.22 253.98,376.99 256.51,367.94 259.05,369.19 261.59,376.15 264.12,368.02 266.66,357.87 269.20,352.16 271.74,361.07 274.28,356.32 276.81,351.40 279.35,361.39 281.89,355.41 284.43,366.32 286.96,367.67 289.50,374.06 292.04,365.90 294.58,365.34 297.11,373.04 299.65,377.39 302.19,381.00 304.73,377.89 307.26,373.78 309.80,358.54 312.34,387.69 314.88,371.70 317.41,364.50 319.95,373.05 322.49,353.32 325.03,356.22 327.56,357.32 330.10,352.17 332.64,358.47 335.18,358.47 337.71,366.43 340.25,369.85 342.79,358.99 345.33,355.57 347.86,352.31 350.40,357.44 352.94,352.20 355.48,342.37 358.01,339.01 360.55,344.95 363.09,362.69 365.62,376.62 368.16,370.36 370.70,379.44 373.24,376.68 375.78,366.67 378.31,376.76 380.85,365.52 383.39,385.48 385.93,391.00 388.46,390.26 391.00,384.70 393.54,379.05 396.08,377.52 398.61,372.66 401.15,364.82 403.69,364.82 406.23,365.81 408.76,367.47 411.30,362.78 413.84,353.97 416.38,358.11 418.91,369.44 421.45,371.16 423.99,377.54 426.53,386.23 429.06,387.89 431.60,403.02 434.14,388.17 436.68,394.55 439.21,396.36 441.75,384.28 444.29,376.10 446.83,372.35 449.36,367.46 451.90,373.72 454.44,375.30 456.98,367.95 459.51,360.91 462.05,366.01 464.59,368.98 467.12,356.47 469.66,377.35 472.20,355.06 474.74,359.39 477.28,357.77 479.81,361.43 482.35,352.31 484.89,360.94 487.43,374.14 489.96,367.94 492.50,379.85 495.04,371.03 497.58,355.79 500.11,352.36 502.65,352.36 505.19,345.91 507.73,360.31 510.26,354.45 512.80,351.49 515.34,356.20 517.88,360.00 520.41,362.72 522.95,358.20 525.49,361.31 528.02,367.43 530.56,362.17 533.10,361.15 535.64,365.57 538.17,361.10 540.71,355.40 543.25,349.94 545.79,349.94 548.32,346.66 550.86,355.92 553.40,345.36 555.94,338.29 558.48,333.55 561.01,344.41 563.55,337.72 566.09,336.79 568.62,343.71 571.16,365.03 573.70,354.68 576.24,366.82 578.77,367.79 581.31,367.79 583.85,361.37 586.39,367.84 588.92,363.81 591.46,367.87 594.00,363.55 596.54,362.09 599.07,366.94 601.61,368.32 604.15,361.56 606.69,357.86 609.23,353.00 611.76,378.05 614.30,396.34 616.84,401.72 619.38,386.48 621.91,389.53 624.45,400.40 626.99,391.61 629.52,388.72 632.06,392.89 634.60,376.92 637.14,366.40 639.67,370.78 642.21,395.44 644.75,426.40 647.29,420.29 649.82,420.85 652.36,421.44 654.90,414.52 657.44,398.79 659.98,392.88 662.51,395.74 665.05,364.89 667.59,368.82 670.12,363.74 672.66,359.10 675.20,358.76 677.74,373.16 680.27,378.39 682.81,387.25 685.35,397.86 687.89,400.93 690.42,401.43 692.96,396.39 695.50,393.46 698.04,395.70 700.57,398.10 703.11,384.90 705.65,400.47 708.19,398.49 710.73,404.59 713.26,405.46 715.80,407.04 718.34,410.57 720.88,403.04 723.41,395.74 725.95,398.87 728.49,400.71 731.02,395.56 733.56,398.32 736.10,403.30 738.64,366.05 741.17,362.52 743.71,354.29 746.25,360.92 748.79,357.42 751.32,364.09 753.86,358.62 756.40,365.63 758.94,357.20 761.48,364.95 764.01,360.40 766.55,321.96 769.09,314.97 769.09,405.80" fill="url(#rg)" clip-path="url(#os)"/>
<polyline points="5.30,357.33 7.84,357.44 10.38,359.04 12.91,361.87 15.45,364.21 17.99,366.58 20.53,368.56 23.06,370.91 25.60,372.60 28.14,373.51 30.68,374.19 33.21,375.48 35.75,376.13 38.29,376.67 40.82,377.83 43.36,378.44 45.90,378.07 48.44,376.27 50.98,375.08 53.51,372.62 56.05,370.26 58.59,367.74 61.12,365.58 63.66,364.13 66.20,362.66 68.74,359.68 71.28,355.73 73.81,351.57 76.35,347.81 78.89,343.72 81.42,339.11 83.96,335.45 86.50,331.39 89.04,329.19 91.58,327.38 94.11,325.09 96.65,323.30 99.19,321.79 101.72,320.27 104.26,319.98 106.80,321.30 109.34,323.07 111.88,324.23 114.41,324.38 116.95,324.78 119.49,324.93 122.03,324.48 124.56,325.37 127.10,326.06 129.64,326.60 132.18,326.81 134.71,327.56 137.25,328.67 139.79,329.12 142.33,329.36 144.86,329.91 147.40,330.89 149.94,332.43 152.48,334.35 155.01,336.28 157.55,340.58 160.09,343.01 162.63,345.54 165.16,347.13 167.70,348.23 170.24,348.72 172.78,348.86 175.31,350.99 177.85,353.40 180.39,355.79 182.93,358.15 185.46,363.28 188.00,368.08 190.54,371.75 193.08,373.64 195.61,375.76 198.15,378.92 200.69,383.56 203.23,389.33 205.76,394.33 208.30,399.05 210.84,401.24 213.38,403.55 215.91,404.57 218.45,406.18 220.99,405.56 223.53,404.52 226.06,403.27 228.60,402.87 231.14,401.61 233.68,398.72 236.21,395.50 238.75,391.36 241.29,388.34 243.83,385.96 246.36,382.96 248.90,381.42 251.44,380.47 253.98,379.16 256.51,377.02 259.05,375.10 261.59,374.53 264.12,372.79 266.66,370.89 269.20,369.16 271.74,368.26 274.28,367.46 276.81,365.79 279.35,364.74 281.89,364.75 284.43,363.89 286.96,363.42 289.50,363.21 292.04,363.07 294.58,362.79 297.11,362.57 299.65,363.24 302.19,364.89 304.73,366.73 307.26,367.64 309.80,367.79 312.34,370.39 314.88,371.12 317.41,371.77 319.95,372.25 322.49,371.23 325.03,369.95 327.56,369.34 330.10,368.40 332.64,367.36 335.18,366.01 337.71,364.97 340.25,364.39 342.79,363.34 345.33,363.12 347.86,360.60 350.40,359.58 352.94,358.70 355.48,356.51 358.01,355.49 360.55,354.68 363.09,355.06 365.62,356.81 368.16,357.66 370.70,359.16 373.24,359.89 375.78,359.66 378.31,360.93 380.85,361.64 383.39,364.01 385.93,366.41 388.46,369.13 391.00,372.15 393.54,375.01 396.08,377.34 398.61,378.05 401.15,377.21 403.69,376.81 406.23,375.84 408.76,375.18 411.30,374.90 413.84,373.28 416.38,372.75 418.91,371.60 421.45,370.18 423.99,369.27 426.53,369.38 429.06,370.01 431.60,371.84 434.14,372.94 436.68,375.07 439.21,377.32 441.75,378.64 444.29,379.26 446.83,379.94 449.36,380.90 451.90,382.02 454.44,382.44 456.98,382.21 459.51,381.02 462.05,379.58 464.59,378.23 467.12,374.90 469.66,374.13 472.20,371.31 474.74,368.67 477.28,366.77 479.81,365.72 482.35,364.29 484.89,363.83 487.43,363.86 489.96,363.33 492.50,364.18 495.04,364.91 497.58,364.18 500.11,362.99 502.65,362.69 505.19,360.45 507.73,360.82 510.26,360.47 512.80,360.02 515.34,359.65 517.88,360.20 520.41,360.32 522.95,359.19 525.49,358.71 528.02,357.82 530.56,357.19 533.10,357.57 535.64,358.52 538.17,359.14 540.71,359.82 543.25,359.08 545.79,358.76 548.32,358.41 550.86,358.39 553.40,357.35 555.94,355.60 558.48,353.84 561.01,352.64 563.55,350.51 566.09,348.70 568.62,347.46 571.16,347.42 573.70,346.96 576.24,347.77 578.77,349.05 581.31,350.32 583.85,351.38 586.39,352.23 588.92,353.54 591.46,355.66 594.00,357.80 596.54,359.06 599.07,361.15 601.61,363.40 604.15,364.68 606.69,364.16 609.23,364.04 611.76,364.85 614.30,366.89 616.84,369.31 619.38,371.10 621.91,372.65 624.45,375.26 626.99,376.96 629.52,378.76 632.06,380.96 634.60,381.67 637.14,381.53 639.67,382.19 642.21,384.88 644.75,390.12 647.29,393.14 649.82,394.89 652.36,396.30 654.90,398.30 657.44,398.96 659.98,398.42 662.51,398.72 665.05,397.02 667.59,395.30 670.12,394.36 672.66,393.83 675.20,392.98 677.74,391.38 680.27,387.95 682.81,385.59 685.35,383.95 687.89,382.49 690.42,381.55 692.96,381.38 695.50,381.42 698.04,381.42 700.57,383.79 703.11,384.94 705.65,387.56 708.19,390.38 710.73,393.65 713.26,395.96 715.80,398.01 718.34,399.67 720.88,400.04 723.41,399.67 725.95,399.49 728.49,399.80 731.02,399.95 733.56,400.13 736.10,400.50 738.64,399.16 741.17,396.45 743.71,393.29 746.25,390.17 748.79,386.74 751.32,383.67 753.86,379.96 756.40,377.29 758.94,374.54 761.48,372.11 764.01,369.23 766.55,363.98 769.09,358.02" fill="none" stroke="#fdd835" stroke-width="1"/>
<polyline points="5.30,346.14 7.84,359.72 10.38,380.62 12.91,397.86 15.45,390.86 17.99,391.39 20.53,385.87 23.06,391.11 25.60,381.86 28.14,370.91 30.68,367.71 33.21,376.32 35.75,367.29 38.29,365.69 40.82,362.39 43.36,368.30 45.90,375.46 48.44,372.58 50.98,374.27 53.51,356.84 56.05,352.84 58.59,355.86 61.12,351.59 63.66,350.72 66.20,347.15 68.74,334.54 71.28,311.95 73.81,307.50 76.35,309.78 78.89,310.99 81.42,310.99 83.96,321.33 86.50,317.32 89.04,326.17 91.58,327.44 94.11,323.80 96.65,326.58 99.19,329.45 101.72,325.89 104.26,330.50 106.80,330.50 109.34,332.20 111.88,326.11 114.41,313.09 116.95,316.51 119.49,323.41 122.03,311.10 124.56,338.53 127.10,337.09 129.64,331.47 132.18,329.43 134.71,340.05 137.25,341.36 139.79,336.77 142.33,333.91 144.86,339.84 147.40,339.84 149.94,334.64 152.48,343.48 155.01,350.35 157.55,371.39 160.09,372.50 162.63,372.50 165.16,353.83 167.70,344.77 170.24,346.89 172.78,343.32 175.31,366.58 177.85,367.70 180.39,373.32 182.93,372.78 185.46,406.51 188.00,410.64 190.54,401.72 193.08,397.95 195.61,402.12 198.15,416.75 200.69,418.75 203.23,425.54 205.76,416.99 208.30,409.40 210.84,397.23 213.38,399.98 215.91,387.57 218.45,395.32 220.99,397.89 223.53,396.10 226.06,384.13 228.60,392.38 231.14,384.48 233.68,376.32 236.21,373.71 238.75,367.47 241.29,374.73 243.83,376.08 246.36,355.33 248.90,378.38 251.44,374.22 253.98,376.99 256.51,367.94 259.05,369.19 261.59,376.15 264.12,368.02 266.66,357.87 269.20,352.16 271.74,361.07 274.28,356.32 276.81,351.40 279.35,361.39 281.89,355.41 284.43,366.32 286.96,367.67 289.50,374.06 292.04,365.90 294.58,365.34 297.11,373.04 299.65,377.39 302.19,381.00 304.73,377.89 307.26,373.78 309.80,358.54 312.34,387.69 314.88,371.70 317.41,364.50 319.95,373.05 322.49,353.32 325.03,356.22 327.56,357.32 330.10,352.17 332.64,358.47 335.18,358.47 337.71,366.43 340.25,369.85 342.79,358.99 345.33,355.57 347.86,352.31 350.40,357.44 352.94,352.20 355.48,342.37 358.01,339.01 360.55,344.95 363.09,362.69 365.62,376.62 368.16,370.36 370.70,379.44 373.24,376.68 375.78,366.67 378.31,376.76 380.85,365.52 383.39,385.48 385.93,391.00 388.46,390.26 391.00,384.70 393.54,379.05 396.08,377.52 398.61,372.66 401.15,364.82 403.69,364.82 406.23,365.81 408.76,367.47 411.30,362.78 413.84,353.97 416.38,358.11 418.91,369.44 421.45,371.16 423.99,377.54 426.53,386.23 429.06,387.89 431.60,403.02 434.14,388.17 436.68,394.55 439.21,396.36 441.75,384.28 444.29,376.10 446.83,372.35 449.36,367.46 451.90,373.72 454.44,375.30 456.98,367.95 459.51,360.91 462.05,366.01 464.59,368.98 467.12,356.47 469.66,377.35 472.20,355.06 474.74,359.39 477.28,357.77 479.81,361.43 482.35,352.31 484.89,360.94 487.43,374.14 489.96,367.94 492.50,379.85 495.04,371.03 497.58,355.79 500.11,352.36 502.65,352.36 505.19,345.91 507.73,360.31 510.26,354.45 512.80,351.49 515.34,356.20 517.88,360.00 520.41,362.72 522.95,358.20 525.49,361.31 528.02,367.43 530.56,362.17 533.10,361.15 535.64,365.57 538.17,361.10 540.71,355.40 543.25,349.94 545.79,349.94 548.32,346.66 550.86,355.92 553.40,345.36 555.94,338.29 558.48,333.55 561.01,344.41 563.55,337.72 566.09,336.79 568.62,343.71 571.16,365.03 573.70,354.68 576.24,366.82 578.77,367.79 581.31,367.79 583.85,361.37 586.39,367.84 588.92,363.81 591.46,367.87 594.00,363.55 596.54,362.09 599.07,366.94 601.61,368.32 604.15,361.56 606.69,357.86 609.23,353.00 611.76,378.05 614.30,396.34 616.84,401.72 619.38,386.48 621.91,389.53 624.45,400.40 626.99,391.61 629.52,388.72 632.06,392.89 634.60,376.92 637.14,366.40 639.67,370.78 642.21,395.44 644.75,426.40 647.29,420.29 649.82,420.85 652.36,421.44 654.90,414.52 657.44,398.79 659.98,392.88 662.51,395.74 665.05,364.89 667.59,368.82 670.12,363.74 672.66,359.10 675.20,358.76 677.74,373.16 680.27,378.39 682.81,387.25 685.35,397.86 687.89,400.93 690.42,401.43 692.96,396.39 695.50,393.46 698.04,395.70 700.57,398.10 703.11,384.90 705.65,400.47 708.19,398.49 710.73,404.59 713.26,405.46 715.80,407.04 718.34,410.57 720.88,403.04 723.41,395.74 725.95,398.87 728.49,400.71 731.02,395.56 733.56,398.32 736.10,403.30 738.64,366.05 741.17,362.52 743.71,354.29 746.25,360.92 748.79,357.42 751.32,364.09 753.86,358.62 756.40,365.63 758.94,357.20 761.48,364.95 764.01,360.40 766.55,321.96 769.09,314.97" fill="none" stroke="#7e57c2" stroke-width="0.9"/>
<line x1="4.5" y1="289.5" x2="844.5" y2="289.5" stroke="#e6e8ee" stroke-width="1"/>
<line x1="4.5" y1="0" x2="4.5" y2="467.5" stroke="#eeeff1" stroke-width="1"/>
<line x1="844.5" y1="0" x2="844.5" y2="467.5" stroke="#eeeff1" stroke-width="1"/>
<line x1="4.5" y1="467.5" x2="844.5" y2="467.5" stroke="#eeeff1" stroke-width="1"/>
<text x="802.45" y="33.0" font-family="Liberation Sans, sans-serif" font-size="9.5" fill="#131722" textLength="35.00" lengthAdjust="spacingAndGlyphs">2,080.00</text>
<text x="802.45" y="66.4" font-family="Liberation Sans, sans-serif" font-size="9.5" fill="#131722" textLength="35.00" lengthAdjust="spacingAndGlyphs">2,040.00</text>
<text x="802.45" y="99.8" font-family="Liberation Sans, sans-serif" font-size="9.5" fill="#131722" textLength="35.00" lengthAdjust="spacingAndGlyphs">2,000.00</text>
<text x="802.45" y="133.2" font-family="Liberation Sans, sans-serif" font-size="9.5" fill="#131722" textLength="35.00" lengthAdjust="spacingAndGlyphs">1,960.00</text>
<text x="802.45" y="266.6" font-family="Liberation Sans, sans-serif" font-size="9.5" fill="#131722" textLength="35.00" lengthAdjust="spacingAndGlyphs">1,800.00</text>
<text x="802.25" y="305.3" font-family="Liberation Sans, sans-serif" font-size="9.5" fill="#131722" textLength="22.30" lengthAdjust="spacingAndGlyphs">80.00</text>
<text x="802.25" y="346.7" font-family="Liberation Sans, sans-serif" font-size="9.5" fill="#131722" textLength="22.30" lengthAdjust="spacingAndGlyphs">60.00</text>
<text x="802.25" y="388.1" font-family="Liberation Sans, sans-serif" font-size="9.5" fill="#131722" textLength="22.30" lengthAdjust="spacingAndGlyphs">40.00</text>
<text x="802.25" y="429.5" font-family="Liberation Sans, sans-serif" font-size="9.5" fill="#131722" textLength="22.30" lengthAdjust="spacingAndGlyphs">20.00</text>
<rect x="796.7" y="151.9" width="44.1" height="12" rx="1.5" fill="#089981"/><text x="802.25" y="161.1" font-family="Liberation Sans, sans-serif" font-size="9.5" fill="#fff" textLength="35.00" lengthAdjust="spacingAndGlyphs">1,926.86</text>
<rect x="796.7" y="164.4" width="44.1" height="12" rx="1.5" fill="#9c27b0"/><text x="802.25" y="173.6" font-family="Liberation Sans, sans-serif" font-size="9.5" fill="#fff" textLength="35.00" lengthAdjust="spacingAndGlyphs">1,915.77</text>
<rect x="796.7" y="179.1" width="44.1" height="12" rx="1.5" fill="#ff5252"/><text x="802.25" y="188.3" font-family="Liberation Sans, sans-serif" font-size="9.5" fill="#fff" textLength="35.00" lengthAdjust="spacingAndGlyphs">1,893.77</text>
<rect x="796.7" y="191.7" width="44.1" height="12" rx="1.5" fill="#2962ff"/><text x="802.25" y="200.9" font-family="Liberation Sans, sans-serif" font-size="9.5" fill="#fff" textLength="35.00" lengthAdjust="spacingAndGlyphs">1,880.25</text>
<rect x="796.7" y="204.3" width="44.1" height="12" rx="1.5" fill="#ff9800"/><text x="802.25" y="213.5" font-family="Liberation Sans, sans-serif" font-size="9.5" fill="#131722" textLength="35.00" lengthAdjust="spacingAndGlyphs">1,875.37</text>
<rect x="796.7" y="216.8" width="44.1" height="12" rx="1.5" fill="#00bcd4"/><text x="802.25" y="226.0" font-family="Liberation Sans, sans-serif" font-size="9.5" fill="#131722" textLength="35.00" lengthAdjust="spacingAndGlyphs">1,869.17</text>
<rect x="796.7" y="229.4" width="44.1" height="12" rx="1.5" fill="#ffeb3b"/><text x="802.25" y="238.6" font-family="Liberation Sans, sans-serif" font-size="9.5" fill="#131722" textLength="35.00" lengthAdjust="spacingAndGlyphs">1,863.93</text>
<rect x="796.7" y="242.0" width="44.1" height="12" rx="1.5" fill="#4caf50"/><text x="802.25" y="251.2" font-family="Liberation Sans, sans-serif" font-size="9.5" fill="#fff" textLength="35.00" lengthAdjust="spacingAndGlyphs">1,862.40</text>
<rect x="758.1" y="151.9" width="38" height="12" rx="1.5" fill="#089981"/>
<text x="761.25" y="161.0" font-family="Liberation Sans, sans-serif" font-size="8.2" fill="#fff" textLength="31.70" lengthAdjust="spacingAndGlyphs">ETHUSD</text>
<rect x="796.5" y="308.6" width="31.6" height="12.3" rx="1.5" fill="#7e57c2"/><text x="802.25" y="317.9" font-family="Liberation Sans, sans-serif" font-size="9.5" fill="#ffffff" textLength="22.30" lengthAdjust="spacingAndGlyphs">73.88</text>
<rect x="796.5" y="353.0" width="31.6" height="12.6" rx="1.5" fill="#f7d23b"/><text x="802.25" y="362.5" font-family="Liberation Sans, sans-serif" font-size="9.5" fill="#131722" textLength="22.30" lengthAdjust="spacingAndGlyphs">52.56</text>
<circle cx="769.1" cy="261.3" r="7.2" fill="#fff" stroke="#9c27b0" stroke-width="1.1"/>
<polyline points="771.7,258.6 767.4,262.3 771.4,262.0 766.9,265.7" fill="none" stroke="#9c27b0" stroke-width="1.3" stroke-linejoin="miter"/>
<circle cx="774.3" cy="256.2" r="2.0" fill="#fff"/><circle cx="774.3" cy="256.2" r="1.5" fill="#f23645"/>
<defs><clipPath id="flagc"><circle cx="769.1" cy="279.5" r="6.1"/></clipPath></defs>
<circle cx="769.1" cy="279.5" r="7.4" fill="#fff" stroke="#f23645" stroke-width="1.1"/>
<g clip-path="url(#flagc)"><rect x="762" y="273" width="8.2" height="7.6" fill="#3a78ee"/><rect x="770.2" y="273" width="7" height="2.2" fill="#f23645"/><rect x="770.2" y="277.6" width="7" height="3" fill="#f23645"/><rect x="762" y="282.7" width="15" height="1.8" fill="#f23645"/></g>
<circle cx="764.2" cy="274.6" r="0.45" fill="#cfe0ff"/>
<circle cx="766.2" cy="274.6" r="0.45" fill="#cfe0ff"/>
<circle cx="768.2" cy="274.6" r="0.45" fill="#cfe0ff"/>
<circle cx="764.2" cy="276.6" r="0.45" fill="#cfe0ff"/>
<circle cx="766.2" cy="276.6" r="0.45" fill="#cfe0ff"/>
<circle cx="768.2" cy="276.6" r="0.45" fill="#cfe0ff"/>
<circle cx="764.2" cy="278.6" r="0.45" fill="#cfe0ff"/>
<circle cx="766.2" cy="278.6" r="0.45" fill="#cfe0ff"/>
<circle cx="768.2" cy="278.6" r="0.45" fill="#cfe0ff"/>
<text x="20.5" y="460.2" font-family="Liberation Sans, sans-serif" font-size="8.8" fill="#131722" text-anchor="middle">13</text>
<text x="81.4" y="460.2" font-family="Liberation Sans, sans-serif" font-size="8.8" fill="#131722" text-anchor="middle">14</text>
<text x="142.3" y="460.2" font-family="Liberation Sans, sans-serif" font-size="8.8" fill="#131722" text-anchor="middle">15</text>
<text x="203.2" y="460.2" font-family="Liberation Sans, sans-serif" font-size="8.8" fill="#131722" text-anchor="middle" font-weight="bold">16</text>
<text x="264.1" y="460.2" font-family="Liberation Sans, sans-serif" font-size="8.8" fill="#131722" text-anchor="middle">17</text>
<text x="325.0" y="460.2" font-family="Liberation Sans, sans-serif" font-size="8.8" fill="#131722" text-anchor="middle">18</text>
<text x="385.9" y="460.2" font-family="Liberation Sans, sans-serif" font-size="8.8" fill="#131722" text-anchor="middle">19</text>
<text x="446.8" y="460.2" font-family="Liberation Sans, sans-serif" font-size="8.8" fill="#131722" text-anchor="middle">20</text>
<text x="507.7" y="460.2" font-family="Liberation Sans, sans-serif" font-size="8.8" fill="#131722" text-anchor="middle">21</text>
<text x="568.6" y="460.2" font-family="Liberation Sans, sans-serif" font-size="8.8" fill="#131722" text-anchor="middle">22</text>
<text x="629.5" y="460.2" font-family="Liberation Sans, sans-serif" font-size="8.8" fill="#131722" text-anchor="middle" font-weight="bold">23</text>
<text x="690.4" y="460.2" font-family="Liberation Sans, sans-serif" font-size="8.8" fill="#131722" text-anchor="middle">24</text>
<text x="751.3" y="460.2" font-family="Liberation Sans, sans-serif" font-size="8.8" fill="#131722" text-anchor="middle">25</text>
<text x="10.75" y="3.7" font-family="Liberation Sans, sans-serif" font-size="9.0" fill="#131722" textLength="4.40" lengthAdjust="spacingAndGlyphs">7</text>
<text x="17.15" y="3.7" font-family="Liberation Sans, sans-serif" font-size="9.0" fill="#131722" textLength="17.30" lengthAdjust="spacingAndGlyphs">EMA</text>
<text x="35.95" y="3.7" font-family="Liberation Sans, sans-serif" font-size="9.0" fill="#131722" textLength="23.80" lengthAdjust="spacingAndGlyphs">Cloud</text>
<text x="61.75" y="3.7" font-family="Liberation Sans, sans-serif" font-size="9.0" fill="#131722" textLength="11.50" lengthAdjust="spacingAndGlyphs">(8,</text>
<text x="74.65" y="3.7" font-family="Liberation Sans, sans-serif" font-size="9.0" fill="#131722" textLength="13.40" lengthAdjust="spacingAndGlyphs">13,</text>
<text x="90.95" y="3.7" font-family="Liberation Sans, sans-serif" font-size="9.0" fill="#131722" textLength="12.70" lengthAdjust="spacingAndGlyphs">21,</text>
<text x="106.55" y="3.7" font-family="Liberation Sans, sans-serif" font-size="9.0" fill="#131722" textLength="12.30" lengthAdjust="spacingAndGlyphs">34,</text>
<text x="121.95" y="3.7" font-family="Liberation Sans, sans-serif" font-size="9.0" fill="#131722" textLength="12.10" lengthAdjust="spacingAndGlyphs">55,</text>
<text x="136.45" y="3.7" font-family="Liberation Sans, sans-serif" font-size="9.0" fill="#131722" textLength="12.60" lengthAdjust="spacingAndGlyphs">89,</text>
<text x="152.85" y="3.7" font-family="Liberation Sans, sans-serif" font-size="9.0" fill="#131722" textLength="16.00" lengthAdjust="spacingAndGlyphs">144,</text>
<text x="172.15" y="3.7" font-family="Liberation Sans, sans-serif" font-size="9.0" fill="#131722" textLength="12.10" lengthAdjust="spacingAndGlyphs">80,</text>
<text x="187.65" y="3.7" font-family="Liberation Sans, sans-serif" font-size="9.0" fill="#131722" textLength="30.00" lengthAdjust="spacingAndGlyphs">Classic,</text>
<text x="220.45" y="3.7" font-family="Liberation Sans, sans-serif" font-size="9.0" fill="#131722" textLength="31.70" lengthAdjust="spacingAndGlyphs">Normal)</text>
<text x="258.65" y="3.7" font-family="Liberation Sans, sans-serif" font-size="9.0" fill="#2962ff" textLength="33.20" lengthAdjust="spacingAndGlyphs">1,880.25</text>
<text x="298.50" y="3.7" font-family="Liberation Sans, sans-serif" font-size="9.0" fill="#00bcd4" textLength="33.20" lengthAdjust="spacingAndGlyphs">1,869.17</text>
<text x="338.35" y="3.7" font-family="Liberation Sans, sans-serif" font-size="9.0" fill="#4caf50" textLength="33.20" lengthAdjust="spacingAndGlyphs">1,862.40</text>
<text x="378.20" y="3.7" font-family="Liberation Sans, sans-serif" font-size="9.0" fill="#ffeb3b" textLength="33.20" lengthAdjust="spacingAndGlyphs">1,863.93</text>
<text x="418.05" y="3.7" font-family="Liberation Sans, sans-serif" font-size="9.0" fill="#ff9800" textLength="33.20" lengthAdjust="spacingAndGlyphs">1,875.37</text>
<text x="457.90" y="3.7" font-family="Liberation Sans, sans-serif" font-size="9.0" fill="#f23645" textLength="33.20" lengthAdjust="spacingAndGlyphs">1,893.77</text>
<text x="497.75" y="3.7" font-family="Liberation Sans, sans-serif" font-size="9.0" fill="#9c27b0" textLength="33.20" lengthAdjust="spacingAndGlyphs">1,915.77</text>
<text x="536.15" y="3.7" font-family="Liberation Sans, sans-serif" font-size="9.0" fill="#00e676" textLength="17.70" lengthAdjust="spacingAndGlyphs">0.00</text>
<text x="558.55" y="3.7" font-family="Liberation Sans, sans-serif" font-size="9.0" fill="#00e676" textLength="17.70" lengthAdjust="spacingAndGlyphs">0.00</text>
<text x="581.35" y="3.7" font-family="Liberation Sans, sans-serif" font-size="9.0" fill="#00e676" textLength="17.70" lengthAdjust="spacingAndGlyphs">0.00</text>
<text x="603.95" y="3.7" font-family="Liberation Sans, sans-serif" font-size="9.0" fill="#00e676" textLength="17.70" lengthAdjust="spacingAndGlyphs">0.00</text>
<text x="626.15" y="3.7" font-family="Liberation Sans, sans-serif" font-size="9.0" fill="#00e676" textLength="17.70" lengthAdjust="spacingAndGlyphs">0.00</text>
<text x="649.05" y="3.7" font-family="Liberation Sans, sans-serif" font-size="9.0" fill="#ff5252" textLength="17.70" lengthAdjust="spacingAndGlyphs">0.00</text>
<text x="671.35" y="3.7" font-family="Liberation Sans, sans-serif" font-size="9.0" fill="#ff5252" textLength="17.70" lengthAdjust="spacingAndGlyphs">0.00</text>
<text x="693.95" y="3.7" font-family="Liberation Sans, sans-serif" font-size="9.0" fill="#ff5252" textLength="17.70" lengthAdjust="spacingAndGlyphs">0.00</text>
<text x="716.25" y="3.7" font-family="Liberation Sans, sans-serif" font-size="9.0" fill="#ff5252" textLength="17.70" lengthAdjust="spacingAndGlyphs">0.00</text>
<text x="739.05" y="3.7" font-family="Liberation Sans, sans-serif" font-size="9.0" fill="#ff5252" textLength="17.70" lengthAdjust="spacingAndGlyphs">0.00</text>
<text x="10.15" y="305" font-family="Liberation Sans, sans-serif" font-size="9.0" fill="#131722" textLength="57.40" lengthAdjust="spacingAndGlyphs">RSI (14, close)</text>
<text x="72.05" y="305" font-family="Liberation Sans, sans-serif" font-size="9.0" fill="#7e57c2" textLength="22.90" lengthAdjust="spacingAndGlyphs">73.88</text>
<text x="99.55" y="305" font-family="Liberation Sans, sans-serif" font-size="9.0" fill="#f7c93b" textLength="22.70" lengthAdjust="spacingAndGlyphs">52.56</text>
<text x="33" y="496" font-family="Liberation Sans, sans-serif" font-size="17" font-weight="bold" fill="#000">TradingView</text>
<rect x="5.6" y="483" width="10" height="4" fill="#000"/><rect x="17" y="483" width="10.5" height="4" fill="#000"/>
</svg></body></html>
